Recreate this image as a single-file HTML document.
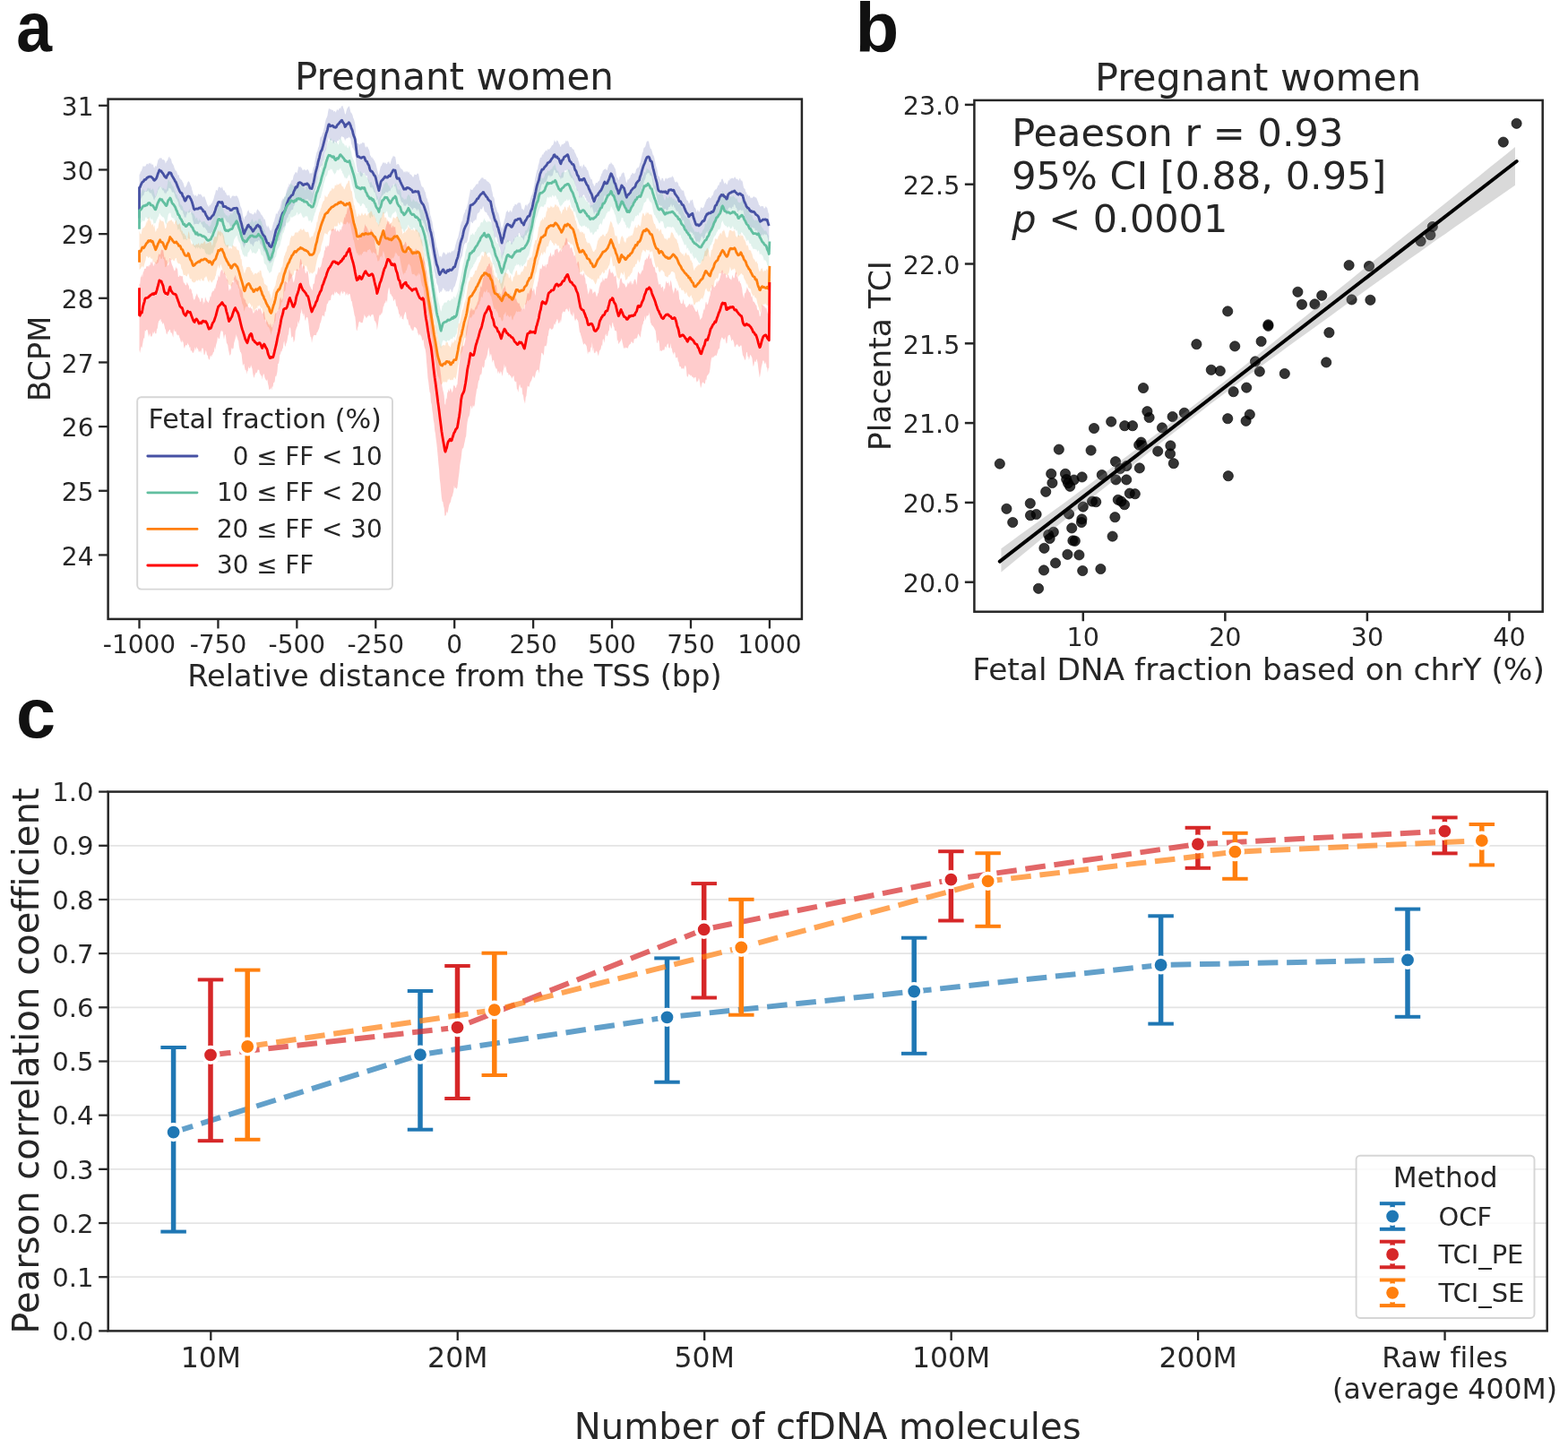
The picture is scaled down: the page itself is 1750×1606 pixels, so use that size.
<!DOCTYPE html>
<html lang="en">
<head>
<meta charset="utf-8">
<title>Figure: fetal fraction, placenta TCI and Pearson correlation</title>
<style>
html,body{margin:0;padding:0;background:#ffffff;}
body{width:1750px;height:1606px;overflow:hidden;}
svg{display:block;font-family:"DejaVu Sans","Liberation Sans",sans-serif;}
text{font-variant-ligatures:none;font-feature-settings:"liga" 0,"clig" 0,"dlig" 0,"calt" 0;white-space:pre;}
</style>
</head>
<body>
<svg width="1750" height="1606" viewBox="0 0 1750 1606" role="img" aria-label="Three-panel figure: BCPM profiles by fetal fraction, placenta TCI versus fetal DNA fraction, and Pearson correlation by number of cfDNA molecules">
<rect x="0" y="0" width="1750" height="1606" fill="#ffffff"/>
<text transform="translate(18.2 56.8) scale(0.93 1)" x="0" y="0" font-size="77" font-weight="bold" font-family="'Liberation Sans', Arial, Helvetica, sans-serif" fill="#111111">a</text>
<text transform="translate(954.6 57.6) scale(1.037 1)" x="0" y="0" font-size="77" font-weight="bold" font-family="'Liberation Sans', Arial, Helvetica, sans-serif" fill="#111111">b</text>
<text transform="translate(18.0 822.8) scale(1.03 1)" x="0" y="0" font-size="77" font-weight="bold" font-family="'Liberation Sans', Arial, Helvetica, sans-serif" fill="#111111">c</text>
<g>
<path d="M155.5,194.8 L156.2,194.3 L156.9,191.4 L157.6,191.2 L158.3,189.2 L159.0,187.5 L159.7,185.1 L160.4,185.9 L161.1,185.0 L161.8,185.9 L162.5,185.3 L163.2,183.8 L163.9,182.7 L164.6,182.7 L165.3,183.7 L166.0,182.5 L166.7,181.7 L167.4,183.1 L168.1,181.2 L168.8,183.2 L169.5,183.5 L170.2,184.1 L170.9,183.2 L171.6,186.4 L172.3,187.8 L173.0,185.7 L173.7,184.9 L174.4,186.2 L175.1,184.1 L175.8,181.3 L176.5,178.0 L177.2,178.2 L177.9,176.2 L178.6,176.6 L179.3,176.7 L180.0,175.8 L180.7,177.3 L181.4,178.5 L182.1,177.7 L182.8,178.5 L183.5,178.7 L184.2,180.2 L184.9,182.7 L185.6,180.5 L186.3,179.4 L187.0,179.0 L187.7,176.7 L188.4,175.4 L189.1,174.6 L189.8,177.3 L190.5,176.5 L191.2,178.4 L191.9,181.8 L192.6,182.8 L193.3,183.8 L194.0,185.2 L194.7,187.7 L195.4,189.3 L196.1,190.7 L196.8,190.5 L197.5,192.5 L198.2,194.6 L198.9,195.8 L199.6,195.1 L200.3,198.5 L201.0,198.9 L201.7,200.2 L202.4,200.5 L203.1,201.4 L203.8,203.2 L204.5,204.0 L205.2,206.8 L205.9,208.8 L206.6,209.5 L207.3,207.9 L208.0,207.6 L208.7,205.2 L209.4,203.6 L210.1,202.3 L210.8,202.5 L211.5,203.6 L212.2,205.2 L212.9,207.1 L213.6,208.5 L214.3,211.8 L215.0,213.7 L215.7,217.1 L216.4,217.1 L217.1,219.2 L217.8,217.8 L218.5,217.5 L219.2,218.8 L219.9,219.5 L220.6,218.3 L221.3,216.1 L222.0,217.1 L222.7,216.9 L223.4,216.7 L224.1,216.4 L224.8,218.0 L225.5,218.4 L226.2,220.5 L226.9,219.7 L227.6,219.1 L228.3,219.5 L229.0,221.2 L229.7,223.3 L230.4,225.3 L231.1,227.8 L231.8,228.9 L232.5,230.3 L233.2,231.0 L233.9,228.3 L234.6,229.4 L235.3,227.9 L236.0,227.0 L236.7,226.2 L237.4,224.4 L238.1,223.0 L238.8,220.5 L239.5,217.7 L240.2,216.1 L240.9,212.6 L241.6,211.7 L242.3,212.9 L243.0,212.0 L243.7,209.1 L244.4,208.4 L245.1,208.8 L245.8,209.1 L246.5,210.1 L247.2,209.7 L247.9,208.0 L248.6,210.4 L249.3,212.5 L250.0,212.5 L250.7,212.6 L251.4,215.0 L252.1,214.6 L252.8,217.5 L253.5,217.6 L254.2,218.8 L254.9,217.8 L255.6,217.5 L256.3,218.4 L257.0,220.9 L257.7,221.4 L258.4,219.6 L259.1,219.0 L259.8,218.3 L260.5,218.5 L261.2,219.0 L261.9,218.5 L262.6,219.3 L263.3,218.1 L264.0,218.9 L264.7,218.5 L265.4,220.2 L266.1,221.6 L266.8,223.7 L267.5,226.4 L268.2,229.8 L268.9,231.2 L269.6,232.7 L270.3,235.6 L271.0,239.9 L271.7,242.8 L272.4,245.5 L273.1,241.8 L273.8,241.8 L274.5,240.4 L275.2,240.0 L275.9,236.5 L276.6,235.5 L277.3,234.1 L278.0,236.5 L278.7,237.8 L279.4,238.2 L280.1,237.9 L280.8,238.6 L281.5,239.0 L282.2,239.4 L282.9,239.2 L283.6,238.2 L284.3,236.8 L285.0,237.2 L285.7,238.9 L286.4,235.3 L287.1,233.7 L287.8,233.6 L288.5,234.7 L289.2,235.4 L289.9,236.2 L290.6,237.4 L291.3,239.4 L292.0,239.4 L292.7,240.8 L293.4,242.0 L294.1,242.9 L294.8,245.1 L295.5,244.3 L296.2,246.7 L296.9,250.6 L297.6,252.2 L298.3,253.9 L299.0,251.3 L299.7,253.0 L300.4,254.2 L301.1,256.5 L301.8,257.3 L302.5,257.4 L303.2,256.0 L303.9,253.6 L304.6,250.6 L305.3,248.1 L306.0,247.0 L306.7,243.7 L307.4,241.7 L308.1,237.6 L308.8,238.9 L309.5,238.8 L310.2,235.9 L310.9,235.6 L311.6,233.7 L312.3,232.7 L313.0,229.9 L313.7,227.1 L314.4,224.0 L315.1,222.9 L315.8,221.2 L316.5,222.2 L317.2,220.5 L317.9,219.5 L318.6,219.6 L319.3,215.3 L320.0,212.3 L320.7,210.5 L321.4,208.6 L322.1,208.1 L322.8,204.5 L323.5,206.3 L324.2,205.2 L324.9,202.1 L325.6,201.2 L326.3,201.3 L327.0,199.2 L327.7,196.0 L328.4,194.8 L329.1,193.4 L329.8,191.9 L330.5,191.9 L331.2,193.5 L331.9,192.0 L332.6,188.9 L333.3,185.4 L334.0,186.6 L334.7,186.4 L335.4,185.4 L336.1,188.2 L336.8,186.4 L337.5,190.1 L338.2,189.3 L338.9,190.3 L339.6,188.7 L340.3,188.9 L341.0,190.4 L341.7,189.9 L342.4,189.4 L343.1,188.8 L343.8,189.5 L344.5,190.4 L345.2,192.5 L345.9,194.4 L346.6,192.9 L347.3,193.0 L348.0,194.1 L348.7,192.3 L349.4,188.3 L350.1,186.3 L350.8,185.7 L351.5,180.0 L352.2,175.8 L352.9,172.3 L353.6,169.7 L354.3,168.8 L355.0,165.1 L355.7,164.0 L356.4,161.0 L357.1,155.3 L357.8,152.4 L358.5,152.7 L359.2,151.6 L359.9,148.7 L360.6,147.6 L361.3,144.1 L362.0,141.9 L362.7,137.8 L363.4,134.5 L364.1,132.3 L364.8,131.0 L365.5,129.1 L366.2,124.3 L366.9,121.2 L367.6,121.3 L368.3,121.6 L369.0,122.3 L369.7,122.3 L370.4,122.7 L371.1,122.8 L371.8,122.9 L372.5,124.8 L373.2,124.1 L373.9,123.8 L374.6,125.7 L375.3,124.3 L376.0,122.3 L376.7,122.3 L377.4,123.5 L378.1,122.1 L378.8,121.1 L379.5,120.3 L380.2,121.7 L380.9,118.4 L381.6,118.5 L382.3,117.8 L383.0,120.0 L383.7,121.7 L384.4,124.2 L385.1,127.6 L385.8,127.2 L386.5,124.0 L387.2,121.7 L387.9,120.2 L388.6,119.8 L389.3,118.2 L390.0,119.3 L390.7,121.9 L391.4,125.5 L392.1,125.7 L392.8,127.1 L393.5,128.5 L394.2,131.4 L394.9,132.8 L395.6,135.3 L396.3,138.5 L397.0,146.3 L397.7,154.0 L398.4,159.7 L399.1,159.9 L399.8,159.9 L400.5,161.0 L401.2,161.6 L401.9,161.1 L402.6,160.1 L403.3,160.5 L404.0,159.8 L404.7,158.8 L405.4,159.5 L406.1,158.9 L406.8,160.1 L407.5,163.2 L408.2,165.0 L408.9,163.6 L409.6,163.6 L410.3,163.9 L411.0,165.7 L411.7,166.8 L412.4,168.7 L413.1,173.6 L413.8,173.8 L414.5,175.9 L415.2,175.0 L415.9,176.9 L416.6,176.9 L417.3,178.7 L418.0,179.3 L418.7,181.5 L419.4,182.4 L420.1,185.8 L420.8,188.6 L421.5,191.2 L422.2,194.3 L422.9,195.5 L423.6,191.1 L424.3,188.1 L425.0,185.2 L425.7,185.3 L426.4,183.3 L427.1,182.1 L427.8,180.9 L428.5,181.6 L429.2,182.5 L429.9,181.0 L430.6,182.2 L431.3,182.9 L432.0,183.3 L432.7,180.8 L433.4,180.9 L434.1,179.7 L434.8,182.7 L435.5,183.1 L436.2,180.3 L436.9,177.7 L437.6,176.4 L438.3,175.2 L439.0,173.5 L439.7,174.7 L440.4,174.7 L441.1,174.7 L441.8,178.8 L442.5,184.2 L443.2,183.4 L443.9,183.0 L444.6,183.1 L445.3,183.7 L446.0,185.4 L446.7,187.6 L447.4,187.7 L448.1,189.2 L448.8,188.5 L449.5,190.1 L450.2,191.0 L450.9,192.7 L451.6,191.6 L452.3,190.9 L453.0,193.1 L453.7,191.1 L454.4,191.4 L455.1,191.5 L455.8,193.1 L456.5,191.3 L457.2,194.0 L457.9,194.4 L458.6,194.7 L459.3,195.2 L460.0,196.6 L460.7,197.6 L461.4,197.7 L462.1,195.8 L462.8,194.3 L463.5,195.0 L464.2,195.1 L464.9,195.3 L465.6,193.4 L466.3,193.7 L467.0,193.7 L467.7,197.1 L468.4,201.0 L469.1,202.0 L469.8,205.5 L470.5,207.4 L471.2,208.8 L471.9,208.6 L472.6,209.4 L473.3,211.2 L474.0,213.2 L474.7,214.5 L475.4,217.7 L476.1,221.3 L476.8,221.6 L477.5,225.4 L478.2,225.8 L478.9,230.6 L479.6,234.9 L480.3,240.5 L481.0,241.8 L481.7,245.5 L482.4,247.2 L483.1,251.9 L483.8,256.9 L484.5,258.6 L485.2,264.6 L485.9,267.9 L486.6,271.6 L487.3,275.5 L488.0,277.0 L488.7,279.6 L489.4,282.5 L490.1,285.6 L490.8,286.8 L491.5,285.4 L492.2,286.0 L492.9,287.5 L493.6,284.1 L494.3,282.5 L495.0,280.9 L495.7,281.9 L496.4,282.4 L497.1,283.2 L497.8,284.8 L498.5,283.4 L499.2,283.0 L499.9,280.9 L500.6,282.9 L501.3,281.3 L502.0,281.4 L502.7,282.8 L503.4,281.5 L504.1,280.4 L504.8,280.0 L505.5,280.8 L506.2,279.3 L506.9,279.4 L507.6,276.9 L508.3,273.4 L509.0,271.5 L509.7,268.5 L510.4,266.4 L511.1,265.2 L511.8,262.2 L512.5,258.7 L513.2,256.4 L513.9,251.5 L514.6,249.5 L515.3,247.2 L516.0,246.2 L516.7,242.5 L517.4,239.7 L518.1,238.0 L518.8,237.0 L519.5,233.8 L520.2,233.9 L520.9,231.4 L521.6,229.3 L522.3,226.1 L523.0,221.7 L523.7,218.5 L524.4,215.1 L525.1,210.4 L525.8,212.0 L526.5,212.0 L527.2,211.9 L527.9,210.7 L528.6,209.8 L529.3,209.1 L530.0,208.3 L530.7,207.1 L531.4,205.8 L532.1,205.5 L532.8,205.2 L533.5,205.6 L534.2,202.2 L534.9,201.4 L535.6,201.3 L536.3,199.5 L537.0,199.4 L537.7,197.9 L538.4,198.6 L539.1,198.1 L539.8,199.7 L540.5,199.9 L541.2,200.2 L541.9,200.1 L542.6,200.8 L543.3,202.2 L544.0,202.3 L544.7,203.1 L545.4,203.1 L546.1,204.7 L546.8,204.4 L547.5,206.0 L548.2,208.4 L548.9,212.4 L549.6,214.8 L550.3,219.6 L551.0,219.8 L551.7,221.8 L552.4,226.6 L553.1,230.2 L553.8,231.4 L554.5,234.3 L555.2,236.7 L555.9,237.3 L556.6,239.1 L557.3,242.2 L558.0,245.9 L558.7,249.0 L559.4,252.8 L560.1,255.7 L560.8,253.7 L561.5,251.6 L562.2,248.5 L562.9,245.6 L563.6,243.6 L564.3,240.1 L565.0,236.2 L565.7,236.3 L566.4,234.3 L567.1,236.6 L567.8,236.9 L568.5,236.4 L569.2,234.8 L569.9,234.7 L570.6,236.8 L571.3,236.4 L572.0,233.1 L572.7,231.7 L573.4,229.8 L574.1,229.9 L574.8,227.6 L575.5,228.1 L576.2,228.8 L576.9,228.3 L577.6,227.0 L578.3,226.0 L579.0,226.8 L579.7,226.1 L580.4,226.2 L581.1,226.8 L581.8,230.3 L582.5,233.3 L583.2,233.1 L583.9,234.1 L584.6,234.7 L585.3,232.5 L586.0,229.6 L586.7,228.6 L587.4,228.3 L588.1,230.8 L588.8,228.3 L589.5,228.1 L590.2,226.0 L590.9,227.1 L591.6,223.8 L592.3,220.8 L593.0,218.6 L593.7,217.5 L594.4,215.4 L595.1,212.0 L595.8,208.6 L596.5,205.0 L597.2,199.5 L597.9,196.6 L598.6,192.9 L599.3,189.8 L600.0,189.0 L600.7,184.4 L601.4,182.6 L602.1,179.1 L602.8,176.4 L603.5,175.4 L604.2,175.9 L604.9,173.0 L605.6,172.2 L606.3,172.7 L607.0,170.6 L607.7,170.1 L608.4,169.1 L609.1,167.6 L609.8,168.3 L610.5,168.7 L611.2,165.7 L611.9,167.2 L612.6,166.6 L613.3,166.5 L614.0,165.5 L614.7,164.8 L615.4,163.5 L616.1,162.1 L616.8,162.3 L617.5,161.0 L618.2,158.7 L618.9,156.1 L619.6,158.0 L620.3,159.1 L621.0,157.5 L621.7,156.6 L622.4,157.3 L623.1,158.3 L623.8,160.5 L624.5,161.1 L625.2,163.0 L625.9,164.2 L626.6,161.5 L627.3,161.5 L628.0,160.2 L628.7,161.4 L629.4,160.0 L630.1,159.9 L630.8,159.0 L631.5,156.5 L632.2,158.5 L632.9,156.4 L633.6,157.4 L634.3,157.9 L635.0,160.5 L635.7,163.3 L636.4,164.3 L637.1,164.1 L637.8,164.3 L638.5,165.5 L639.2,166.4 L639.9,166.5 L640.6,167.2 L641.3,169.4 L642.0,170.9 L642.7,172.3 L643.4,174.3 L644.1,175.7 L644.8,176.2 L645.5,179.2 L646.2,181.3 L646.9,185.3 L647.6,185.6 L648.3,185.8 L649.0,184.2 L649.7,188.2 L650.4,185.5 L651.1,183.7 L651.8,183.4 L652.5,185.8 L653.2,186.3 L653.9,186.2 L654.6,187.8 L655.3,190.1 L656.0,189.5 L656.7,192.1 L657.4,194.5 L658.1,196.9 L658.8,198.2 L659.5,200.2 L660.2,199.6 L660.9,201.0 L661.6,204.8 L662.3,205.2 L663.0,207.8 L663.7,207.4 L664.4,205.7 L665.1,203.7 L665.8,204.1 L666.5,204.5 L667.2,202.9 L667.9,202.3 L668.6,201.9 L669.3,200.6 L670.0,197.4 L670.7,196.3 L671.4,193.8 L672.1,193.3 L672.8,190.4 L673.5,189.9 L674.2,189.1 L674.9,188.9 L675.6,188.6 L676.3,188.6 L677.0,190.0 L677.7,189.7 L678.4,187.1 L679.1,184.7 L679.8,183.6 L680.5,182.6 L681.2,183.2 L681.9,180.8 L682.6,182.2 L683.3,183.0 L684.0,183.9 L684.7,184.2 L685.4,186.1 L686.1,187.6 L686.8,188.5 L687.5,192.3 L688.2,196.8 L688.9,199.0 L689.6,198.1 L690.3,201.2 L691.0,200.0 L691.7,196.8 L692.4,197.6 L693.1,196.2 L693.8,193.7 L694.5,193.6 L695.2,192.8 L695.9,192.3 L696.6,193.3 L697.3,196.5 L698.0,198.4 L698.7,202.6 L699.4,204.4 L700.1,201.6 L700.8,200.0 L701.5,200.8 L702.2,198.4 L702.9,199.4 L703.6,196.8 L704.3,194.8 L705.0,195.0 L705.7,192.8 L706.4,193.1 L707.1,193.8 L707.8,194.2 L708.5,193.3 L709.2,192.8 L709.9,189.6 L710.6,188.2 L711.3,187.8 L712.0,186.2 L712.7,187.5 L713.4,185.6 L714.1,182.3 L714.8,180.9 L715.5,177.1 L716.2,174.3 L716.9,171.1 L717.6,169.5 L718.3,165.8 L719.0,164.5 L719.7,164.6 L720.4,163.0 L721.1,160.3 L721.8,157.9 L722.5,157.5 L723.2,157.4 L723.9,157.6 L724.6,160.4 L725.3,163.4 L726.0,166.3 L726.7,165.8 L727.4,167.8 L728.1,170.3 L728.8,172.9 L729.5,173.5 L730.2,175.7 L730.9,179.2 L731.6,182.2 L732.3,185.6 L733.0,187.5 L733.7,190.5 L734.4,195.8 L735.1,197.5 L735.8,196.6 L736.5,199.6 L737.2,200.8 L737.9,201.7 L738.6,198.8 L739.3,198.7 L740.0,198.9 L740.7,201.7 L741.4,202.6 L742.1,200.5 L742.8,198.7 L743.5,198.4 L744.2,199.9 L744.9,199.6 L745.6,198.6 L746.3,199.0 L747.0,198.0 L747.7,198.3 L748.4,198.6 L749.1,196.8 L749.8,198.4 L750.5,196.1 L751.2,197.6 L751.9,198.4 L752.6,201.1 L753.3,203.5 L754.0,202.6 L754.7,203.8 L755.4,202.2 L756.1,203.7 L756.8,204.2 L757.5,207.3 L758.2,208.2 L758.9,208.2 L759.6,210.6 L760.3,211.0 L761.0,212.6 L761.7,212.6 L762.4,212.6 L763.1,213.0 L763.8,216.3 L764.5,218.8 L765.2,219.8 L765.9,222.0 L766.6,223.4 L767.3,223.8 L768.0,224.6 L768.7,227.0 L769.4,226.9 L770.1,225.1 L770.8,222.5 L771.5,224.4 L772.2,222.8 L772.9,222.8 L773.6,226.0 L774.3,228.7 L775.0,231.4 L775.7,231.7 L776.4,233.1 L777.1,235.0 L777.8,237.2 L778.5,234.3 L779.2,234.4 L779.9,236.7 L780.6,236.2 L781.3,234.6 L782.0,232.0 L782.7,230.9 L783.4,231.9 L784.1,232.4 L784.8,231.6 L785.5,231.2 L786.2,229.1 L786.9,227.0 L787.6,224.9 L788.3,223.7 L789.0,222.1 L789.7,221.9 L790.4,220.9 L791.1,219.9 L791.8,220.1 L792.5,221.6 L793.2,221.0 L793.9,220.2 L794.6,218.2 L795.3,218.3 L796.0,216.7 L796.7,213.8 L797.4,213.1 L798.1,211.6 L798.8,211.4 L799.5,211.3 L800.2,210.0 L800.9,208.2 L801.6,206.5 L802.3,206.9 L803.0,204.3 L803.7,203.1 L804.4,203.4 L805.1,200.6 L805.8,199.6 L806.5,199.5 L807.2,201.7 L807.9,203.4 L808.6,205.4 L809.3,203.6 L810.0,204.5 L810.7,205.5 L811.4,206.0 L812.1,204.7 L812.8,201.6 L813.5,201.3 L814.2,201.4 L814.9,198.6 L815.6,200.1 L816.3,199.1 L817.0,198.5 L817.7,198.8 L818.4,199.6 L819.1,199.0 L819.8,197.5 L820.5,197.5 L821.2,199.3 L821.9,199.8 L822.6,200.1 L823.3,199.5 L824.0,201.7 L824.7,201.1 L825.4,199.3 L826.1,198.8 L826.8,201.4 L827.5,201.5 L828.2,201.4 L828.9,203.4 L829.6,207.5 L830.3,210.0 L831.0,210.6 L831.7,211.6 L832.4,214.4 L833.1,214.6 L833.8,218.0 L834.5,216.6 L835.2,218.9 L835.9,218.5 L836.6,218.3 L837.3,219.9 L838.0,221.4 L838.7,220.2 L839.4,221.3 L840.1,220.2 L840.8,219.7 L841.5,219.1 L842.2,220.0 L842.9,220.3 L843.6,220.5 L844.3,220.7 L845.0,222.7 L845.7,224.6 L846.4,226.0 L847.1,228.9 L847.8,228.7 L848.5,230.8 L849.2,230.6 L849.9,229.8 L850.6,230.3 L851.3,230.1 L852.0,230.4 L852.7,232.6 L853.4,232.4 L854.1,231.5 L854.8,229.9 L855.5,231.6 L856.2,231.9 L856.9,234.8 L857.6,237.7 L858.3,238.8 L858.3,270.4 L857.6,269.8 L856.9,266.0 L856.2,263.3 L855.5,261.6 L854.8,262.6 L854.1,261.4 L853.4,260.9 L852.7,262.0 L852.0,263.1 L851.3,261.1 L850.6,262.3 L849.9,263.1 L849.2,265.1 L848.5,265.5 L847.8,264.3 L847.1,263.4 L846.4,262.1 L845.7,261.5 L845.0,257.0 L844.3,257.4 L843.6,257.1 L842.9,257.8 L842.2,254.6 L841.5,254.7 L840.8,254.6 L840.1,254.1 L839.4,253.5 L838.7,254.4 L838.0,253.9 L837.3,254.2 L836.6,252.6 L835.9,250.3 L835.2,248.9 L834.5,248.9 L833.8,248.4 L833.1,246.0 L832.4,244.5 L831.7,243.3 L831.0,242.3 L830.3,239.0 L829.6,235.4 L828.9,233.7 L828.2,235.5 L827.5,235.0 L826.8,234.6 L826.1,233.7 L825.4,234.9 L824.7,234.5 L824.0,236.3 L823.3,236.5 L822.6,233.8 L821.9,232.1 L821.2,231.8 L820.5,229.1 L819.8,228.6 L819.1,228.0 L818.4,231.4 L817.7,230.6 L817.0,231.7 L816.3,233.2 L815.6,232.2 L814.9,231.5 L814.2,231.5 L813.5,232.0 L812.8,232.6 L812.1,236.5 L811.4,238.2 L810.7,240.1 L810.0,238.0 L809.3,237.2 L808.6,236.3 L807.9,234.8 L807.2,232.8 L806.5,234.2 L805.8,234.4 L805.1,235.0 L804.4,235.7 L803.7,236.3 L803.0,237.4 L802.3,241.2 L801.6,242.9 L800.9,243.1 L800.2,244.7 L799.5,248.0 L798.8,249.2 L798.1,249.2 L797.4,251.7 L796.7,252.9 L796.0,254.6 L795.3,257.1 L794.6,256.0 L793.9,255.5 L793.2,258.0 L792.5,257.6 L791.8,257.3 L791.1,257.2 L790.4,258.2 L789.7,260.3 L789.0,257.8 L788.3,260.6 L787.6,260.3 L786.9,263.1 L786.2,265.9 L785.5,266.4 L784.8,266.4 L784.1,264.9 L783.4,263.4 L782.7,264.5 L782.0,267.4 L781.3,269.1 L780.6,270.5 L779.9,270.9 L779.2,269.0 L778.5,269.5 L777.8,269.6 L777.1,270.9 L776.4,268.7 L775.7,266.2 L775.0,265.5 L774.3,261.4 L773.6,262.2 L772.9,259.7 L772.2,259.9 L771.5,259.4 L770.8,257.9 L770.1,259.5 L769.4,259.9 L768.7,262.6 L768.0,262.2 L767.3,261.3 L766.6,258.5 L765.9,256.2 L765.2,256.3 L764.5,252.7 L763.8,251.1 L763.1,246.2 L762.4,245.6 L761.7,247.3 L761.0,245.1 L760.3,243.8 L759.6,241.3 L758.9,239.0 L758.2,239.7 L757.5,238.4 L756.8,235.8 L756.1,235.8 L755.4,236.1 L754.7,234.6 L754.0,234.2 L753.3,231.4 L752.6,231.7 L751.9,229.1 L751.2,228.6 L750.5,231.0 L749.8,230.5 L749.1,227.2 L748.4,228.9 L747.7,230.7 L747.0,230.9 L746.3,230.9 L745.6,233.6 L744.9,234.6 L744.2,236.2 L743.5,233.6 L742.8,232.9 L742.1,233.0 L741.4,233.7 L740.7,234.7 L740.0,233.9 L739.3,232.8 L738.6,229.3 L737.9,229.9 L737.2,229.7 L736.5,228.4 L735.8,229.2 L735.1,229.1 L734.4,227.2 L733.7,224.2 L733.0,220.0 L732.3,217.8 L731.6,214.1 L730.9,211.8 L730.2,210.8 L729.5,209.7 L728.8,206.5 L728.1,201.7 L727.4,197.6 L726.7,195.7 L726.0,196.4 L725.3,195.0 L724.6,193.0 L723.9,192.7 L723.2,193.4 L722.5,192.9 L721.8,194.7 L721.1,195.1 L720.4,198.8 L719.7,200.5 L719.0,201.5 L718.3,204.4 L717.6,207.3 L716.9,207.8 L716.2,210.1 L715.5,212.4 L714.8,215.2 L714.1,216.6 L713.4,219.2 L712.7,218.1 L712.0,219.1 L711.3,217.2 L710.6,218.8 L709.9,220.1 L709.2,225.3 L708.5,225.9 L707.8,226.3 L707.1,226.4 L706.4,226.8 L705.7,229.6 L705.0,228.0 L704.3,228.8 L703.6,230.2 L702.9,232.9 L702.2,233.4 L701.5,235.1 L700.8,233.8 L700.1,233.9 L699.4,237.5 L698.7,236.7 L698.0,233.6 L697.3,230.1 L696.6,230.2 L695.9,229.8 L695.2,228.3 L694.5,227.3 L693.8,226.4 L693.1,230.7 L692.4,230.8 L691.7,232.6 L691.0,234.5 L690.3,235.7 L689.6,232.0 L688.9,229.2 L688.2,228.9 L687.5,228.2 L686.8,223.5 L686.1,220.4 L685.4,219.5 L684.7,214.8 L684.0,216.8 L683.3,215.4 L682.6,213.8 L681.9,212.5 L681.2,215.3 L680.5,216.2 L679.8,215.7 L679.1,216.2 L678.4,220.5 L677.7,222.3 L677.0,221.1 L676.3,222.1 L675.6,218.6 L674.9,217.8 L674.2,220.5 L673.5,224.3 L672.8,226.2 L672.1,227.0 L671.4,229.0 L670.7,229.8 L670.0,231.7 L669.3,231.7 L668.6,233.6 L667.9,232.3 L667.2,235.7 L666.5,237.4 L665.8,238.2 L665.1,237.0 L664.4,235.9 L663.7,237.8 L663.0,239.5 L662.3,236.2 L661.6,233.6 L660.9,231.5 L660.2,230.6 L659.5,233.1 L658.8,230.6 L658.1,228.1 L657.4,225.8 L656.7,225.9 L656.0,225.3 L655.3,224.1 L654.6,224.3 L653.9,220.3 L653.2,221.6 L652.5,219.1 L651.8,216.7 L651.1,217.9 L650.4,218.2 L649.7,220.1 L649.0,221.2 L648.3,219.0 L647.6,220.1 L646.9,221.2 L646.2,219.6 L645.5,215.5 L644.8,212.5 L644.1,213.4 L643.4,209.9 L642.7,208.5 L642.0,206.3 L641.3,203.9 L640.6,201.8 L639.9,200.8 L639.2,199.4 L638.5,198.4 L637.8,198.9 L637.1,197.4 L636.4,196.5 L635.7,195.6 L635.0,192.9 L634.3,191.6 L633.6,188.7 L632.9,188.9 L632.2,190.1 L631.5,190.4 L630.8,189.8 L630.1,190.7 L629.4,192.9 L628.7,197.8 L628.0,198.6 L627.3,198.6 L626.6,198.2 L625.9,200.6 L625.2,197.8 L624.5,197.4 L623.8,195.9 L623.1,194.4 L622.4,192.7 L621.7,192.5 L621.0,192.9 L620.3,192.9 L619.6,190.3 L618.9,189.2 L618.2,189.9 L617.5,192.8 L616.8,196.2 L616.1,195.6 L615.4,196.9 L614.7,195.7 L614.0,198.5 L613.3,195.5 L612.6,196.1 L611.9,195.5 L611.2,198.1 L610.5,200.2 L609.8,202.2 L609.1,203.4 L608.4,203.5 L607.7,203.3 L607.0,205.4 L606.3,206.0 L605.6,205.1 L604.9,205.6 L604.2,206.9 L603.5,210.7 L602.8,213.2 L602.1,214.0 L601.4,215.1 L600.7,219.1 L600.0,219.2 L599.3,223.3 L598.6,226.4 L597.9,231.4 L597.2,233.2 L596.5,238.3 L595.8,240.8 L595.1,243.4 L594.4,249.5 L593.7,251.8 L593.0,253.3 L592.3,254.5 L591.6,257.3 L590.9,259.1 L590.2,257.7 L589.5,258.6 L588.8,259.8 L588.1,260.6 L587.4,262.8 L586.7,263.2 L586.0,262.0 L585.3,265.5 L584.6,268.7 L583.9,267.0 L583.2,265.5 L582.5,265.0 L581.8,264.9 L581.1,263.4 L580.4,262.3 L579.7,260.1 L579.0,260.1 L578.3,263.0 L577.6,264.5 L576.9,263.6 L576.2,265.1 L575.5,265.0 L574.8,265.1 L574.1,267.4 L573.4,269.3 L572.7,270.0 L572.0,271.6 L571.3,272.7 L570.6,273.0 L569.9,270.1 L569.2,269.0 L568.5,269.0 L567.8,270.5 L567.1,269.6 L566.4,270.0 L565.7,271.1 L565.0,271.8 L564.3,274.4 L563.6,277.7 L562.9,279.8 L562.2,282.8 L561.5,284.5 L560.8,286.1 L560.1,290.2 L559.4,285.8 L558.7,281.0 L558.0,277.2 L557.3,275.6 L556.6,273.8 L555.9,270.3 L555.2,270.2 L554.5,266.1 L553.8,264.5 L553.1,264.2 L552.4,265.7 L551.7,263.4 L551.0,258.7 L550.3,257.5 L549.6,254.1 L548.9,249.4 L548.2,247.2 L547.5,244.6 L546.8,244.7 L546.1,242.8 L545.4,241.6 L544.7,240.3 L544.0,239.9 L543.3,237.6 L542.6,237.1 L541.9,236.8 L541.2,236.2 L540.5,235.3 L539.8,231.6 L539.1,229.8 L538.4,232.4 L537.7,233.8 L537.0,233.2 L536.3,232.9 L535.6,235.4 L534.9,237.2 L534.2,237.3 L533.5,237.9 L532.8,238.5 L532.1,241.9 L531.4,245.8 L530.7,245.2 L530.0,245.4 L529.3,246.7 L528.6,246.6 L527.9,248.7 L527.2,249.3 L526.5,248.2 L525.8,247.8 L525.1,247.0 L524.4,254.3 L523.7,257.8 L523.0,261.0 L522.3,265.2 L521.6,268.5 L520.9,270.6 L520.2,271.2 L519.5,270.7 L518.8,272.2 L518.1,273.1 L517.4,276.2 L516.7,279.9 L516.0,285.5 L515.3,286.8 L514.6,288.3 L513.9,290.6 L513.2,292.9 L512.5,297.9 L511.8,301.5 L511.1,306.8 L510.4,309.2 L509.7,312.6 L509.0,314.7 L508.3,317.3 L507.6,319.4 L506.9,320.2 L506.2,321.5 L505.5,323.6 L504.8,325.8 L504.1,326.2 L503.4,323.6 L502.7,322.3 L502.0,323.5 L501.3,324.9 L500.6,325.3 L499.9,325.6 L499.2,324.6 L498.5,325.3 L497.8,326.0 L497.1,323.2 L496.4,324.4 L495.7,322.5 L495.0,322.1 L494.3,321.3 L493.6,323.7 L492.9,324.7 L492.2,325.9 L491.5,324.9 L490.8,327.1 L490.1,326.7 L489.4,323.0 L488.7,319.0 L488.0,317.6 L487.3,315.9 L486.6,311.1 L485.9,310.1 L485.2,305.1 L484.5,302.7 L483.8,296.3 L483.1,291.9 L482.4,286.6 L481.7,283.0 L481.0,279.3 L480.3,275.8 L479.6,274.1 L478.9,270.1 L478.2,264.5 L477.5,261.4 L476.8,258.9 L476.1,258.6 L475.4,256.7 L474.7,254.0 L474.0,251.5 L473.3,249.5 L472.6,248.7 L471.9,246.0 L471.2,246.3 L470.5,246.3 L469.8,245.1 L469.1,242.1 L468.4,237.7 L467.7,235.8 L467.0,233.4 L466.3,233.3 L465.6,235.6 L464.9,234.4 L464.2,232.8 L463.5,232.5 L462.8,232.1 L462.1,232.0 L461.4,232.6 L460.7,233.8 L460.0,233.9 L459.3,232.4 L458.6,231.6 L457.9,231.4 L457.2,230.2 L456.5,229.8 L455.8,229.8 L455.1,228.7 L454.4,227.2 L453.7,227.9 L453.0,230.3 L452.3,229.4 L451.6,229.4 L450.9,229.9 L450.2,227.7 L449.5,226.1 L448.8,226.0 L448.1,225.6 L447.4,224.1 L446.7,221.3 L446.0,219.1 L445.3,217.6 L444.6,216.9 L443.9,216.7 L443.2,215.8 L442.5,213.7 L441.8,210.4 L441.1,207.2 L440.4,208.8 L439.7,206.0 L439.0,205.1 L438.3,208.2 L437.6,209.3 L436.9,209.9 L436.2,210.7 L435.5,213.2 L434.8,213.2 L434.1,212.8 L433.4,214.1 L432.7,215.2 L432.0,214.0 L431.3,215.0 L430.6,213.8 L429.9,215.8 L429.2,216.0 L428.5,215.9 L427.8,217.8 L427.1,217.4 L426.4,218.9 L425.7,219.7 L425.0,221.8 L424.3,226.5 L423.6,228.8 L422.9,230.4 L422.2,227.5 L421.5,222.0 L420.8,223.5 L420.1,221.3 L419.4,217.8 L418.7,215.2 L418.0,214.5 L417.3,214.0 L416.6,211.2 L415.9,210.5 L415.2,208.5 L414.5,209.7 L413.8,209.2 L413.1,209.0 L412.4,205.2 L411.7,204.2 L411.0,201.6 L410.3,199.4 L409.6,195.8 L408.9,196.3 L408.2,196.2 L407.5,195.1 L406.8,192.6 L406.1,192.9 L405.4,193.0 L404.7,195.3 L404.0,197.5 L403.3,196.9 L402.6,197.1 L401.9,195.4 L401.2,193.0 L400.5,192.5 L399.8,192.1 L399.1,191.9 L398.4,187.5 L397.7,183.5 L397.0,176.8 L396.3,171.6 L395.6,167.7 L394.9,167.7 L394.2,165.4 L393.5,165.0 L392.8,162.0 L392.1,160.2 L391.4,155.3 L390.7,153.7 L390.0,153.8 L389.3,152.5 L388.6,153.9 L387.9,154.1 L387.2,154.4 L386.5,154.5 L385.8,155.2 L385.1,157.3 L384.4,154.7 L383.7,153.3 L383.0,153.0 L382.3,152.7 L381.6,151.9 L380.9,152.9 L380.2,154.7 L379.5,155.7 L378.8,155.3 L378.1,156.5 L377.4,157.3 L376.7,156.8 L376.0,158.5 L375.3,159.6 L374.6,159.2 L373.9,158.1 L373.2,158.0 L372.5,160.0 L371.8,160.0 L371.1,157.5 L370.4,156.7 L369.7,156.4 L369.0,156.5 L368.3,156.4 L367.6,155.7 L366.9,153.0 L366.2,156.7 L365.5,159.6 L364.8,162.9 L364.1,166.4 L363.4,168.6 L362.7,170.8 L362.0,174.3 L361.3,178.3 L360.6,179.3 L359.9,180.7 L359.2,185.1 L358.5,185.0 L357.8,186.7 L357.1,187.4 L356.4,191.9 L355.7,192.4 L355.0,197.3 L354.3,199.7 L353.6,203.6 L352.9,205.6 L352.2,209.3 L351.5,212.3 L350.8,215.4 L350.1,219.6 L349.4,221.6 L348.7,226.1 L348.0,227.5 L347.3,227.8 L346.6,226.6 L345.9,224.2 L345.2,223.8 L344.5,223.7 L343.8,223.0 L343.1,221.5 L342.4,222.9 L341.7,222.1 L341.0,223.2 L340.3,223.2 L339.6,223.1 L338.9,225.2 L338.2,226.4 L337.5,225.7 L336.8,224.4 L336.1,222.8 L335.4,222.4 L334.7,221.4 L334.0,219.9 L333.3,220.3 L332.6,223.0 L331.9,225.4 L331.2,225.9 L330.5,225.6 L329.8,225.7 L329.1,227.9 L328.4,229.6 L327.7,230.3 L327.0,234.1 L326.3,233.8 L325.6,234.3 L324.9,234.9 L324.2,236.2 L323.5,238.2 L322.8,239.2 L322.1,239.0 L321.4,242.8 L320.7,242.4 L320.0,244.7 L319.3,245.9 L318.6,252.0 L317.9,251.4 L317.2,253.7 L316.5,253.3 L315.8,255.3 L315.1,256.7 L314.4,258.6 L313.7,259.8 L313.0,261.9 L312.3,263.9 L311.6,267.9 L310.9,268.1 L310.2,268.9 L309.5,268.8 L308.8,270.2 L308.1,274.1 L307.4,274.6 L306.7,278.2 L306.0,282.6 L305.3,287.1 L304.6,288.7 L303.9,290.7 L303.2,291.7 L302.5,293.1 L301.8,292.5 L301.1,294.3 L300.4,293.1 L299.7,291.5 L299.0,290.7 L298.3,289.9 L297.6,287.6 L296.9,285.3 L296.2,282.4 L295.5,280.7 L294.8,280.4 L294.1,280.2 L293.4,277.1 L292.7,275.2 L292.0,273.8 L291.3,272.6 L290.6,272.5 L289.9,269.0 L289.2,267.9 L288.5,268.1 L287.8,269.4 L287.1,269.8 L286.4,268.9 L285.7,269.5 L285.0,269.6 L284.3,270.1 L283.6,271.5 L282.9,274.6 L282.2,274.9 L281.5,273.1 L280.8,272.2 L280.1,272.6 L279.4,272.3 L278.7,270.2 L278.0,268.5 L277.3,267.8 L276.6,268.5 L275.9,269.9 L275.2,271.5 L274.5,270.9 L273.8,273.5 L273.1,273.9 L272.4,276.9 L271.7,275.0 L271.0,273.1 L270.3,271.1 L269.6,265.7 L268.9,264.6 L268.2,263.7 L267.5,259.4 L266.8,255.7 L266.1,256.3 L265.4,253.2 L264.7,250.4 L264.0,250.0 L263.3,248.9 L262.6,249.9 L261.9,249.8 L261.2,249.9 L260.5,250.1 L259.8,251.2 L259.1,252.6 L258.4,252.5 L257.7,253.8 L257.0,252.5 L256.3,250.4 L255.6,249.2 L254.9,248.0 L254.2,248.4 L253.5,248.2 L252.8,246.8 L252.1,246.2 L251.4,244.5 L250.7,242.3 L250.0,244.4 L249.3,244.4 L248.6,243.3 L247.9,242.8 L247.2,243.7 L246.5,243.8 L245.8,242.8 L245.1,241.8 L244.4,242.0 L243.7,241.9 L243.0,244.9 L242.3,247.5 L241.6,248.1 L240.9,249.9 L240.2,252.1 L239.5,251.9 L238.8,253.7 L238.1,256.2 L237.4,257.4 L236.7,259.5 L236.0,259.0 L235.3,261.1 L234.6,260.4 L233.9,259.9 L233.2,260.1 L232.5,260.1 L231.8,260.1 L231.1,257.4 L230.4,256.7 L229.7,255.5 L229.0,254.6 L228.3,253.2 L227.6,254.4 L226.9,253.3 L226.2,253.1 L225.5,250.5 L224.8,250.2 L224.1,248.6 L223.4,247.5 L222.7,248.4 L222.0,250.1 L221.3,250.3 L220.6,250.0 L219.9,249.7 L219.2,249.7 L218.5,250.1 L217.8,249.7 L217.1,250.6 L216.4,250.4 L215.7,247.2 L215.0,244.9 L214.3,240.4 L213.6,239.2 L212.9,236.8 L212.2,237.1 L211.5,237.1 L210.8,238.1 L210.1,237.2 L209.4,235.7 L208.7,238.4 L208.0,240.3 L207.3,243.2 L206.6,241.9 L205.9,243.5 L205.2,239.8 L204.5,238.3 L203.8,235.3 L203.1,234.8 L202.4,234.6 L201.7,233.9 L201.0,231.8 L200.3,231.1 L199.6,229.7 L198.9,225.8 L198.2,224.4 L197.5,222.8 L196.8,222.1 L196.1,220.7 L195.4,219.5 L194.7,216.2 L194.0,214.9 L193.3,214.3 L192.6,214.7 L191.9,214.3 L191.2,211.9 L190.5,210.6 L189.8,210.3 L189.1,209.9 L188.4,209.5 L187.7,213.0 L187.0,213.2 L186.3,213.9 L185.6,215.6 L184.9,216.8 L184.2,214.8 L183.5,215.7 L182.8,213.2 L182.1,212.2 L181.4,212.6 L180.7,211.1 L180.0,208.0 L179.3,209.4 L178.6,208.3 L177.9,209.7 L177.2,211.6 L176.5,211.7 L175.8,214.2 L175.1,216.7 L174.4,218.4 L173.7,220.0 L173.0,220.9 L172.3,223.5 L171.6,222.5 L170.9,219.9 L170.2,218.6 L169.5,217.2 L168.8,214.8 L168.1,216.2 L167.4,215.4 L166.7,214.5 L166.0,214.0 L165.3,212.3 L164.6,213.4 L163.9,213.5 L163.2,214.0 L162.5,213.8 L161.8,213.8 L161.1,214.9 L160.4,218.0 L159.7,218.3 L159.0,218.2 L158.3,220.2 L157.6,221.2 L156.9,223.8 L156.2,225.9 L155.5,226.9Z" fill="#4651a3" stroke="none" stroke-width="0" fill-opacity="0.2"/>
<path d="M155.5,217.2 L156.2,217.9 L156.9,217.0 L157.6,215.6 L158.3,213.4 L159.0,212.1 L159.7,211.2 L160.4,211.5 L161.1,213.7 L161.8,212.5 L162.5,213.9 L163.2,212.8 L163.9,212.5 L164.6,209.7 L165.3,209.4 L166.0,210.0 L166.7,211.0 L167.4,209.5 L168.1,211.8 L168.8,212.2 L169.5,212.0 L170.2,210.6 L170.9,210.8 L171.6,212.5 L172.3,216.3 L173.0,218.2 L173.7,219.8 L174.4,216.9 L175.1,214.3 L175.8,212.8 L176.5,210.3 L177.2,209.0 L177.9,208.1 L178.6,207.9 L179.3,208.8 L180.0,209.6 L180.7,208.5 L181.4,210.7 L182.1,209.6 L182.8,210.2 L183.5,210.9 L184.2,212.1 L184.9,210.8 L185.6,212.0 L186.3,210.3 L187.0,205.5 L187.7,200.9 L188.4,200.4 L189.1,202.5 L189.8,203.0 L190.5,202.1 L191.2,204.9 L191.9,206.2 L192.6,207.5 L193.3,208.3 L194.0,209.6 L194.7,212.6 L195.4,213.3 L196.1,215.9 L196.8,216.9 L197.5,217.3 L198.2,218.9 L198.9,221.9 L199.6,221.3 L200.3,224.1 L201.0,227.2 L201.7,228.5 L202.4,228.6 L203.1,229.7 L203.8,230.5 L204.5,233.4 L205.2,235.4 L205.9,234.6 L206.6,236.5 L207.3,236.7 L208.0,235.5 L208.7,236.7 L209.4,235.9 L210.1,235.9 L210.8,235.0 L211.5,232.9 L212.2,237.7 L212.9,237.6 L213.6,237.6 L214.3,236.1 L215.0,238.3 L215.7,237.9 L216.4,238.8 L217.1,240.5 L217.8,242.0 L218.5,244.4 L219.2,243.5 L219.9,242.6 L220.6,245.5 L221.3,246.6 L222.0,246.9 L222.7,243.8 L223.4,246.0 L224.1,246.9 L224.8,249.0 L225.5,247.3 L226.2,247.8 L226.9,247.1 L227.6,246.9 L228.3,246.8 L229.0,248.4 L229.7,249.2 L230.4,250.1 L231.1,250.8 L231.8,250.1 L232.5,252.0 L233.2,252.1 L233.9,253.4 L234.6,251.7 L235.3,250.7 L236.0,248.1 L236.7,246.1 L237.4,246.1 L238.1,242.7 L238.8,241.8 L239.5,239.1 L240.2,238.8 L240.9,236.6 L241.6,236.3 L242.3,235.7 L243.0,230.1 L243.7,227.1 L244.4,228.1 L245.1,229.5 L245.8,230.3 L246.5,230.1 L247.2,229.5 L247.9,228.1 L248.6,231.6 L249.3,234.0 L250.0,237.1 L250.7,238.0 L251.4,238.7 L252.1,240.2 L252.8,240.2 L253.5,240.8 L254.2,240.4 L254.9,242.9 L255.6,239.8 L256.3,240.7 L257.0,238.6 L257.7,238.5 L258.4,238.8 L259.1,239.8 L259.8,237.8 L260.5,236.0 L261.2,234.9 L261.9,233.3 L262.6,234.8 L263.3,231.7 L264.0,232.3 L264.7,235.5 L265.4,235.0 L266.1,239.0 L266.8,240.6 L267.5,241.9 L268.2,241.8 L268.9,246.5 L269.6,248.6 L270.3,249.7 L271.0,251.9 L271.7,251.1 L272.4,251.9 L273.1,253.1 L273.8,254.8 L274.5,252.7 L275.2,252.8 L275.9,249.9 L276.6,249.9 L277.3,249.6 L278.0,249.0 L278.7,248.3 L279.4,248.1 L280.1,247.4 L280.8,245.1 L281.5,244.1 L282.2,245.9 L282.9,247.9 L283.6,248.6 L284.3,246.9 L285.0,245.9 L285.7,246.5 L286.4,246.2 L287.1,248.6 L287.8,246.7 L288.5,244.4 L289.2,244.3 L289.9,244.4 L290.6,244.0 L291.3,247.1 L292.0,246.8 L292.7,250.1 L293.4,251.8 L294.1,255.9 L294.8,255.8 L295.5,257.2 L296.2,260.3 L296.9,262.9 L297.6,263.6 L298.3,265.6 L299.0,267.0 L299.7,269.6 L300.4,272.1 L301.1,271.5 L301.8,269.0 L302.5,268.9 L303.2,269.3 L303.9,267.2 L304.6,266.8 L305.3,265.5 L306.0,261.5 L306.7,258.4 L307.4,255.5 L308.1,251.5 L308.8,249.3 L309.5,247.3 L310.2,245.1 L310.9,243.0 L311.6,242.3 L312.3,239.2 L313.0,237.7 L313.7,233.7 L314.4,230.9 L315.1,226.9 L315.8,224.3 L316.5,222.7 L317.2,219.6 L317.9,219.6 L318.6,218.2 L319.3,216.1 L320.0,215.4 L320.7,213.6 L321.4,212.4 L322.1,211.2 L322.8,208.9 L323.5,208.7 L324.2,204.8 L324.9,204.2 L325.6,206.4 L326.3,206.3 L327.0,207.3 L327.7,207.2 L328.4,208.0 L329.1,207.4 L329.8,207.6 L330.5,206.5 L331.2,203.5 L331.9,203.9 L332.6,203.6 L333.3,205.5 L334.0,205.2 L334.7,206.9 L335.4,205.6 L336.1,206.6 L336.8,205.9 L337.5,207.7 L338.2,207.2 L338.9,208.4 L339.6,209.7 L340.3,212.5 L341.0,211.8 L341.7,207.8 L342.4,207.0 L343.1,207.6 L343.8,209.7 L344.5,211.9 L345.2,211.4 L345.9,211.4 L346.6,211.4 L347.3,213.5 L348.0,214.6 L348.7,215.7 L349.4,213.4 L350.1,211.8 L350.8,210.7 L351.5,209.6 L352.2,206.6 L352.9,204.0 L353.6,200.2 L354.3,198.4 L355.0,197.0 L355.7,194.6 L356.4,192.8 L357.1,190.7 L357.8,188.6 L358.5,186.2 L359.2,182.4 L359.9,181.7 L360.6,179.1 L361.3,177.6 L362.0,174.4 L362.7,172.5 L363.4,168.6 L364.1,165.8 L364.8,164.0 L365.5,160.8 L366.2,159.6 L366.9,156.9 L367.6,156.9 L368.3,154.9 L369.0,154.9 L369.7,154.3 L370.4,158.5 L371.1,158.8 L371.8,156.5 L372.5,156.4 L373.2,157.6 L373.9,159.4 L374.6,160.1 L375.3,157.7 L376.0,159.4 L376.7,159.4 L377.4,161.8 L378.1,160.8 L378.8,156.0 L379.5,155.1 L380.2,154.0 L380.9,155.6 L381.6,157.2 L382.3,159.5 L383.0,159.9 L383.7,160.5 L384.4,161.6 L385.1,164.1 L385.8,161.8 L386.5,162.3 L387.2,164.6 L387.9,164.4 L388.6,165.7 L389.3,163.7 L390.0,161.7 L390.7,164.0 L391.4,167.7 L392.1,169.4 L392.8,174.5 L393.5,176.1 L394.2,178.1 L394.9,178.9 L395.6,181.3 L396.3,183.7 L397.0,187.9 L397.7,191.3 L398.4,193.9 L399.1,191.3 L399.8,193.2 L400.5,192.4 L401.2,193.5 L401.9,191.4 L402.6,191.1 L403.3,193.0 L404.0,192.7 L404.7,193.9 L405.4,193.8 L406.1,193.3 L406.8,193.1 L407.5,195.5 L408.2,196.3 L408.9,197.4 L409.6,197.8 L410.3,198.9 L411.0,200.1 L411.7,201.2 L412.4,204.8 L413.1,204.1 L413.8,203.1 L414.5,203.1 L415.2,205.2 L415.9,207.2 L416.6,206.6 L417.3,208.3 L418.0,211.1 L418.7,212.9 L419.4,215.2 L420.1,217.2 L420.8,218.4 L421.5,219.3 L422.2,222.2 L422.9,222.9 L423.6,220.3 L424.3,218.9 L425.0,219.4 L425.7,215.5 L426.4,211.8 L427.1,209.9 L427.8,208.7 L428.5,205.8 L429.2,204.9 L429.9,204.0 L430.6,203.0 L431.3,203.3 L432.0,203.5 L432.7,204.8 L433.4,207.0 L434.1,206.7 L434.8,208.5 L435.5,210.5 L436.2,210.2 L436.9,209.6 L437.6,207.2 L438.3,206.8 L439.0,205.4 L439.7,206.8 L440.4,206.1 L441.1,204.9 L441.8,204.3 L442.5,206.4 L443.2,209.2 L443.9,211.4 L444.6,211.4 L445.3,212.8 L446.0,210.8 L446.7,212.2 L447.4,214.1 L448.1,219.2 L448.8,220.6 L449.5,220.5 L450.2,221.2 L450.9,223.1 L451.6,222.8 L452.3,221.6 L453.0,223.6 L453.7,221.9 L454.4,219.3 L455.1,218.0 L455.8,217.0 L456.5,217.4 L457.2,218.5 L457.9,219.8 L458.6,223.0 L459.3,225.0 L460.0,224.9 L460.7,222.7 L461.4,221.9 L462.1,222.9 L462.8,224.5 L463.5,225.1 L464.2,225.1 L464.9,223.9 L465.6,225.5 L466.3,226.1 L467.0,227.1 L467.7,227.4 L468.4,226.8 L469.1,228.8 L469.8,233.4 L470.5,234.2 L471.2,234.0 L471.9,234.3 L472.6,237.0 L473.3,236.9 L474.0,240.3 L474.7,243.8 L475.4,247.3 L476.1,250.0 L476.8,253.5 L477.5,259.0 L478.2,265.5 L478.9,270.5 L479.6,275.7 L480.3,280.7 L481.0,284.6 L481.7,289.2 L482.4,294.7 L483.1,300.2 L483.8,303.7 L484.5,309.8 L485.2,314.7 L485.9,318.4 L486.6,321.2 L487.3,326.6 L488.0,330.7 L488.7,332.4 L489.4,337.2 L490.1,339.3 L490.8,341.8 L491.5,345.5 L492.2,347.7 L492.9,345.8 L493.6,341.2 L494.3,341.0 L495.0,339.2 L495.7,338.0 L496.4,337.7 L497.1,337.0 L497.8,337.9 L498.5,337.5 L499.2,336.1 L499.9,334.9 L500.6,334.7 L501.3,335.4 L502.0,336.0 L502.7,335.6 L503.4,334.8 L504.1,333.2 L504.8,333.3 L505.5,334.4 L506.2,330.9 L506.9,330.6 L507.6,332.5 L508.3,332.4 L509.0,330.8 L509.7,328.8 L510.4,326.9 L511.1,325.0 L511.8,322.3 L512.5,317.7 L513.2,313.5 L513.9,310.3 L514.6,306.9 L515.3,303.7 L516.0,299.9 L516.7,295.1 L517.4,293.3 L518.1,288.9 L518.8,286.5 L519.5,281.1 L520.2,278.5 L520.9,276.4 L521.6,271.6 L522.3,269.9 L523.0,270.9 L523.7,268.2 L524.4,264.1 L525.1,262.5 L525.8,261.6 L526.5,262.2 L527.2,260.4 L527.9,260.3 L528.6,261.9 L529.3,262.4 L530.0,259.3 L530.7,258.8 L531.4,257.9 L532.1,256.1 L532.8,255.3 L533.5,253.0 L534.2,254.1 L534.9,252.6 L535.6,252.0 L536.3,249.2 L537.0,247.9 L537.7,248.1 L538.4,248.4 L539.1,247.0 L539.8,245.6 L540.5,243.2 L541.2,245.9 L541.9,246.0 L542.6,247.6 L543.3,247.7 L544.0,248.2 L544.7,245.8 L545.4,247.4 L546.1,247.3 L546.8,247.0 L547.5,248.0 L548.2,248.1 L548.9,250.3 L549.6,252.0 L550.3,255.9 L551.0,258.9 L551.7,261.3 L552.4,263.9 L553.1,267.7 L553.8,269.7 L554.5,271.2 L555.2,271.4 L555.9,271.9 L556.6,274.3 L557.3,278.0 L558.0,280.6 L558.7,281.4 L559.4,284.5 L560.1,286.4 L560.8,283.6 L561.5,280.8 L562.2,281.0 L562.9,277.2 L563.6,275.4 L564.3,274.6 L565.0,271.3 L565.7,268.7 L566.4,267.9 L567.1,267.6 L567.8,268.2 L568.5,270.2 L569.2,269.8 L569.9,271.7 L570.6,270.5 L571.3,270.4 L572.0,271.8 L572.7,269.0 L573.4,266.6 L574.1,266.5 L574.8,264.8 L575.5,264.2 L576.2,265.5 L576.9,263.6 L577.6,263.3 L578.3,261.3 L579.0,263.6 L579.7,263.9 L580.4,264.8 L581.1,262.2 L581.8,263.2 L582.5,263.7 L583.2,264.3 L583.9,261.2 L584.6,263.0 L585.3,261.4 L586.0,257.7 L586.7,257.3 L587.4,256.8 L588.1,257.1 L588.8,254.3 L589.5,253.3 L590.2,250.2 L590.9,247.4 L591.6,244.7 L592.3,243.1 L593.0,239.8 L593.7,235.2 L594.4,232.3 L595.1,226.8 L595.8,223.7 L596.5,220.4 L597.2,215.5 L597.9,215.1 L598.6,211.4 L599.3,210.0 L600.0,207.6 L600.7,204.7 L601.4,202.5 L602.1,200.2 L602.8,199.1 L603.5,198.6 L604.2,198.3 L604.9,199.7 L605.6,198.8 L606.3,199.6 L607.0,198.1 L607.7,196.9 L608.4,193.5 L609.1,193.2 L609.8,193.6 L610.5,192.3 L611.2,190.0 L611.9,190.8 L612.6,191.2 L613.3,191.1 L614.0,189.0 L614.7,189.7 L615.4,188.3 L616.1,189.0 L616.8,186.0 L617.5,185.5 L618.2,185.2 L618.9,183.5 L619.6,182.9 L620.3,186.7 L621.0,189.0 L621.7,190.5 L622.4,190.4 L623.1,191.3 L623.8,193.6 L624.5,195.4 L625.2,196.2 L625.9,196.9 L626.6,193.5 L627.3,192.6 L628.0,192.6 L628.7,192.3 L629.4,191.6 L630.1,192.6 L630.8,192.0 L631.5,191.9 L632.2,191.7 L632.9,189.1 L633.6,188.6 L634.3,189.2 L635.0,188.9 L635.7,189.5 L636.4,191.5 L637.1,193.4 L637.8,195.5 L638.5,195.4 L639.2,197.7 L639.9,199.0 L640.6,200.0 L641.3,202.7 L642.0,205.0 L642.7,209.8 L643.4,209.5 L644.1,211.1 L644.8,212.8 L645.5,217.3 L646.2,218.9 L646.9,219.0 L647.6,220.6 L648.3,219.5 L649.0,218.1 L649.7,220.9 L650.4,219.1 L651.1,218.7 L651.8,219.6 L652.5,221.5 L653.2,222.7 L653.9,224.0 L654.6,224.9 L655.3,225.2 L656.0,224.8 L656.7,226.5 L657.4,227.5 L658.1,229.3 L658.8,229.3 L659.5,229.3 L660.2,228.3 L660.9,229.8 L661.6,228.5 L662.3,228.0 L663.0,225.9 L663.7,226.0 L664.4,226.6 L665.1,225.0 L665.8,225.1 L666.5,223.2 L667.2,221.2 L667.9,218.5 L668.6,216.5 L669.3,216.4 L670.0,214.2 L670.7,213.9 L671.4,213.9 L672.1,212.2 L672.8,208.0 L673.5,207.3 L674.2,208.4 L674.9,206.5 L675.6,207.0 L676.3,203.6 L677.0,203.1 L677.7,201.8 L678.4,200.6 L679.1,200.5 L679.8,201.0 L680.5,199.6 L681.2,197.4 L681.9,195.4 L682.6,195.5 L683.3,197.7 L684.0,199.8 L684.7,200.0 L685.4,202.5 L686.1,205.3 L686.8,208.2 L687.5,211.1 L688.2,214.6 L688.9,215.0 L689.6,216.1 L690.3,218.1 L691.0,214.6 L691.7,212.1 L692.4,210.8 L693.1,209.0 L693.8,209.3 L694.5,209.1 L695.2,209.0 L695.9,211.5 L696.6,214.8 L697.3,215.8 L698.0,216.9 L698.7,217.6 L699.4,220.7 L700.1,221.2 L700.8,218.3 L701.5,219.6 L702.2,220.2 L702.9,219.0 L703.6,215.8 L704.3,214.1 L705.0,213.5 L705.7,213.5 L706.4,213.2 L707.1,213.0 L707.8,211.3 L708.5,210.6 L709.2,210.1 L709.9,206.6 L710.6,206.9 L711.3,203.3 L712.0,203.6 L712.7,202.9 L713.4,203.3 L714.1,203.6 L714.8,203.5 L715.5,201.0 L716.2,198.9 L716.9,197.9 L717.6,196.7 L718.3,194.7 L719.0,192.1 L719.7,192.2 L720.4,192.9 L721.1,191.0 L721.8,187.5 L722.5,188.8 L723.2,188.2 L723.9,189.5 L724.6,189.8 L725.3,190.8 L726.0,192.7 L726.7,192.6 L727.4,193.5 L728.1,198.2 L728.8,199.8 L729.5,204.1 L730.2,205.6 L730.9,207.7 L731.6,207.7 L732.3,210.9 L733.0,212.0 L733.7,215.0 L734.4,217.4 L735.1,216.8 L735.8,217.1 L736.5,216.2 L737.2,216.3 L737.9,215.4 L738.6,215.6 L739.3,216.0 L740.0,218.0 L740.7,220.8 L741.4,222.7 L742.1,223.7 L742.8,222.2 L743.5,218.8 L744.2,219.7 L744.9,220.4 L745.6,221.5 L746.3,219.7 L747.0,218.6 L747.7,219.4 L748.4,220.8 L749.1,220.0 L749.8,219.9 L750.5,221.8 L751.2,221.4 L751.9,222.3 L752.6,221.4 L753.3,225.1 L754.0,223.2 L754.7,223.5 L755.4,225.2 L756.1,225.5 L756.8,227.7 L757.5,228.5 L758.2,228.5 L758.9,227.5 L759.6,229.0 L760.3,230.2 L761.0,232.0 L761.7,233.1 L762.4,236.1 L763.1,238.0 L763.8,239.4 L764.5,240.9 L765.2,241.6 L765.9,242.3 L766.6,243.4 L767.3,243.5 L768.0,243.7 L768.7,245.2 L769.4,245.2 L770.1,247.1 L770.8,249.4 L771.5,250.6 L772.2,253.2 L772.9,254.0 L773.6,255.1 L774.3,256.2 L775.0,258.2 L775.7,259.1 L776.4,258.2 L777.1,258.8 L777.8,259.1 L778.5,259.3 L779.2,258.9 L779.9,258.2 L780.6,260.6 L781.3,260.5 L782.0,261.8 L782.7,259.9 L783.4,260.0 L784.1,257.6 L784.8,256.2 L785.5,255.6 L786.2,253.7 L786.9,250.1 L787.6,249.0 L788.3,250.7 L789.0,247.4 L789.7,246.0 L790.4,245.5 L791.1,244.0 L791.8,243.0 L792.5,241.6 L793.2,239.1 L793.9,237.7 L794.6,237.6 L795.3,236.8 L796.0,235.0 L796.7,233.4 L797.4,231.8 L798.1,229.4 L798.8,228.0 L799.5,224.8 L800.2,224.2 L800.9,223.3 L801.6,222.9 L802.3,222.1 L803.0,221.6 L803.7,221.0 L804.4,220.6 L805.1,217.8 L805.8,215.0 L806.5,213.1 L807.2,214.7 L807.9,215.6 L808.6,218.3 L809.3,220.3 L810.0,220.7 L810.7,220.6 L811.4,221.0 L812.1,218.7 L812.8,219.8 L813.5,219.7 L814.2,220.0 L814.9,219.6 L815.6,219.1 L816.3,219.7 L817.0,219.8 L817.7,218.7 L818.4,217.8 L819.1,220.1 L819.8,219.6 L820.5,221.3 L821.2,221.8 L821.9,221.8 L822.6,221.2 L823.3,224.5 L824.0,226.1 L824.7,225.8 L825.4,226.4 L826.1,225.8 L826.8,225.9 L827.5,224.5 L828.2,223.0 L828.9,222.8 L829.6,223.4 L830.3,229.5 L831.0,231.4 L831.7,231.5 L832.4,231.1 L833.1,233.2 L833.8,232.6 L834.5,233.0 L835.2,232.7 L835.9,235.5 L836.6,238.7 L837.3,238.9 L838.0,239.3 L838.7,240.5 L839.4,240.2 L840.1,242.7 L840.8,244.8 L841.5,245.0 L842.2,246.2 L842.9,246.3 L843.6,245.0 L844.3,246.4 L845.0,245.4 L845.7,246.4 L846.4,244.9 L847.1,245.0 L847.8,247.8 L848.5,249.5 L849.2,251.1 L849.9,253.0 L850.6,254.3 L851.3,254.8 L852.0,255.4 L852.7,257.5 L853.4,257.5 L854.1,258.0 L854.8,257.0 L855.5,258.4 L856.2,260.2 L856.9,261.6 L857.6,262.8 L858.3,262.8 L858.3,301.3 L857.6,298.7 L856.9,296.3 L856.2,295.9 L855.5,292.5 L854.8,291.3 L854.1,290.5 L853.4,290.3 L852.7,290.8 L852.0,287.6 L851.3,285.8 L850.6,284.8 L849.9,284.4 L849.2,282.9 L848.5,283.7 L847.8,284.0 L847.1,279.8 L846.4,279.2 L845.7,280.9 L845.0,280.1 L844.3,278.2 L843.6,278.4 L842.9,277.9 L842.2,277.7 L841.5,278.0 L840.8,277.5 L840.1,277.8 L839.4,275.0 L838.7,275.0 L838.0,271.8 L837.3,272.0 L836.6,271.9 L835.9,270.0 L835.2,267.8 L834.5,267.5 L833.8,269.0 L833.1,268.6 L832.4,265.8 L831.7,264.9 L831.0,262.6 L830.3,262.9 L829.6,262.0 L828.9,260.2 L828.2,259.5 L827.5,259.0 L826.8,260.7 L826.1,260.9 L825.4,261.5 L824.7,264.5 L824.0,263.4 L823.3,260.1 L822.6,256.6 L821.9,257.9 L821.2,257.0 L820.5,255.5 L819.8,256.0 L819.1,256.1 L818.4,253.2 L817.7,252.1 L817.0,254.2 L816.3,254.4 L815.6,255.4 L814.9,254.8 L814.2,253.2 L813.5,252.3 L812.8,253.2 L812.1,254.0 L811.4,253.7 L810.7,251.9 L810.0,252.6 L809.3,251.8 L808.6,251.0 L807.9,249.9 L807.2,248.4 L806.5,246.0 L805.8,247.6 L805.1,248.8 L804.4,253.4 L803.7,254.7 L803.0,256.3 L802.3,256.1 L801.6,255.7 L800.9,258.4 L800.2,258.6 L799.5,260.3 L798.8,262.6 L798.1,262.7 L797.4,264.1 L796.7,264.8 L796.0,267.0 L795.3,269.7 L794.6,270.5 L793.9,273.5 L793.2,273.1 L792.5,274.4 L791.8,276.9 L791.1,278.4 L790.4,281.4 L789.7,283.1 L789.0,285.8 L788.3,285.9 L787.6,285.6 L786.9,285.9 L786.2,286.3 L785.5,289.2 L784.8,291.9 L784.1,290.8 L783.4,290.6 L782.7,292.0 L782.0,293.5 L781.3,294.3 L780.6,293.6 L779.9,293.2 L779.2,291.9 L778.5,290.7 L777.8,289.9 L777.1,288.2 L776.4,287.3 L775.7,287.5 L775.0,289.5 L774.3,287.8 L773.6,286.1 L772.9,285.3 L772.2,281.2 L771.5,284.0 L770.8,283.0 L770.1,282.1 L769.4,279.2 L768.7,279.7 L768.0,277.1 L767.3,276.6 L766.6,278.4 L765.9,274.3 L765.2,272.6 L764.5,273.4 L763.8,273.5 L763.1,271.3 L762.4,269.4 L761.7,268.2 L761.0,266.0 L760.3,265.5 L759.6,262.1 L758.9,262.7 L758.2,261.9 L757.5,263.9 L756.8,261.9 L756.1,261.3 L755.4,259.3 L754.7,260.0 L754.0,258.0 L753.3,256.7 L752.6,255.4 L751.9,253.2 L751.2,253.9 L750.5,252.8 L749.8,253.7 L749.1,254.3 L748.4,253.3 L747.7,253.3 L747.0,253.6 L746.3,253.2 L745.6,253.1 L744.9,252.9 L744.2,253.3 L743.5,254.8 L742.8,255.3 L742.1,254.4 L741.4,254.0 L740.7,249.9 L740.0,247.7 L739.3,246.7 L738.6,247.5 L737.9,246.1 L737.2,247.4 L736.5,248.9 L735.8,249.6 L735.1,248.3 L734.4,246.6 L733.7,245.5 L733.0,243.4 L732.3,243.4 L731.6,241.8 L730.9,239.4 L730.2,240.3 L729.5,237.5 L728.8,234.8 L728.1,230.4 L727.4,226.9 L726.7,226.0 L726.0,225.5 L725.3,225.1 L724.6,223.4 L723.9,222.1 L723.2,220.6 L722.5,221.7 L721.8,221.1 L721.1,224.9 L720.4,225.1 L719.7,226.4 L719.0,225.8 L718.3,228.4 L717.6,230.5 L716.9,233.7 L716.2,235.0 L715.5,235.5 L714.8,238.0 L714.1,236.7 L713.4,237.8 L712.7,240.5 L712.0,240.7 L711.3,239.2 L710.6,241.4 L709.9,241.0 L709.2,241.3 L708.5,243.4 L707.8,245.3 L707.1,247.2 L706.4,247.2 L705.7,246.3 L705.0,247.1 L704.3,249.2 L703.6,252.7 L702.9,253.9 L702.2,255.5 L701.5,255.0 L700.8,253.0 L700.1,254.4 L699.4,254.5 L698.7,250.9 L698.0,250.7 L697.3,247.7 L696.6,247.6 L695.9,246.7 L695.2,243.0 L694.5,243.3 L693.8,242.4 L693.1,246.3 L692.4,247.5 L691.7,248.9 L691.0,248.9 L690.3,251.0 L689.6,250.4 L688.9,248.9 L688.2,247.0 L687.5,243.3 L686.8,240.0 L686.1,239.0 L685.4,236.9 L684.7,234.5 L684.0,234.1 L683.3,232.4 L682.6,230.7 L681.9,230.4 L681.2,233.2 L680.5,235.8 L679.8,236.1 L679.1,236.2 L678.4,236.0 L677.7,237.7 L677.0,237.9 L676.3,240.5 L675.6,242.0 L674.9,243.4 L674.2,244.8 L673.5,244.1 L672.8,246.0 L672.1,248.7 L671.4,251.5 L670.7,248.7 L670.0,249.9 L669.3,250.5 L668.6,251.5 L667.9,255.8 L667.2,256.0 L666.5,255.5 L665.8,257.9 L665.1,259.1 L664.4,258.2 L663.7,259.2 L663.0,260.8 L662.3,262.1 L661.6,262.1 L660.9,259.9 L660.2,258.4 L659.5,260.2 L658.8,259.5 L658.1,257.2 L657.4,255.5 L656.7,254.1 L656.0,255.6 L655.3,254.6 L654.6,252.8 L653.9,253.6 L653.2,252.9 L652.5,251.1 L651.8,252.8 L651.1,251.6 L650.4,252.0 L649.7,253.8 L649.0,252.3 L648.3,252.8 L647.6,251.6 L646.9,251.6 L646.2,249.7 L645.5,247.7 L644.8,245.6 L644.1,243.2 L643.4,242.4 L642.7,239.7 L642.0,235.5 L641.3,237.1 L640.6,235.9 L639.9,234.9 L639.2,231.4 L638.5,232.1 L637.8,230.9 L637.1,227.4 L636.4,225.6 L635.7,222.7 L635.0,222.2 L634.3,224.1 L633.6,224.3 L632.9,221.8 L632.2,223.5 L631.5,223.9 L630.8,224.9 L630.1,223.7 L629.4,226.2 L628.7,226.0 L628.0,228.0 L627.3,228.5 L626.6,229.0 L625.9,231.1 L625.2,229.2 L624.5,229.1 L623.8,226.1 L623.1,224.5 L622.4,221.7 L621.7,223.0 L621.0,220.3 L620.3,218.4 L619.6,217.8 L618.9,219.3 L618.2,219.8 L617.5,218.6 L616.8,217.4 L616.1,218.6 L615.4,221.1 L614.7,219.7 L614.0,219.5 L613.3,219.8 L612.6,221.4 L611.9,219.7 L611.2,220.0 L610.5,221.0 L609.8,224.5 L609.1,227.4 L608.4,228.4 L607.7,228.3 L607.0,230.3 L606.3,231.2 L605.6,230.8 L604.9,230.2 L604.2,230.5 L603.5,230.4 L602.8,231.8 L602.1,233.3 L601.4,235.4 L600.7,237.2 L600.0,240.1 L599.3,241.9 L598.6,243.5 L597.9,247.2 L597.2,249.5 L596.5,254.6 L595.8,258.0 L595.1,261.3 L594.4,267.3 L593.7,269.8 L593.0,274.3 L592.3,276.1 L591.6,279.3 L590.9,282.4 L590.2,285.1 L589.5,285.8 L588.8,287.6 L588.1,287.7 L587.4,292.1 L586.7,293.0 L586.0,294.3 L585.3,294.9 L584.6,295.2 L583.9,297.2 L583.2,296.5 L582.5,297.7 L581.8,296.1 L581.1,295.1 L580.4,298.9 L579.7,296.1 L579.0,295.2 L578.3,295.0 L577.6,296.2 L576.9,293.9 L576.2,296.2 L575.5,296.6 L574.8,297.1 L574.1,300.1 L573.4,300.7 L572.7,302.5 L572.0,305.1 L571.3,307.2 L570.6,305.3 L569.9,305.3 L569.2,304.6 L568.5,303.1 L567.8,300.6 L567.1,301.2 L566.4,300.6 L565.7,302.6 L565.0,304.8 L564.3,308.5 L563.6,309.1 L562.9,312.6 L562.2,315.6 L561.5,319.8 L560.8,321.8 L560.1,325.1 L559.4,322.1 L558.7,318.7 L558.0,316.3 L557.3,315.6 L556.6,311.4 L555.9,310.5 L555.2,310.0 L554.5,305.8 L553.8,304.0 L553.1,305.0 L552.4,299.2 L551.7,297.9 L551.0,295.0 L550.3,295.3 L549.6,292.5 L548.9,288.3 L548.2,285.2 L547.5,283.9 L546.8,281.8 L546.1,282.0 L545.4,281.5 L544.7,282.4 L544.0,282.4 L543.3,284.0 L542.6,284.9 L541.9,283.3 L541.2,282.1 L540.5,281.4 L539.8,281.5 L539.1,281.3 L538.4,280.4 L537.7,281.5 L537.0,281.8 L536.3,283.7 L535.6,285.0 L534.9,286.2 L534.2,285.9 L533.5,286.8 L532.8,287.1 L532.1,289.3 L531.4,290.4 L530.7,292.2 L530.0,292.8 L529.3,294.7 L528.6,295.1 L527.9,298.1 L527.2,298.2 L526.5,299.6 L525.8,300.3 L525.1,301.6 L524.4,303.4 L523.7,306.2 L523.0,309.5 L522.3,309.9 L521.6,311.8 L520.9,315.4 L520.2,317.7 L519.5,320.7 L518.8,326.3 L518.1,328.8 L517.4,331.7 L516.7,333.8 L516.0,336.6 L515.3,340.6 L514.6,343.6 L513.9,347.2 L513.2,352.4 L512.5,357.6 L511.8,360.8 L511.1,365.0 L510.4,366.4 L509.7,372.2 L509.0,373.3 L508.3,374.5 L507.6,376.9 L506.9,375.9 L506.2,375.7 L505.5,377.1 L504.8,378.7 L504.1,378.1 L503.4,377.7 L502.7,378.7 L502.0,379.4 L501.3,380.2 L500.6,380.4 L499.9,379.5 L499.2,379.9 L498.5,381.9 L497.8,381.3 L497.1,380.7 L496.4,380.5 L495.7,379.8 L495.0,379.7 L494.3,380.3 L493.6,382.0 L492.9,385.9 L492.2,389.0 L491.5,387.3 L490.8,383.1 L490.1,380.8 L489.4,377.9 L488.7,373.7 L488.0,371.9 L487.3,368.9 L486.6,365.1 L485.9,359.7 L485.2,354.8 L484.5,350.9 L483.8,347.0 L483.1,340.9 L482.4,334.6 L481.7,328.4 L481.0,323.5 L480.3,317.7 L479.6,313.8 L478.9,308.3 L478.2,304.5 L477.5,297.9 L476.8,296.0 L476.1,292.3 L475.4,291.1 L474.7,286.6 L474.0,285.3 L473.3,280.9 L472.6,279.2 L471.9,275.0 L471.2,274.4 L470.5,271.9 L469.8,269.9 L469.1,266.0 L468.4,263.5 L467.7,264.8 L467.0,260.3 L466.3,258.5 L465.6,258.6 L464.9,258.5 L464.2,256.9 L463.5,256.2 L462.8,254.3 L462.1,254.6 L461.4,253.7 L460.7,256.2 L460.0,256.8 L459.3,255.6 L458.6,256.5 L457.9,255.2 L457.2,253.8 L456.5,252.7 L455.8,250.6 L455.1,252.3 L454.4,254.3 L453.7,255.4 L453.0,255.4 L452.3,256.9 L451.6,258.8 L450.9,259.1 L450.2,258.0 L449.5,255.3 L448.8,255.6 L448.1,255.4 L447.4,252.5 L446.7,250.2 L446.0,248.1 L445.3,248.0 L444.6,247.4 L443.9,244.3 L443.2,242.6 L442.5,237.7 L441.8,236.4 L441.1,235.3 L440.4,236.9 L439.7,237.7 L439.0,237.5 L438.3,238.7 L437.6,239.5 L436.9,241.5 L436.2,244.2 L435.5,243.0 L434.8,242.5 L434.1,242.6 L433.4,242.1 L432.7,238.7 L432.0,235.3 L431.3,236.2 L430.6,237.1 L429.9,238.8 L429.2,237.9 L428.5,238.6 L427.8,238.0 L427.1,239.8 L426.4,241.9 L425.7,244.0 L425.0,247.0 L424.3,248.7 L423.6,249.1 L422.9,253.6 L422.2,250.6 L421.5,249.9 L420.8,247.8 L420.1,247.8 L419.4,246.1 L418.7,241.5 L418.0,242.5 L417.3,239.6 L416.6,240.0 L415.9,242.0 L415.2,242.3 L414.5,240.2 L413.8,243.5 L413.1,243.2 L412.4,242.3 L411.7,237.3 L411.0,237.6 L410.3,235.8 L409.6,232.2 L408.9,231.9 L408.2,232.2 L407.5,230.1 L406.8,228.0 L406.1,228.4 L405.4,226.8 L404.7,227.0 L404.0,228.1 L403.3,229.8 L402.6,230.3 L401.9,229.7 L401.2,227.3 L400.5,227.3 L399.8,226.3 L399.1,226.2 L398.4,225.1 L397.7,223.8 L397.0,221.8 L396.3,221.2 L395.6,215.8 L394.9,213.4 L394.2,210.2 L393.5,208.1 L392.8,206.2 L392.1,202.0 L391.4,200.0 L390.7,196.9 L390.0,194.6 L389.3,195.5 L388.6,196.4 L387.9,197.9 L387.2,199.3 L386.5,199.4 L385.8,197.5 L385.1,199.5 L384.4,197.4 L383.7,195.9 L383.0,193.8 L382.3,193.6 L381.6,190.4 L380.9,190.5 L380.2,187.7 L379.5,188.0 L378.8,190.3 L378.1,188.6 L377.4,190.5 L376.7,190.0 L376.0,189.3 L375.3,191.8 L374.6,193.4 L373.9,193.4 L373.2,195.0 L372.5,193.0 L371.8,192.1 L371.1,190.2 L370.4,188.6 L369.7,189.5 L369.0,188.0 L368.3,189.4 L367.6,190.3 L366.9,189.9 L366.2,190.4 L365.5,194.2 L364.8,195.9 L364.1,196.7 L363.4,197.6 L362.7,200.6 L362.0,203.0 L361.3,205.2 L360.6,209.0 L359.9,212.2 L359.2,214.5 L358.5,217.5 L357.8,220.7 L357.1,221.2 L356.4,222.8 L355.7,224.9 L355.0,227.5 L354.3,230.4 L353.6,230.8 L352.9,233.3 L352.2,236.4 L351.5,237.5 L350.8,240.2 L350.1,242.1 L349.4,245.3 L348.7,246.6 L348.0,248.7 L347.3,248.2 L346.6,245.5 L345.9,246.6 L345.2,246.6 L344.5,246.8 L343.8,243.9 L343.1,241.5 L342.4,241.2 L341.7,241.7 L341.0,240.8 L340.3,241.9 L339.6,243.2 L338.9,241.9 L338.2,243.4 L337.5,241.6 L336.8,240.0 L336.1,238.1 L335.4,237.2 L334.7,238.5 L334.0,238.7 L333.3,239.1 L332.6,240.7 L331.9,237.6 L331.2,236.7 L330.5,240.2 L329.8,240.5 L329.1,240.5 L328.4,241.5 L327.7,241.3 L327.0,242.5 L326.3,242.3 L325.6,243.3 L324.9,241.3 L324.2,242.9 L323.5,246.2 L322.8,247.2 L322.1,247.5 L321.4,248.8 L320.7,249.5 L320.0,247.7 L319.3,250.1 L318.6,253.1 L317.9,255.4 L317.2,257.7 L316.5,259.8 L315.8,260.3 L315.1,262.8 L314.4,266.5 L313.7,268.3 L313.0,271.5 L312.3,274.4 L311.6,275.5 L310.9,276.7 L310.2,277.8 L309.5,279.0 L308.8,282.8 L308.1,286.2 L307.4,286.9 L306.7,288.2 L306.0,291.0 L305.3,293.5 L304.6,296.5 L303.9,298.3 L303.2,302.6 L302.5,303.6 L301.8,303.8 L301.1,304.8 L300.4,304.7 L299.7,302.5 L299.0,301.7 L298.3,300.4 L297.6,297.4 L296.9,295.3 L296.2,295.5 L295.5,294.2 L294.8,293.4 L294.1,288.1 L293.4,285.9 L292.7,285.0 L292.0,284.7 L291.3,283.9 L290.6,280.5 L289.9,277.5 L289.2,277.9 L288.5,277.1 L287.8,280.4 L287.1,280.6 L286.4,282.4 L285.7,282.8 L285.0,283.6 L284.3,282.2 L283.6,282.5 L282.9,281.6 L282.2,282.1 L281.5,282.9 L280.8,280.8 L280.1,278.9 L279.4,277.5 L278.7,279.6 L278.0,281.0 L277.3,281.4 L276.6,282.2 L275.9,286.9 L275.2,286.6 L274.5,285.5 L273.8,286.2 L273.1,287.0 L272.4,285.2 L271.7,284.2 L271.0,284.5 L270.3,281.6 L269.6,279.1 L268.9,277.7 L268.2,272.6 L267.5,271.0 L266.8,270.0 L266.1,268.4 L265.4,267.1 L264.7,263.3 L264.0,262.9 L263.3,264.2 L262.6,265.1 L261.9,266.5 L261.2,267.6 L260.5,271.0 L259.8,274.6 L259.1,276.1 L258.4,275.7 L257.7,274.1 L257.0,276.1 L256.3,274.7 L255.6,274.0 L254.9,275.7 L254.2,275.2 L253.5,276.7 L252.8,274.6 L252.1,274.5 L251.4,274.1 L250.7,271.9 L250.0,271.3 L249.3,267.2 L248.6,264.6 L247.9,259.6 L247.2,262.0 L246.5,263.6 L245.8,264.1 L245.1,262.3 L244.4,261.9 L243.7,263.1 L243.0,267.2 L242.3,269.3 L241.6,271.0 L240.9,272.0 L240.2,275.8 L239.5,276.0 L238.8,278.0 L238.1,280.8 L237.4,283.1 L236.7,282.4 L236.0,282.4 L235.3,283.7 L234.6,284.7 L233.9,284.6 L233.2,283.8 L232.5,284.7 L231.8,283.2 L231.1,284.0 L230.4,283.7 L229.7,282.4 L229.0,281.9 L228.3,278.8 L227.6,278.0 L226.9,278.1 L226.2,277.7 L225.5,277.2 L224.8,275.7 L224.1,277.2 L223.4,278.2 L222.7,276.9 L222.0,275.9 L221.3,275.8 L220.6,277.7 L219.9,275.8 L219.2,275.9 L218.5,278.1 L217.8,276.3 L217.1,276.0 L216.4,274.9 L215.7,274.1 L215.0,273.3 L214.3,269.5 L213.6,268.8 L212.9,266.4 L212.2,267.5 L211.5,266.6 L210.8,266.0 L210.1,266.7 L209.4,264.8 L208.7,268.3 L208.0,267.8 L207.3,267.3 L206.6,266.8 L205.9,267.0 L205.2,267.5 L204.5,267.3 L203.8,264.0 L203.1,262.3 L202.4,261.2 L201.7,258.5 L201.0,258.7 L200.3,255.4 L199.6,255.3 L198.9,256.8 L198.2,255.4 L197.5,251.5 L196.8,249.8 L196.1,247.6 L195.4,245.9 L194.7,245.9 L194.0,242.4 L193.3,244.7 L192.6,243.0 L191.9,243.1 L191.2,242.0 L190.5,238.0 L189.8,237.3 L189.1,238.3 L188.4,238.3 L187.7,240.1 L187.0,244.3 L186.3,247.1 L185.6,250.7 L184.9,249.5 L184.2,247.6 L183.5,244.0 L182.8,243.1 L182.1,242.1 L181.4,242.4 L180.7,241.4 L180.0,240.7 L179.3,240.1 L178.6,238.4 L177.9,237.8 L177.2,241.2 L176.5,241.9 L175.8,243.7 L175.1,245.1 L174.4,247.1 L173.7,248.8 L173.0,249.5 L172.3,248.9 L171.6,250.1 L170.9,246.8 L170.2,244.6 L169.5,244.8 L168.8,243.9 L168.1,246.5 L167.4,242.2 L166.7,243.1 L166.0,244.5 L165.3,244.0 L164.6,244.3 L163.9,243.7 L163.2,242.3 L162.5,242.4 L161.8,245.3 L161.1,247.1 L160.4,246.9 L159.7,246.2 L159.0,246.1 L158.3,248.0 L157.6,248.4 L156.9,249.5 L156.2,250.4 L155.5,251.4Z" fill="#62bfa0" stroke="none" stroke-width="0" fill-opacity="0.2"/>
<path d="M155.5,257.8 L156.2,260.0 L156.9,261.2 L157.6,261.3 L158.3,257.8 L159.0,254.3 L159.7,255.1 L160.4,253.8 L161.1,253.7 L161.8,252.3 L162.5,251.4 L163.2,246.7 L163.9,250.0 L164.6,245.7 L165.3,246.2 L166.0,241.8 L166.7,243.9 L167.4,247.0 L168.1,245.8 L168.8,249.4 L169.5,251.7 L170.2,249.4 L170.9,250.9 L171.6,254.0 L172.3,250.7 L173.0,256.2 L173.7,258.9 L174.4,257.6 L175.1,254.8 L175.8,255.5 L176.5,254.1 L177.2,249.3 L177.9,246.8 L178.6,243.7 L179.3,245.9 L180.0,246.8 L180.7,246.5 L181.4,246.7 L182.1,247.0 L182.8,247.9 L183.5,251.5 L184.2,255.0 L184.9,254.9 L185.6,253.8 L186.3,248.0 L187.0,249.5 L187.7,247.0 L188.4,247.3 L189.1,246.2 L189.8,246.2 L190.5,246.0 L191.2,245.1 L191.9,246.0 L192.6,247.8 L193.3,246.8 L194.0,249.6 L194.7,250.5 L195.4,247.3 L196.1,247.0 L196.8,245.1 L197.5,249.5 L198.2,250.8 L198.9,251.0 L199.6,250.1 L200.3,248.9 L201.0,251.1 L201.7,253.4 L202.4,257.5 L203.1,257.3 L203.8,258.2 L204.5,260.7 L205.2,260.6 L205.9,260.9 L206.6,263.1 L207.3,262.6 L208.0,265.7 L208.7,267.5 L209.4,265.3 L210.1,260.1 L210.8,258.1 L211.5,261.9 L212.2,266.8 L212.9,269.8 L213.6,271.7 L214.3,272.8 L215.0,272.7 L215.7,271.6 L216.4,273.6 L217.1,274.3 L217.8,273.4 L218.5,273.5 L219.2,272.1 L219.9,273.1 L220.6,272.9 L221.3,271.4 L222.0,271.0 L222.7,274.6 L223.4,272.9 L224.1,272.2 L224.8,270.9 L225.5,272.0 L226.2,271.6 L226.9,271.8 L227.6,269.7 L228.3,269.2 L229.0,269.7 L229.7,272.7 L230.4,271.5 L231.1,272.0 L231.8,271.0 L232.5,271.0 L233.2,271.2 L233.9,268.3 L234.6,270.0 L235.3,270.2 L236.0,271.1 L236.7,274.4 L237.4,272.4 L238.1,267.8 L238.8,265.3 L239.5,264.0 L240.2,264.1 L240.9,264.4 L241.6,264.6 L242.3,261.3 L243.0,258.0 L243.7,257.1 L244.4,258.4 L245.1,258.9 L245.8,256.6 L246.5,258.4 L247.2,259.6 L247.9,259.4 L248.6,260.2 L249.3,262.3 L250.0,263.7 L250.7,268.8 L251.4,271.3 L252.1,274.0 L252.8,273.2 L253.5,273.6 L254.2,273.4 L254.9,273.2 L255.6,278.4 L256.3,275.9 L257.0,278.0 L257.7,276.0 L258.4,278.3 L259.1,275.6 L259.8,273.2 L260.5,274.3 L261.2,275.1 L261.9,275.1 L262.6,275.7 L263.3,274.6 L264.0,277.5 L264.7,278.4 L265.4,279.2 L266.1,279.0 L266.8,280.0 L267.5,284.0 L268.2,284.7 L268.9,289.5 L269.6,288.9 L270.3,296.3 L271.0,297.6 L271.7,301.0 L272.4,304.2 L273.1,305.1 L273.8,301.9 L274.5,300.7 L275.2,298.3 L275.9,297.9 L276.6,298.2 L277.3,297.7 L278.0,298.1 L278.7,298.3 L279.4,299.1 L280.1,302.2 L280.8,301.7 L281.5,304.5 L282.2,303.6 L282.9,307.3 L283.6,305.9 L284.3,305.3 L285.0,304.6 L285.7,305.3 L286.4,305.7 L287.1,304.5 L287.8,304.5 L288.5,303.0 L289.2,305.0 L289.9,301.6 L290.6,302.1 L291.3,301.9 L292.0,306.0 L292.7,308.9 L293.4,310.0 L294.1,311.6 L294.8,315.9 L295.5,317.2 L296.2,317.3 L296.9,318.3 L297.6,318.7 L298.3,318.8 L299.0,324.3 L299.7,325.0 L300.4,324.0 L301.1,328.0 L301.8,328.4 L302.5,333.5 L303.2,332.0 L303.9,327.7 L304.6,325.6 L305.3,322.7 L306.0,321.9 L306.7,319.8 L307.4,318.5 L308.1,313.9 L308.8,311.4 L309.5,307.9 L310.2,307.0 L310.9,304.4 L311.6,304.1 L312.3,304.2 L313.0,302.9 L313.7,299.4 L314.4,298.3 L315.1,297.5 L315.8,293.9 L316.5,289.0 L317.2,285.7 L317.9,284.8 L318.6,281.9 L319.3,281.1 L320.0,279.1 L320.7,275.2 L321.4,274.2 L322.1,274.2 L322.8,273.2 L323.5,268.7 L324.2,265.6 L324.9,264.5 L325.6,262.6 L326.3,263.5 L327.0,263.8 L327.7,263.0 L328.4,262.4 L329.1,259.6 L329.8,259.5 L330.5,259.8 L331.2,258.6 L331.9,260.0 L332.6,259.5 L333.3,257.3 L334.0,258.4 L334.7,255.9 L335.4,255.7 L336.1,254.9 L336.8,256.9 L337.5,257.0 L338.2,255.9 L338.9,255.0 L339.6,256.2 L340.3,258.1 L341.0,258.9 L341.7,258.8 L342.4,259.3 L343.1,259.0 L343.8,258.5 L344.5,260.2 L345.2,263.4 L345.9,265.8 L346.6,265.5 L347.3,263.7 L348.0,264.4 L348.7,263.6 L349.4,263.4 L350.1,260.5 L350.8,259.2 L351.5,257.7 L352.2,255.0 L352.9,252.0 L353.6,247.5 L354.3,247.8 L355.0,242.3 L355.7,239.7 L356.4,236.7 L357.1,236.1 L357.8,232.8 L358.5,231.7 L359.2,228.6 L359.9,226.7 L360.6,224.9 L361.3,224.1 L362.0,223.7 L362.7,217.4 L363.4,219.1 L364.1,220.2 L364.8,219.5 L365.5,219.8 L366.2,216.4 L366.9,216.7 L367.6,214.5 L368.3,213.8 L369.0,212.3 L369.7,213.1 L370.4,209.9 L371.1,209.4 L371.8,211.5 L372.5,210.4 L373.2,210.1 L373.9,206.3 L374.6,207.0 L375.3,207.3 L376.0,204.4 L376.7,206.8 L377.4,206.0 L378.1,205.9 L378.8,204.6 L379.5,205.5 L380.2,203.6 L380.9,205.9 L381.6,207.4 L382.3,208.8 L383.0,207.8 L383.7,210.7 L384.4,211.5 L385.1,209.7 L385.8,207.9 L386.5,206.3 L387.2,204.0 L387.9,205.7 L388.6,202.1 L389.3,201.3 L390.0,202.3 L390.7,207.3 L391.4,211.0 L392.1,213.4 L392.8,213.1 L393.5,219.2 L394.2,222.2 L394.9,228.8 L395.6,229.2 L396.3,233.3 L397.0,235.0 L397.7,238.7 L398.4,242.3 L399.1,241.2 L399.8,241.5 L400.5,237.7 L401.2,239.9 L401.9,241.1 L402.6,240.5 L403.3,238.8 L404.0,237.0 L404.7,239.3 L405.4,240.3 L406.1,240.2 L406.8,238.7 L407.5,237.8 L408.2,238.7 L408.9,240.5 L409.6,240.8 L410.3,239.5 L411.0,238.0 L411.7,238.3 L412.4,237.2 L413.1,237.6 L413.8,235.3 L414.5,235.8 L415.2,236.7 L415.9,239.7 L416.6,240.6 L417.3,238.7 L418.0,241.7 L418.7,242.2 L419.4,244.2 L420.1,247.9 L420.8,247.9 L421.5,249.6 L422.2,250.2 L422.9,251.0 L423.6,246.2 L424.3,244.2 L425.0,242.6 L425.7,243.4 L426.4,240.4 L427.1,237.7 L427.8,236.4 L428.5,236.8 L429.2,242.0 L429.9,243.6 L430.6,242.2 L431.3,243.4 L432.0,247.8 L432.7,246.5 L433.4,246.9 L434.1,247.2 L434.8,247.4 L435.5,249.8 L436.2,248.8 L436.9,248.8 L437.6,247.2 L438.3,244.6 L439.0,241.8 L439.7,243.1 L440.4,243.2 L441.1,244.2 L441.8,243.1 L442.5,241.7 L443.2,241.8 L443.9,242.0 L444.6,244.1 L445.3,245.2 L446.0,246.6 L446.7,249.7 L447.4,252.3 L448.1,254.0 L448.8,258.1 L449.5,261.8 L450.2,259.5 L450.9,260.3 L451.6,258.2 L452.3,259.7 L453.0,257.4 L453.7,257.6 L454.4,256.2 L455.1,255.4 L455.8,252.0 L456.5,254.1 L457.2,254.9 L457.9,255.1 L458.6,256.5 L459.3,256.9 L460.0,256.3 L460.7,257.1 L461.4,255.4 L462.1,257.5 L462.8,257.7 L463.5,255.6 L464.2,257.0 L464.9,255.8 L465.6,257.0 L466.3,258.2 L467.0,260.0 L467.7,259.0 L468.4,261.0 L469.1,264.3 L469.8,267.0 L470.5,267.2 L471.2,270.1 L471.9,275.3 L472.6,280.5 L473.3,282.8 L474.0,287.0 L474.7,292.1 L475.4,296.3 L476.1,299.5 L476.8,302.9 L477.5,307.4 L478.2,310.7 L478.9,318.8 L479.6,321.8 L480.3,324.2 L481.0,330.1 L481.7,332.3 L482.4,339.5 L483.1,343.1 L483.8,348.4 L484.5,353.3 L485.2,358.1 L485.9,362.7 L486.6,363.9 L487.3,367.9 L488.0,371.2 L488.7,375.2 L489.4,378.8 L490.1,380.6 L490.8,382.8 L491.5,385.2 L492.2,387.8 L492.9,385.8 L493.6,386.1 L494.3,384.8 L495.0,385.7 L495.7,384.7 L496.4,385.4 L497.1,385.6 L497.8,381.2 L498.5,382.4 L499.2,381.6 L499.9,383.0 L500.6,385.8 L501.3,385.7 L502.0,386.6 L502.7,388.1 L503.4,384.7 L504.1,383.1 L504.8,380.8 L505.5,383.8 L506.2,381.7 L506.9,381.3 L507.6,378.4 L508.3,380.4 L509.0,379.2 L509.7,376.0 L510.4,373.3 L511.1,366.1 L511.8,360.5 L512.5,361.6 L513.2,359.4 L513.9,357.0 L514.6,352.9 L515.3,350.0 L516.0,345.9 L516.7,345.5 L517.4,342.9 L518.1,338.9 L518.8,337.0 L519.5,334.9 L520.2,332.5 L520.9,327.1 L521.6,323.1 L522.3,318.3 L523.0,315.0 L523.7,313.5 L524.4,313.0 L525.1,309.3 L525.8,309.0 L526.5,309.5 L527.2,309.6 L527.9,307.7 L528.6,306.3 L529.3,306.0 L530.0,302.5 L530.7,301.7 L531.4,301.9 L532.1,300.9 L532.8,298.2 L533.5,296.7 L534.2,295.0 L534.9,292.8 L535.6,292.5 L536.3,290.3 L537.0,289.1 L537.7,285.0 L538.4,284.6 L539.1,286.6 L539.8,286.1 L540.5,281.4 L541.2,281.4 L541.9,280.6 L542.6,282.8 L543.3,284.8 L544.0,285.0 L544.7,287.2 L545.4,286.7 L546.1,286.0 L546.8,288.0 L547.5,290.6 L548.2,291.8 L548.9,293.2 L549.6,293.8 L550.3,301.0 L551.0,302.1 L551.7,307.1 L552.4,307.8 L553.1,309.6 L553.8,309.8 L554.5,309.3 L555.2,310.1 L555.9,312.5 L556.6,313.2 L557.3,311.7 L558.0,311.0 L558.7,316.9 L559.4,316.3 L560.1,315.3 L560.8,312.9 L561.5,308.5 L562.2,308.0 L562.9,305.6 L563.6,304.5 L564.3,303.6 L565.0,304.9 L565.7,305.0 L566.4,306.1 L567.1,305.3 L567.8,309.7 L568.5,310.6 L569.2,308.5 L569.9,306.5 L570.6,312.1 L571.3,313.4 L572.0,314.7 L572.7,309.7 L573.4,308.5 L574.1,308.4 L574.8,305.5 L575.5,303.2 L576.2,301.8 L576.9,302.2 L577.6,307.5 L578.3,306.6 L579.0,306.6 L579.7,306.7 L580.4,306.7 L581.1,304.9 L581.8,303.6 L582.5,302.7 L583.2,303.5 L583.9,300.9 L584.6,300.1 L585.3,296.4 L586.0,296.9 L586.7,297.5 L587.4,297.7 L588.1,295.0 L588.8,289.7 L589.5,290.2 L590.2,290.5 L590.9,287.7 L591.6,287.4 L592.3,287.7 L593.0,287.3 L593.7,285.7 L594.4,281.4 L595.1,278.5 L595.8,273.3 L596.5,272.2 L597.2,268.2 L597.9,268.0 L598.6,268.0 L599.3,266.6 L600.0,262.0 L600.7,257.3 L601.4,252.9 L602.1,252.6 L602.8,248.3 L603.5,247.0 L604.2,245.2 L604.9,245.9 L605.6,242.4 L606.3,245.8 L607.0,244.0 L607.7,241.7 L608.4,242.9 L609.1,240.8 L609.8,236.2 L610.5,235.5 L611.2,230.8 L611.9,231.6 L612.6,233.0 L613.3,231.3 L614.0,232.3 L614.7,229.3 L615.4,231.1 L616.1,230.0 L616.8,232.2 L617.5,231.2 L618.2,231.4 L618.9,230.0 L619.6,227.7 L620.3,229.0 L621.0,228.0 L621.7,231.2 L622.4,228.9 L623.1,231.4 L623.8,231.0 L624.5,234.2 L625.2,235.3 L625.9,236.2 L626.6,239.2 L627.3,236.8 L628.0,234.3 L628.7,233.9 L629.4,233.5 L630.1,230.4 L630.8,230.7 L631.5,232.3 L632.2,234.9 L632.9,234.4 L633.6,230.6 L634.3,232.1 L635.0,229.6 L635.7,228.6 L636.4,231.6 L637.1,234.0 L637.8,232.6 L638.5,236.3 L639.2,234.3 L639.9,237.4 L640.6,240.0 L641.3,241.4 L642.0,245.7 L642.7,246.3 L643.4,249.3 L644.1,251.9 L644.8,256.3 L645.5,254.9 L646.2,255.8 L646.9,258.4 L647.6,259.3 L648.3,257.9 L649.0,260.0 L649.7,258.4 L650.4,259.0 L651.1,259.9 L651.8,261.2 L652.5,260.3 L653.2,265.7 L653.9,266.2 L654.6,269.8 L655.3,269.9 L656.0,272.0 L656.7,270.7 L657.4,271.1 L658.1,271.4 L658.8,273.0 L659.5,274.5 L660.2,276.3 L660.9,278.3 L661.6,280.0 L662.3,281.1 L663.0,281.1 L663.7,279.8 L664.4,278.5 L665.1,278.7 L665.8,274.7 L666.5,271.9 L667.2,267.1 L667.9,269.1 L668.6,264.9 L669.3,266.2 L670.0,263.6 L670.7,263.9 L671.4,263.4 L672.1,262.5 L672.8,261.6 L673.5,261.8 L674.2,263.1 L674.9,264.0 L675.6,263.3 L676.3,261.0 L677.0,261.0 L677.7,259.7 L678.4,258.5 L679.1,256.2 L679.8,253.1 L680.5,250.4 L681.2,247.8 L681.9,246.7 L682.6,248.5 L683.3,249.4 L684.0,253.7 L684.7,253.3 L685.4,257.3 L686.1,261.4 L686.8,263.5 L687.5,263.4 L688.2,262.7 L688.9,265.1 L689.6,269.2 L690.3,272.3 L691.0,272.2 L691.7,272.0 L692.4,268.0 L693.1,265.0 L693.8,263.8 L694.5,263.1 L695.2,265.1 L695.9,265.4 L696.6,269.6 L697.3,269.6 L698.0,271.6 L698.7,268.9 L699.4,265.5 L700.1,265.7 L700.8,265.0 L701.5,264.3 L702.2,262.8 L702.9,264.9 L703.6,263.1 L704.3,262.5 L705.0,263.0 L705.7,262.5 L706.4,260.7 L707.1,258.4 L707.8,254.8 L708.5,253.8 L709.2,250.8 L709.9,254.8 L710.6,254.1 L711.3,254.0 L712.0,250.4 L712.7,250.7 L713.4,252.0 L714.1,251.4 L714.8,253.2 L715.5,248.2 L716.2,243.5 L716.9,239.6 L717.6,237.8 L718.3,237.9 L719.0,240.5 L719.7,240.9 L720.4,239.2 L721.1,236.1 L721.8,239.2 L722.5,237.3 L723.2,236.9 L723.9,237.9 L724.6,239.2 L725.3,239.4 L726.0,239.1 L726.7,239.6 L727.4,239.4 L728.1,241.7 L728.8,245.6 L729.5,248.1 L730.2,250.1 L730.9,249.7 L731.6,252.2 L732.3,254.6 L733.0,256.3 L733.7,254.4 L734.4,255.3 L735.1,256.6 L735.8,258.4 L736.5,256.9 L737.2,255.7 L737.9,256.4 L738.6,260.2 L739.3,261.6 L740.0,260.9 L740.7,263.6 L741.4,265.6 L742.1,266.8 L742.8,266.2 L743.5,266.3 L744.2,267.3 L744.9,268.3 L745.6,265.6 L746.3,266.0 L747.0,264.8 L747.7,266.0 L748.4,262.6 L749.1,258.6 L749.8,260.0 L750.5,259.5 L751.2,261.3 L751.9,262.5 L752.6,264.8 L753.3,265.2 L754.0,266.8 L754.7,266.6 L755.4,267.8 L756.1,270.9 L756.8,271.4 L757.5,275.2 L758.2,277.5 L758.9,280.7 L759.6,281.4 L760.3,282.2 L761.0,282.9 L761.7,283.9 L762.4,282.7 L763.1,285.4 L763.8,285.4 L764.5,283.0 L765.2,282.5 L765.9,281.6 L766.6,283.9 L767.3,284.7 L768.0,284.5 L768.7,284.5 L769.4,286.0 L770.1,287.8 L770.8,291.1 L771.5,290.2 L772.2,292.7 L772.9,293.3 L773.6,297.6 L774.3,300.8 L775.0,302.3 L775.7,299.0 L776.4,299.1 L777.1,297.2 L777.8,297.6 L778.5,296.5 L779.2,294.5 L779.9,296.4 L780.6,295.3 L781.3,294.9 L782.0,294.4 L782.7,292.1 L783.4,290.4 L784.1,289.2 L784.8,289.5 L785.5,286.3 L786.2,282.4 L786.9,279.2 L787.6,280.2 L788.3,278.7 L789.0,277.0 L789.7,276.8 L790.4,278.5 L791.1,280.2 L791.8,285.4 L792.5,287.8 L793.2,283.6 L793.9,278.8 L794.6,278.9 L795.3,277.6 L796.0,273.0 L796.7,272.0 L797.4,270.5 L798.1,265.6 L798.8,267.1 L799.5,266.7 L800.2,266.0 L800.9,267.7 L801.6,263.6 L802.3,263.5 L803.0,261.6 L803.7,260.6 L804.4,259.6 L805.1,262.2 L805.8,259.5 L806.5,257.8 L807.2,258.1 L807.9,255.9 L808.6,258.1 L809.3,260.3 L810.0,263.7 L810.7,264.4 L811.4,265.2 L812.1,264.9 L812.8,263.2 L813.5,259.0 L814.2,257.1 L814.9,257.0 L815.6,256.8 L816.3,257.5 L817.0,257.8 L817.7,258.2 L818.4,258.4 L819.1,256.3 L819.8,257.7 L820.5,259.2 L821.2,264.0 L821.9,263.3 L822.6,265.5 L823.3,262.4 L824.0,262.7 L824.7,262.6 L825.4,263.0 L826.1,263.9 L826.8,259.4 L827.5,263.5 L828.2,262.5 L828.9,263.2 L829.6,264.1 L830.3,268.4 L831.0,265.5 L831.7,269.3 L832.4,270.8 L833.1,274.8 L833.8,272.9 L834.5,273.8 L835.2,275.6 L835.9,279.5 L836.6,278.7 L837.3,279.7 L838.0,279.3 L838.7,282.4 L839.4,283.2 L840.1,286.6 L840.8,288.5 L841.5,289.4 L842.2,289.6 L842.9,291.8 L843.6,292.7 L844.3,291.1 L845.0,293.7 L845.7,293.9 L846.4,299.0 L847.1,301.5 L847.8,303.3 L848.5,302.6 L849.2,300.1 L849.9,300.3 L850.6,298.7 L851.3,301.2 L852.0,304.0 L852.7,302.2 L853.4,301.5 L854.1,302.5 L854.8,302.1 L855.5,300.0 L856.2,300.3 L856.9,301.9 L857.6,298.8 L858.3,301.6 L858.3,341.6 L857.6,339.9 L856.9,341.5 L856.2,340.5 L855.5,340.6 L854.8,340.2 L854.1,337.9 L853.4,339.8 L852.7,339.5 L852.0,340.9 L851.3,339.2 L850.6,341.9 L849.9,343.0 L849.2,346.4 L848.5,349.0 L847.8,346.9 L847.1,343.8 L846.4,342.3 L845.7,339.7 L845.0,337.3 L844.3,333.4 L843.6,332.6 L842.9,332.2 L842.2,331.6 L841.5,328.9 L840.8,330.7 L840.1,329.7 L839.4,328.1 L838.7,327.1 L838.0,323.3 L837.3,322.1 L836.6,322.0 L835.9,321.6 L835.2,320.9 L834.5,318.0 L833.8,315.7 L833.1,318.3 L832.4,314.6 L831.7,313.0 L831.0,311.7 L830.3,310.5 L829.6,307.3 L828.9,306.7 L828.2,306.3 L827.5,305.1 L826.8,305.5 L826.1,306.6 L825.4,307.2 L824.7,307.5 L824.0,309.6 L823.3,308.6 L822.6,305.6 L821.9,307.1 L821.2,304.9 L820.5,301.3 L819.8,299.2 L819.1,300.4 L818.4,300.8 L817.7,300.3 L817.0,301.7 L816.3,302.1 L815.6,300.0 L814.9,297.4 L814.2,300.9 L813.5,304.4 L812.8,305.0 L812.1,307.8 L811.4,307.2 L810.7,306.9 L810.0,306.2 L809.3,306.0 L808.6,305.0 L807.9,305.3 L807.2,305.0 L806.5,304.1 L805.8,302.0 L805.1,304.8 L804.4,305.2 L803.7,304.7 L803.0,305.3 L802.3,305.4 L801.6,309.8 L800.9,310.6 L800.2,311.3 L799.5,310.1 L798.8,312.5 L798.1,312.0 L797.4,314.6 L796.7,319.8 L796.0,321.6 L795.3,319.5 L794.6,318.8 L793.9,320.7 L793.2,322.1 L792.5,325.9 L791.8,325.6 L791.1,325.0 L790.4,325.7 L789.7,324.9 L789.0,324.0 L788.3,321.5 L787.6,322.6 L786.9,323.9 L786.2,328.2 L785.5,330.3 L784.8,331.9 L784.1,334.5 L783.4,332.3 L782.7,332.9 L782.0,334.1 L781.3,334.7 L780.6,336.6 L779.9,337.1 L779.2,335.8 L778.5,337.4 L777.8,337.4 L777.1,336.9 L776.4,337.9 L775.7,339.8 L775.0,340.5 L774.3,339.9 L773.6,336.3 L772.9,332.8 L772.2,332.4 L771.5,329.0 L770.8,330.5 L770.1,330.6 L769.4,332.2 L768.7,331.2 L768.0,330.7 L767.3,329.6 L766.6,327.3 L765.9,325.4 L765.2,327.8 L764.5,328.2 L763.8,325.8 L763.1,325.1 L762.4,323.2 L761.7,324.5 L761.0,323.6 L760.3,323.8 L759.6,320.6 L758.9,322.0 L758.2,321.1 L757.5,318.8 L756.8,317.3 L756.1,314.5 L755.4,313.8 L754.7,311.2 L754.0,311.0 L753.3,305.7 L752.6,304.1 L751.9,304.3 L751.2,303.0 L750.5,302.9 L749.8,302.9 L749.1,303.4 L748.4,305.5 L747.7,306.4 L747.0,306.8 L746.3,307.1 L745.6,308.9 L744.9,309.8 L744.2,308.8 L743.5,308.9 L742.8,307.7 L742.1,308.5 L741.4,304.3 L740.7,303.3 L740.0,303.0 L739.3,301.6 L738.6,301.6 L737.9,301.4 L737.2,302.7 L736.5,304.0 L735.8,303.6 L735.1,302.2 L734.4,298.3 L733.7,297.3 L733.0,298.6 L732.3,299.3 L731.6,297.0 L730.9,294.2 L730.2,291.3 L729.5,287.6 L728.8,284.8 L728.1,279.7 L727.4,280.9 L726.7,280.6 L726.0,281.1 L725.3,282.1 L724.6,278.4 L723.9,280.0 L723.2,279.1 L722.5,279.5 L721.8,278.5 L721.1,278.7 L720.4,282.0 L719.7,280.2 L719.0,280.3 L718.3,278.9 L717.6,278.7 L716.9,281.0 L716.2,282.3 L715.5,285.5 L714.8,289.6 L714.1,291.5 L713.4,293.2 L712.7,291.0 L712.0,289.2 L711.3,291.3 L710.6,294.6 L709.9,295.1 L709.2,294.6 L708.5,298.1 L707.8,297.4 L707.1,298.5 L706.4,299.5 L705.7,303.0 L705.0,304.7 L704.3,305.0 L703.6,306.4 L702.9,307.3 L702.2,308.9 L701.5,308.2 L700.8,309.0 L700.1,311.7 L699.4,311.2 L698.7,313.1 L698.0,311.9 L697.3,307.4 L696.6,302.6 L695.9,306.2 L695.2,307.3 L694.5,305.1 L693.8,304.9 L693.1,303.5 L692.4,307.1 L691.7,310.4 L691.0,313.0 L690.3,310.6 L689.6,310.0 L688.9,309.8 L688.2,307.1 L687.5,304.1 L686.8,299.5 L686.1,296.4 L685.4,296.6 L684.7,297.4 L684.0,296.4 L683.3,292.3 L682.6,287.6 L681.9,285.5 L681.2,288.8 L680.5,294.5 L679.8,296.2 L679.1,297.0 L678.4,299.6 L677.7,299.4 L677.0,301.6 L676.3,301.8 L675.6,300.5 L674.9,303.9 L674.2,305.1 L673.5,305.6 L672.8,303.2 L672.1,303.8 L671.4,305.3 L670.7,306.7 L670.0,307.4 L669.3,307.6 L668.6,311.6 L667.9,311.5 L667.2,309.9 L666.5,312.4 L665.8,314.8 L665.1,316.7 L664.4,317.5 L663.7,315.4 L663.0,314.2 L662.3,313.1 L661.6,311.5 L660.9,312.0 L660.2,312.1 L659.5,310.7 L658.8,310.4 L658.1,310.8 L657.4,309.7 L656.7,309.1 L656.0,309.1 L655.3,308.3 L654.6,307.5 L653.9,306.6 L653.2,306.7 L652.5,305.2 L651.8,302.3 L651.1,304.0 L650.4,300.6 L649.7,303.4 L649.0,303.2 L648.3,303.7 L647.6,303.8 L646.9,304.4 L646.2,301.2 L645.5,299.1 L644.8,296.6 L644.1,293.7 L643.4,291.5 L642.7,287.4 L642.0,285.8 L641.3,280.9 L640.6,279.5 L639.9,274.6 L639.2,273.7 L638.5,272.6 L637.8,271.7 L637.1,273.6 L636.4,271.5 L635.7,270.9 L635.0,269.9 L634.3,270.1 L633.6,269.1 L632.9,271.0 L632.2,273.6 L631.5,273.6 L630.8,273.2 L630.1,274.6 L629.4,275.0 L628.7,275.6 L628.0,277.5 L627.3,278.0 L626.6,280.4 L625.9,278.3 L625.2,276.7 L624.5,278.1 L623.8,274.5 L623.1,273.5 L622.4,274.4 L621.7,274.3 L621.0,271.7 L620.3,272.3 L619.6,271.1 L618.9,273.4 L618.2,274.3 L617.5,272.1 L616.8,270.9 L616.1,270.7 L615.4,269.0 L614.7,267.9 L614.0,267.7 L613.3,269.8 L612.6,272.1 L611.9,275.4 L611.2,274.5 L610.5,275.3 L609.8,276.5 L609.1,279.9 L608.4,283.3 L607.7,281.5 L607.0,280.4 L606.3,283.6 L605.6,284.9 L604.9,282.0 L604.2,282.6 L603.5,284.9 L602.8,285.8 L602.1,289.7 L601.4,290.6 L600.7,295.8 L600.0,295.6 L599.3,300.1 L598.6,303.7 L597.9,304.8 L597.2,307.1 L596.5,311.6 L595.8,315.2 L595.1,318.2 L594.4,322.5 L593.7,326.0 L593.0,330.7 L592.3,333.5 L591.6,334.7 L590.9,334.5 L590.2,335.2 L589.5,336.4 L588.8,334.5 L588.1,336.3 L587.4,339.6 L586.7,339.2 L586.0,339.7 L585.3,340.8 L584.6,346.0 L583.9,344.7 L583.2,343.2 L582.5,343.9 L581.8,345.4 L581.1,348.4 L580.4,347.3 L579.7,348.3 L579.0,347.3 L578.3,348.1 L577.6,348.2 L576.9,347.9 L576.2,346.8 L575.5,349.3 L574.8,351.1 L574.1,352.3 L573.4,352.9 L572.7,355.9 L572.0,357.5 L571.3,356.1 L570.6,352.6 L569.9,351.5 L569.2,353.8 L568.5,354.1 L567.8,353.0 L567.1,352.2 L566.4,351.0 L565.7,352.7 L565.0,353.1 L564.3,347.8 L563.6,349.6 L562.9,350.8 L562.2,351.3 L561.5,357.0 L560.8,358.2 L560.1,358.5 L559.4,356.5 L558.7,354.2 L558.0,354.3 L557.3,353.9 L556.6,354.2 L555.9,350.5 L555.2,348.8 L554.5,346.4 L553.8,348.7 L553.1,344.5 L552.4,345.0 L551.7,345.0 L551.0,343.2 L550.3,340.6 L549.6,337.1 L548.9,334.0 L548.2,331.2 L547.5,330.3 L546.8,328.2 L546.1,326.4 L545.4,326.3 L544.7,326.4 L544.0,326.3 L543.3,322.5 L542.6,324.9 L541.9,325.9 L541.2,326.4 L540.5,324.5 L539.8,326.6 L539.1,328.7 L538.4,332.8 L537.7,331.3 L537.0,331.3 L536.3,335.3 L535.6,336.7 L534.9,340.3 L534.2,339.7 L533.5,341.0 L532.8,344.0 L532.1,345.1 L531.4,345.5 L530.7,345.2 L530.0,348.3 L529.3,350.7 L528.6,351.6 L527.9,350.0 L527.2,352.4 L526.5,353.6 L525.8,355.5 L525.1,353.9 L524.4,353.9 L523.7,355.8 L523.0,359.2 L522.3,364.5 L521.6,368.7 L520.9,373.2 L520.2,375.0 L519.5,377.3 L518.8,376.9 L518.1,377.8 L517.4,382.1 L516.7,387.0 L516.0,391.4 L515.3,393.5 L514.6,394.6 L513.9,396.5 L513.2,400.1 L512.5,401.4 L511.8,405.5 L511.1,407.9 L510.4,413.6 L509.7,417.7 L509.0,421.9 L508.3,423.3 L507.6,421.3 L506.9,420.9 L506.2,422.3 L505.5,424.5 L504.8,424.1 L504.1,423.4 L503.4,424.4 L502.7,424.0 L502.0,424.2 L501.3,422.2 L500.6,423.9 L499.9,422.9 L499.2,426.0 L498.5,426.9 L497.8,426.0 L497.1,426.2 L496.4,427.1 L495.7,425.4 L495.0,426.5 L494.3,426.7 L493.6,429.1 L492.9,428.3 L492.2,429.6 L491.5,427.6 L490.8,423.5 L490.1,422.4 L489.4,420.7 L488.7,419.7 L488.0,416.2 L487.3,413.4 L486.6,405.4 L485.9,402.2 L485.2,398.3 L484.5,393.0 L483.8,391.4 L483.1,386.2 L482.4,379.9 L481.7,374.8 L481.0,372.2 L480.3,369.2 L479.6,362.8 L478.9,354.5 L478.2,351.8 L477.5,347.6 L476.8,343.6 L476.1,340.4 L475.4,337.2 L474.7,334.7 L474.0,332.4 L473.3,326.9 L472.6,321.8 L471.9,319.6 L471.2,319.4 L470.5,316.3 L469.8,313.3 L469.1,306.9 L468.4,305.9 L467.7,304.2 L467.0,308.0 L466.3,304.9 L465.6,308.1 L464.9,307.2 L464.2,309.0 L463.5,307.3 L462.8,307.0 L462.1,305.3 L461.4,306.2 L460.7,305.8 L460.0,306.6 L459.3,303.2 L458.6,298.8 L457.9,296.2 L457.2,295.7 L456.5,294.3 L455.8,295.1 L455.1,296.4 L454.4,299.0 L453.7,302.1 L453.0,301.5 L452.3,304.9 L451.6,304.4 L450.9,304.7 L450.2,306.9 L449.5,304.1 L448.8,301.8 L448.1,298.0 L447.4,294.5 L446.7,290.7 L446.0,286.3 L445.3,285.6 L444.6,285.9 L443.9,285.0 L443.2,284.1 L442.5,282.3 L441.8,283.6 L441.1,281.1 L440.4,285.8 L439.7,286.8 L439.0,289.0 L438.3,287.8 L437.6,287.5 L436.9,291.1 L436.2,289.7 L435.5,290.9 L434.8,290.7 L434.1,290.7 L433.4,291.5 L432.7,292.8 L432.0,291.2 L431.3,290.6 L430.6,290.3 L429.9,287.2 L429.2,283.9 L428.5,281.7 L427.8,279.7 L427.1,282.4 L426.4,288.2 L425.7,285.3 L425.0,286.5 L424.3,286.8 L423.6,289.8 L422.9,291.8 L422.2,290.6 L421.5,291.9 L420.8,287.8 L420.1,286.3 L419.4,283.3 L418.7,282.7 L418.0,282.4 L417.3,281.8 L416.6,281.0 L415.9,282.7 L415.2,282.6 L414.5,281.8 L413.8,279.8 L413.1,278.6 L412.4,278.0 L411.7,278.7 L411.0,279.1 L410.3,279.1 L409.6,281.2 L408.9,281.7 L408.2,281.0 L407.5,280.7 L406.8,280.4 L406.1,281.0 L405.4,281.1 L404.7,283.0 L404.0,283.1 L403.3,285.2 L402.6,284.6 L401.9,283.1 L401.2,286.0 L400.5,284.1 L399.8,285.4 L399.1,281.5 L398.4,283.6 L397.7,281.0 L397.0,278.4 L396.3,275.5 L395.6,271.6 L394.9,268.5 L394.2,267.1 L393.5,262.8 L392.8,260.0 L392.1,255.9 L391.4,252.2 L390.7,248.4 L390.0,248.5 L389.3,250.5 L388.6,248.6 L387.9,247.7 L387.2,247.6 L386.5,249.4 L385.8,250.8 L385.1,250.1 L384.4,250.0 L383.7,250.5 L383.0,248.6 L382.3,250.7 L381.6,248.5 L380.9,248.1 L380.2,247.2 L379.5,251.0 L378.8,251.1 L378.1,249.0 L377.4,248.2 L376.7,252.4 L376.0,252.5 L375.3,252.6 L374.6,252.9 L373.9,252.1 L373.2,253.1 L372.5,256.9 L371.8,257.5 L371.1,256.4 L370.4,257.8 L369.7,258.6 L369.0,256.7 L368.3,257.4 L367.6,257.3 L366.9,258.5 L366.2,259.0 L365.5,262.3 L364.8,261.1 L364.1,261.2 L363.4,260.5 L362.7,260.0 L362.0,261.6 L361.3,263.9 L360.6,267.9 L359.9,269.8 L359.2,272.4 L358.5,274.3 L357.8,280.1 L357.1,281.4 L356.4,283.1 L355.7,283.7 L355.0,285.9 L354.3,288.2 L353.6,291.1 L352.9,294.7 L352.2,297.9 L351.5,302.7 L350.8,302.8 L350.1,304.6 L349.4,304.2 L348.7,305.4 L348.0,305.2 L347.3,304.2 L346.6,303.8 L345.9,306.5 L345.2,304.9 L344.5,303.2 L343.8,302.1 L343.1,300.5 L342.4,297.5 L341.7,297.0 L341.0,296.1 L340.3,297.6 L339.6,299.8 L338.9,300.2 L338.2,296.4 L337.5,294.4 L336.8,295.0 L336.1,295.1 L335.4,296.0 L334.7,298.7 L334.0,299.8 L333.3,301.4 L332.6,300.6 L331.9,302.0 L331.2,302.8 L330.5,302.0 L329.8,302.6 L329.1,301.4 L328.4,302.5 L327.7,306.4 L327.0,307.3 L326.3,307.9 L325.6,308.3 L324.9,310.5 L324.2,311.3 L323.5,311.4 L322.8,314.8 L322.1,314.1 L321.4,311.6 L320.7,313.7 L320.0,316.2 L319.3,317.3 L318.6,323.6 L317.9,325.3 L317.2,325.1 L316.5,329.4 L315.8,333.4 L315.1,337.5 L314.4,336.8 L313.7,340.2 L313.0,342.6 L312.3,344.2 L311.6,345.3 L310.9,346.0 L310.2,345.3 L309.5,346.4 L308.8,347.3 L308.1,351.7 L307.4,358.2 L306.7,358.6 L306.0,361.8 L305.3,361.0 L304.6,363.0 L303.9,369.1 L303.2,370.0 L302.5,374.2 L301.8,370.5 L301.1,368.1 L300.4,366.1 L299.7,364.8 L299.0,365.0 L298.3,362.7 L297.6,362.0 L296.9,357.2 L296.2,356.6 L295.5,356.6 L294.8,356.6 L294.1,352.3 L293.4,350.3 L292.7,345.3 L292.0,342.9 L291.3,344.3 L290.6,342.8 L289.9,340.3 L289.2,341.5 L288.5,341.7 L287.8,340.8 L287.1,345.0 L286.4,343.3 L285.7,344.6 L285.0,345.0 L284.3,345.4 L283.6,348.4 L282.9,347.3 L282.2,343.9 L281.5,340.4 L280.8,343.8 L280.1,340.2 L279.4,339.4 L278.7,338.1 L278.0,338.7 L277.3,338.7 L276.6,341.4 L275.9,342.2 L275.2,342.2 L274.5,342.3 L273.8,342.9 L273.1,345.6 L272.4,347.7 L271.7,342.3 L271.0,339.9 L270.3,338.9 L269.6,335.5 L268.9,331.9 L268.2,331.3 L267.5,328.1 L266.8,321.4 L266.1,322.3 L265.4,318.8 L264.7,317.6 L264.0,317.5 L263.3,314.2 L262.6,315.3 L261.9,311.4 L261.2,313.0 L260.5,313.3 L259.8,313.0 L259.1,318.3 L258.4,319.0 L257.7,320.7 L257.0,318.1 L256.3,318.3 L255.6,317.7 L254.9,317.4 L254.2,315.1 L253.5,312.8 L252.8,309.6 L252.1,307.8 L251.4,307.1 L250.7,305.9 L250.0,304.3 L249.3,302.7 L248.6,302.6 L247.9,299.6 L247.2,297.3 L246.5,294.7 L245.8,296.2 L245.1,299.7 L244.4,299.3 L243.7,295.8 L243.0,297.9 L242.3,300.3 L241.6,302.8 L240.9,307.6 L240.2,308.4 L239.5,311.8 L238.8,312.0 L238.1,312.8 L237.4,313.8 L236.7,315.7 L236.0,314.4 L235.3,314.6 L234.6,312.5 L233.9,312.4 L233.2,315.8 L232.5,314.1 L231.8,312.9 L231.1,310.5 L230.4,308.6 L229.7,308.5 L229.0,310.3 L228.3,309.4 L227.6,313.5 L226.9,313.4 L226.2,313.3 L225.5,313.1 L224.8,310.7 L224.1,311.4 L223.4,314.0 L222.7,313.3 L222.0,311.4 L221.3,312.7 L220.6,313.4 L219.9,313.6 L219.2,312.2 L218.5,314.3 L217.8,314.4 L217.1,315.5 L216.4,315.1 L215.7,315.6 L215.0,314.0 L214.3,314.4 L213.6,311.6 L212.9,310.7 L212.2,311.4 L211.5,310.1 L210.8,307.0 L210.1,304.8 L209.4,306.4 L208.7,308.5 L208.0,308.3 L207.3,307.9 L206.6,306.6 L205.9,307.3 L205.2,307.1 L204.5,306.3 L203.8,302.6 L203.1,300.4 L202.4,300.0 L201.7,295.4 L201.0,294.7 L200.3,294.0 L199.6,294.4 L198.9,293.6 L198.2,293.6 L197.5,291.4 L196.8,287.9 L196.1,288.0 L195.4,288.9 L194.7,291.0 L194.0,291.4 L193.3,290.4 L192.6,288.9 L191.9,290.6 L191.2,290.3 L190.5,289.8 L189.8,286.2 L189.1,291.4 L188.4,292.3 L187.7,294.8 L187.0,293.4 L186.3,295.2 L185.6,297.6 L184.9,298.0 L184.2,298.3 L183.5,291.5 L182.8,289.1 L182.1,288.9 L181.4,285.6 L180.7,288.7 L180.0,289.1 L179.3,288.8 L178.6,285.9 L177.9,287.0 L177.2,291.6 L176.5,293.3 L175.8,293.8 L175.1,294.2 L174.4,294.7 L173.7,294.6 L173.0,293.2 L172.3,292.7 L171.6,292.7 L170.9,290.9 L170.2,288.6 L169.5,289.2 L168.8,287.7 L168.1,289.0 L167.4,286.3 L166.7,286.9 L166.0,287.6 L165.3,288.1 L164.6,286.3 L163.9,286.3 L163.2,285.7 L162.5,290.5 L161.8,292.5 L161.1,295.1 L160.4,297.9 L159.7,298.8 L159.0,296.6 L158.3,297.7 L157.6,298.5 L156.9,300.1 L156.2,300.4 L155.5,300.7Z" fill="#ff7f0e" stroke="none" stroke-width="0" fill-opacity="0.2"/>
<path d="M155.5,316.4 L156.2,317.2 L156.9,309.8 L157.6,308.7 L158.3,305.8 L159.0,309.7 L159.7,303.8 L160.4,303.1 L161.1,300.2 L161.8,299.8 L162.5,299.9 L163.2,297.9 L163.9,296.4 L164.6,297.5 L165.3,296.2 L166.0,298.2 L166.7,295.4 L167.4,295.9 L168.1,293.5 L168.8,291.7 L169.5,294.8 L170.2,288.8 L170.9,296.4 L171.6,296.7 L172.3,292.6 L173.0,295.9 L173.7,291.4 L174.4,293.6 L175.1,289.4 L175.8,290.6 L176.5,286.1 L177.2,283.5 L177.9,283.6 L178.6,284.6 L179.3,282.7 L180.0,278.7 L180.7,278.4 L181.4,279.5 L182.1,278.8 L182.8,283.7 L183.5,287.7 L184.2,286.4 L184.9,290.2 L185.6,290.8 L186.3,290.0 L187.0,295.1 L187.7,296.8 L188.4,295.1 L189.1,287.9 L189.8,287.9 L190.5,289.0 L191.2,292.7 L191.9,295.2 L192.6,296.8 L193.3,298.4 L194.0,300.8 L194.7,302.6 L195.4,301.7 L196.1,297.2 L196.8,300.1 L197.5,298.9 L198.2,301.3 L198.9,309.0 L199.6,308.9 L200.3,307.6 L201.0,307.2 L201.7,308.2 L202.4,308.3 L203.1,308.3 L203.8,308.2 L204.5,313.4 L205.2,316.6 L205.9,314.9 L206.6,317.5 L207.3,318.4 L208.0,317.9 L208.7,314.8 L209.4,316.2 L210.1,318.2 L210.8,318.8 L211.5,323.7 L212.2,321.8 L212.9,322.6 L213.6,323.2 L214.3,326.8 L215.0,328.2 L215.7,332.7 L216.4,334.4 L217.1,334.4 L217.8,332.8 L218.5,330.3 L219.2,329.0 L219.9,327.3 L220.6,330.1 L221.3,331.8 L222.0,332.4 L222.7,333.9 L223.4,336.7 L224.1,337.1 L224.8,332.0 L225.5,332.9 L226.2,332.5 L226.9,340.1 L227.6,336.5 L228.3,338.0 L229.0,331.0 L229.7,333.1 L230.4,335.0 L231.1,336.2 L231.8,336.8 L232.5,338.2 L233.2,336.0 L233.9,334.5 L234.6,330.4 L235.3,331.4 L236.0,327.6 L236.7,326.0 L237.4,324.9 L238.1,324.0 L238.8,325.1 L239.5,321.3 L240.2,322.5 L240.9,318.4 L241.6,316.4 L242.3,312.9 L243.0,312.6 L243.7,306.8 L244.4,308.4 L245.1,309.7 L245.8,304.2 L246.5,302.5 L247.2,300.8 L247.9,301.5 L248.6,302.0 L249.3,305.6 L250.0,302.4 L250.7,304.4 L251.4,306.4 L252.1,308.9 L252.8,310.4 L253.5,311.7 L254.2,312.5 L254.9,318.6 L255.6,324.9 L256.3,321.8 L257.0,324.3 L257.7,321.4 L258.4,317.2 L259.1,315.1 L259.8,315.0 L260.5,315.4 L261.2,309.5 L261.9,309.4 L262.6,306.7 L263.3,308.7 L264.0,312.4 L264.7,311.5 L265.4,313.9 L266.1,313.0 L266.8,317.9 L267.5,320.3 L268.2,323.7 L268.9,319.8 L269.6,323.4 L270.3,324.7 L271.0,327.3 L271.7,333.0 L272.4,332.2 L273.1,335.2 L273.8,333.6 L274.5,337.9 L275.2,338.4 L275.9,340.0 L276.6,340.7 L277.3,342.7 L278.0,343.1 L278.7,343.9 L279.4,342.2 L280.1,344.5 L280.8,344.1 L281.5,345.0 L282.2,347.9 L282.9,349.9 L283.6,348.6 L284.3,347.8 L285.0,345.4 L285.7,345.7 L286.4,344.7 L287.1,347.5 L287.8,345.9 L288.5,343.7 L289.2,345.7 L289.9,343.8 L290.6,344.2 L291.3,346.0 L292.0,347.8 L292.7,350.1 L293.4,350.8 L294.1,348.3 L294.8,347.4 L295.5,352.7 L296.2,356.1 L296.9,359.9 L297.6,356.6 L298.3,359.0 L299.0,360.1 L299.7,362.3 L300.4,362.1 L301.1,364.4 L301.8,360.5 L302.5,362.6 L303.2,365.7 L303.9,365.0 L304.6,361.6 L305.3,362.1 L306.0,358.3 L306.7,351.6 L307.4,349.2 L308.1,349.7 L308.8,348.5 L309.5,346.6 L310.2,346.7 L310.9,343.9 L311.6,341.5 L312.3,331.7 L313.0,334.4 L313.7,331.2 L314.4,335.7 L315.1,333.7 L315.8,332.6 L316.5,324.2 L317.2,316.4 L317.9,314.2 L318.6,313.8 L319.3,314.8 L320.0,315.0 L320.7,315.9 L321.4,312.1 L322.1,307.6 L322.8,300.4 L323.5,302.3 L324.2,306.3 L324.9,304.2 L325.6,306.5 L326.3,308.5 L327.0,313.0 L327.7,315.4 L328.4,313.3 L329.1,310.3 L329.8,305.1 L330.5,302.7 L331.2,300.1 L331.9,300.4 L332.6,300.8 L333.3,301.6 L334.0,299.9 L334.7,292.6 L335.4,288.7 L336.1,289.6 L336.8,293.3 L337.5,299.9 L338.2,295.7 L338.9,297.5 L339.6,296.9 L340.3,302.0 L341.0,305.4 L341.7,304.4 L342.4,302.8 L343.1,301.9 L343.8,304.4 L344.5,310.1 L345.2,316.6 L345.9,319.1 L346.6,320.2 L347.3,321.9 L348.0,322.8 L348.7,324.6 L349.4,317.4 L350.1,316.6 L350.8,316.4 L351.5,310.3 L352.2,307.5 L352.9,304.8 L353.6,307.0 L354.3,303.6 L355.0,299.2 L355.7,297.7 L356.4,301.1 L357.1,297.4 L357.8,298.8 L358.5,295.7 L359.2,292.9 L359.9,288.5 L360.6,287.5 L361.3,284.9 L362.0,279.5 L362.7,279.5 L363.4,275.1 L364.1,274.3 L364.8,276.7 L365.5,274.1 L366.2,274.3 L366.9,274.7 L367.6,270.0 L368.3,262.8 L369.0,261.6 L369.7,257.9 L370.4,255.6 L371.1,256.5 L371.8,255.0 L372.5,255.5 L373.2,257.0 L373.9,255.1 L374.6,254.8 L375.3,258.6 L376.0,258.1 L376.7,255.9 L377.4,257.8 L378.1,257.5 L378.8,259.2 L379.5,255.8 L380.2,255.6 L380.9,257.5 L381.6,252.7 L382.3,252.5 L383.0,248.9 L383.7,245.5 L384.4,241.8 L385.1,243.7 L385.8,239.3 L386.5,238.9 L387.2,236.1 L387.9,232.1 L388.6,232.6 L389.3,230.3 L390.0,229.0 L390.7,227.5 L391.4,229.8 L392.1,232.0 L392.8,239.9 L393.5,239.4 L394.2,242.3 L394.9,247.7 L395.6,249.1 L396.3,254.7 L397.0,257.8 L397.7,264.2 L398.4,264.9 L399.1,267.4 L399.8,268.0 L400.5,263.8 L401.2,258.4 L401.9,260.8 L402.6,264.9 L403.3,264.4 L404.0,263.8 L404.7,262.5 L405.4,259.8 L406.1,256.8 L406.8,253.7 L407.5,249.7 L408.2,252.9 L408.9,251.9 L409.6,254.4 L410.3,255.3 L411.0,259.6 L411.7,257.0 L412.4,261.3 L413.1,261.0 L413.8,255.1 L414.5,256.2 L415.2,257.1 L415.9,259.7 L416.6,262.1 L417.3,264.2 L418.0,264.6 L418.7,273.8 L419.4,277.2 L420.1,278.4 L420.8,286.1 L421.5,283.9 L422.2,285.5 L422.9,279.4 L423.6,272.6 L424.3,270.4 L425.0,266.9 L425.7,266.9 L426.4,263.4 L427.1,264.4 L427.8,259.3 L428.5,257.7 L429.2,257.0 L429.9,256.6 L430.6,253.3 L431.3,250.6 L432.0,249.6 L432.7,244.5 L433.4,247.7 L434.1,249.6 L434.8,250.7 L435.5,250.5 L436.2,248.6 L436.9,254.5 L437.6,253.8 L438.3,251.6 L439.0,252.4 L439.7,253.7 L440.4,253.4 L441.1,252.7 L441.8,259.4 L442.5,265.1 L443.2,265.9 L443.9,269.1 L444.6,268.6 L445.3,265.9 L446.0,268.1 L446.7,269.0 L447.4,275.1 L448.1,275.3 L448.8,277.6 L449.5,273.8 L450.2,273.9 L450.9,273.1 L451.6,272.2 L452.3,269.7 L453.0,270.2 L453.7,272.8 L454.4,279.1 L455.1,280.1 L455.8,281.3 L456.5,278.5 L457.2,279.6 L457.9,281.8 L458.6,279.9 L459.3,280.1 L460.0,282.4 L460.7,277.0 L461.4,281.5 L462.1,280.7 L462.8,280.8 L463.5,278.6 L464.2,277.3 L464.9,278.9 L465.6,280.9 L466.3,285.1 L467.0,284.4 L467.7,286.6 L468.4,285.1 L469.1,288.3 L469.8,286.5 L470.5,289.2 L471.2,290.5 L471.9,290.3 L472.6,285.9 L473.3,290.9 L474.0,292.0 L474.7,301.6 L475.4,301.4 L476.1,308.2 L476.8,315.7 L477.5,320.2 L478.2,322.6 L478.9,329.6 L479.6,336.0 L480.3,336.3 L481.0,339.5 L481.7,341.7 L482.4,346.4 L483.1,355.1 L483.8,360.0 L484.5,365.1 L485.2,372.2 L485.9,373.9 L486.6,382.8 L487.3,388.2 L488.0,392.1 L488.7,397.3 L489.4,401.1 L490.1,402.2 L490.8,408.5 L491.5,413.5 L492.2,418.8 L492.9,427.5 L493.6,431.8 L494.3,435.6 L495.0,438.0 L495.7,441.8 L496.4,450.7 L497.1,452.1 L497.8,444.1 L498.5,445.8 L499.2,438.5 L499.9,437.4 L500.6,433.9 L501.3,437.2 L502.0,435.2 L502.7,433.1 L503.4,434.4 L504.1,436.4 L504.8,438.5 L505.5,435.1 L506.2,429.3 L506.9,431.0 L507.6,430.2 L508.3,432.8 L509.0,433.0 L509.7,429.4 L510.4,429.2 L511.1,421.2 L511.8,413.8 L512.5,406.4 L513.2,401.8 L513.9,396.3 L514.6,391.2 L515.3,387.2 L516.0,387.0 L516.7,385.5 L517.4,386.4 L518.1,384.7 L518.8,381.8 L519.5,378.5 L520.2,369.6 L520.9,364.4 L521.6,362.1 L522.3,358.3 L523.0,355.0 L523.7,352.2 L524.4,348.0 L525.1,343.5 L525.8,347.2 L526.5,343.5 L527.2,345.1 L527.9,347.1 L528.6,345.3 L529.3,346.7 L530.0,343.8 L530.7,342.6 L531.4,341.3 L532.1,339.8 L532.8,337.3 L533.5,336.0 L534.2,331.9 L534.9,326.1 L535.6,325.3 L536.3,319.1 L537.0,321.1 L537.7,319.5 L538.4,315.2 L539.1,310.0 L539.8,310.2 L540.5,305.8 L541.2,306.1 L541.9,301.6 L542.6,300.7 L543.3,298.7 L544.0,296.7 L544.7,297.3 L545.4,294.3 L546.1,295.1 L546.8,293.2 L547.5,299.3 L548.2,295.7 L548.9,300.5 L549.6,306.9 L550.3,307.5 L551.0,312.6 L551.7,315.5 L552.4,319.3 L553.1,317.2 L553.8,318.5 L554.5,322.1 L555.2,328.5 L555.9,328.1 L556.6,326.8 L557.3,326.2 L558.0,327.9 L558.7,328.1 L559.4,331.0 L560.1,327.4 L560.8,324.8 L561.5,322.6 L562.2,320.8 L562.9,321.7 L563.6,318.3 L564.3,322.0 L565.0,326.3 L565.7,327.0 L566.4,327.2 L567.1,327.6 L567.8,328.0 L568.5,329.0 L569.2,326.2 L569.9,330.5 L570.6,333.1 L571.3,332.5 L572.0,335.0 L572.7,331.3 L573.4,331.8 L574.1,328.4 L574.8,328.1 L575.5,333.8 L576.2,333.2 L576.9,336.3 L577.6,337.6 L578.3,338.6 L579.0,338.6 L579.7,338.5 L580.4,341.6 L581.1,342.6 L581.8,344.9 L582.5,343.6 L583.2,345.7 L583.9,343.6 L584.6,345.1 L585.3,345.6 L586.0,339.3 L586.7,337.9 L587.4,334.3 L588.1,329.7 L588.8,326.7 L589.5,326.9 L590.2,328.4 L590.9,325.1 L591.6,323.4 L592.3,322.0 L593.0,320.8 L593.7,323.5 L594.4,325.1 L595.1,323.9 L595.8,321.6 L596.5,323.9 L597.2,330.1 L597.9,326.8 L598.6,319.4 L599.3,320.2 L600.0,315.8 L600.7,313.5 L601.4,308.9 L602.1,303.6 L602.8,299.2 L603.5,299.8 L604.2,300.8 L604.9,298.1 L605.6,294.5 L606.3,296.8 L607.0,297.5 L607.7,297.1 L608.4,294.4 L609.1,299.2 L609.8,295.4 L610.5,294.7 L611.2,295.0 L611.9,290.8 L612.6,286.6 L613.3,285.9 L614.0,284.0 L614.7,281.3 L615.4,286.0 L616.1,286.7 L616.8,283.9 L617.5,284.0 L618.2,286.1 L618.9,280.3 L619.6,278.3 L620.3,278.9 L621.0,277.2 L621.7,277.9 L622.4,277.5 L623.1,282.5 L623.8,281.0 L624.5,280.4 L625.2,278.1 L625.9,279.6 L626.6,280.9 L627.3,278.2 L628.0,275.5 L628.7,273.8 L629.4,275.0 L630.1,271.4 L630.8,269.5 L631.5,265.1 L632.2,266.8 L632.9,265.3 L633.6,270.5 L634.3,272.2 L635.0,273.6 L635.7,272.7 L636.4,277.7 L637.1,276.2 L637.8,276.3 L638.5,277.4 L639.2,281.1 L639.9,281.7 L640.6,286.0 L641.3,284.5 L642.0,286.1 L642.7,287.4 L643.4,291.9 L644.1,294.4 L644.8,291.9 L645.5,291.7 L646.2,294.3 L646.9,302.2 L647.6,305.9 L648.3,305.5 L649.0,308.0 L649.7,304.7 L650.4,308.1 L651.1,306.1 L651.8,304.1 L652.5,309.3 L653.2,310.6 L653.9,317.4 L654.6,316.0 L655.3,321.8 L656.0,325.4 L656.7,328.8 L657.4,325.8 L658.1,323.2 L658.8,321.1 L659.5,323.4 L660.2,322.0 L660.9,323.4 L661.6,328.0 L662.3,326.5 L663.0,326.2 L663.7,325.2 L664.4,325.6 L665.1,328.5 L665.8,331.3 L666.5,330.3 L667.2,327.3 L667.9,327.3 L668.6,321.7 L669.3,319.5 L670.0,316.6 L670.7,315.3 L671.4,314.1 L672.1,315.1 L672.8,309.3 L673.5,312.7 L674.2,313.6 L674.9,311.0 L675.6,310.5 L676.3,311.0 L677.0,310.4 L677.7,310.4 L678.4,307.2 L679.1,304.6 L679.8,300.4 L680.5,299.6 L681.2,302.8 L681.9,304.8 L682.6,304.7 L683.3,302.9 L684.0,305.1 L684.7,305.4 L685.4,308.8 L686.1,308.7 L686.8,307.5 L687.5,307.4 L688.2,314.5 L688.9,318.1 L689.6,322.7 L690.3,321.2 L691.0,320.5 L691.7,313.7 L692.4,311.3 L693.1,310.1 L693.8,311.3 L694.5,315.6 L695.2,315.4 L695.9,317.1 L696.6,316.2 L697.3,317.7 L698.0,319.6 L698.7,320.9 L699.4,319.7 L700.1,317.9 L700.8,314.9 L701.5,317.4 L702.2,314.0 L702.9,316.7 L703.6,313.4 L704.3,313.6 L705.0,318.4 L705.7,315.3 L706.4,317.8 L707.1,314.4 L707.8,312.5 L708.5,311.4 L709.2,311.7 L709.9,314.7 L710.6,318.2 L711.3,309.4 L712.0,304.3 L712.7,302.9 L713.4,305.5 L714.1,304.7 L714.8,306.8 L715.5,304.2 L716.2,302.9 L716.9,300.9 L717.6,302.0 L718.3,296.6 L719.0,294.8 L719.7,290.3 L720.4,289.7 L721.1,289.5 L721.8,286.9 L722.5,289.4 L723.2,286.7 L723.9,285.5 L724.6,282.2 L725.3,288.4 L726.0,288.9 L726.7,287.0 L727.4,290.5 L728.1,294.3 L728.8,295.9 L729.5,298.3 L730.2,297.4 L730.9,299.3 L731.6,303.5 L732.3,304.7 L733.0,304.3 L733.7,309.9 L734.4,313.4 L735.1,317.0 L735.8,317.8 L736.5,317.0 L737.2,316.9 L737.9,321.2 L738.6,321.0 L739.3,319.7 L740.0,319.7 L740.7,325.8 L741.4,322.0 L742.1,322.2 L742.8,316.9 L743.5,313.3 L744.2,315.4 L744.9,316.3 L745.6,315.7 L746.3,314.4 L747.0,320.2 L747.7,317.7 L748.4,312.6 L749.1,314.4 L749.8,318.2 L750.5,322.9 L751.2,325.1 L751.9,327.9 L752.6,323.8 L753.3,320.6 L754.0,321.9 L754.7,322.1 L755.4,325.7 L756.1,323.3 L756.8,324.0 L757.5,326.6 L758.2,334.3 L758.9,334.7 L759.6,338.1 L760.3,338.7 L761.0,339.3 L761.7,338.2 L762.4,333.2 L763.1,337.1 L763.8,340.1 L764.5,339.0 L765.2,342.6 L765.9,342.8 L766.6,343.2 L767.3,341.6 L768.0,341.6 L768.7,339.8 L769.4,339.3 L770.1,338.8 L770.8,341.2 L771.5,339.3 L772.2,341.3 L772.9,338.5 L773.6,341.4 L774.3,343.0 L775.0,344.3 L775.7,346.0 L776.4,347.6 L777.1,348.1 L777.8,347.8 L778.5,344.8 L779.2,348.3 L779.9,350.9 L780.6,352.4 L781.3,356.7 L782.0,356.6 L782.7,354.9 L783.4,354.8 L784.1,351.0 L784.8,348.4 L785.5,344.9 L786.2,345.9 L786.9,342.8 L787.6,337.6 L788.3,336.8 L789.0,340.2 L789.7,339.5 L790.4,338.0 L791.1,334.5 L791.8,331.7 L792.5,329.7 L793.2,325.0 L793.9,323.6 L794.6,318.3 L795.3,318.3 L796.0,320.4 L796.7,320.6 L797.4,320.8 L798.1,318.7 L798.8,319.6 L799.5,315.6 L800.2,313.3 L800.9,316.9 L801.6,313.6 L802.3,313.5 L803.0,311.9 L803.7,309.6 L804.4,307.1 L805.1,302.7 L805.8,301.7 L806.5,301.6 L807.2,305.7 L807.9,305.2 L808.6,304.9 L809.3,305.6 L810.0,306.2 L810.7,310.5 L811.4,309.7 L812.1,306.7 L812.8,306.7 L813.5,308.8 L814.2,311.0 L814.9,310.8 L815.6,311.9 L816.3,312.4 L817.0,309.0 L817.7,306.8 L818.4,309.8 L819.1,310.8 L819.8,309.6 L820.5,305.0 L821.2,303.6 L821.9,304.4 L822.6,308.4 L823.3,309.6 L824.0,312.5 L824.7,314.8 L825.4,312.7 L826.1,316.6 L826.8,315.7 L827.5,319.3 L828.2,321.8 L828.9,327.7 L829.6,330.4 L830.3,333.2 L831.0,326.9 L831.7,327.6 L832.4,325.8 L833.1,323.2 L833.8,320.2 L834.5,322.2 L835.2,323.8 L835.9,325.2 L836.6,326.2 L837.3,326.6 L838.0,329.0 L838.7,331.8 L839.4,330.5 L840.1,334.5 L840.8,336.9 L841.5,336.5 L842.2,337.7 L842.9,339.0 L843.6,340.5 L844.3,340.7 L845.0,344.8 L845.7,346.3 L846.4,346.0 L847.1,347.8 L847.8,352.9 L848.5,353.0 L849.2,349.0 L849.9,343.8 L850.6,339.5 L851.3,341.0 L852.0,340.9 L852.7,341.7 L853.4,342.0 L854.1,344.5 L854.8,342.8 L855.5,343.8 L856.2,347.6 L856.9,350.0 L857.6,350.4 L858.3,347.4 L858.3,410.6 L857.6,411.0 L856.9,415.7 L856.2,410.4 L855.5,409.7 L854.8,403.6 L854.1,406.7 L853.4,405.4 L852.7,403.6 L852.0,402.1 L851.3,403.0 L850.6,406.5 L849.9,408.9 L849.2,413.6 L848.5,418.2 L847.8,421.4 L847.1,416.6 L846.4,411.4 L845.7,405.4 L845.0,402.6 L844.3,400.5 L843.6,404.0 L842.9,404.3 L842.2,402.2 L841.5,407.2 L840.8,409.2 L840.1,405.7 L839.4,399.7 L838.7,398.0 L838.0,396.5 L837.3,395.9 L836.6,399.0 L835.9,401.8 L835.2,397.9 L834.5,398.0 L833.8,393.3 L833.1,392.9 L832.4,399.8 L831.7,402.0 L831.0,401.2 L830.3,399.0 L829.6,397.5 L828.9,396.3 L828.2,391.5 L827.5,385.6 L826.8,385.7 L826.1,385.5 L825.4,387.4 L824.7,386.7 L824.0,386.6 L823.3,384.6 L822.6,384.3 L821.9,384.8 L821.2,385.7 L820.5,387.4 L819.8,387.1 L819.1,382.6 L818.4,380.3 L817.7,378.6 L817.0,379.8 L816.3,380.8 L815.6,377.0 L814.9,374.5 L814.2,373.4 L813.5,374.0 L812.8,374.6 L812.1,376.2 L811.4,382.9 L810.7,383.6 L810.0,380.9 L809.3,375.9 L808.6,378.6 L807.9,379.0 L807.2,378.2 L806.5,377.2 L805.8,376.2 L805.1,377.4 L804.4,379.7 L803.7,382.4 L803.0,390.1 L802.3,388.7 L801.6,390.5 L800.9,393.3 L800.2,395.2 L799.5,397.6 L798.8,396.0 L798.1,397.4 L797.4,396.9 L796.7,399.0 L796.0,397.4 L795.3,399.7 L794.6,398.6 L793.9,400.8 L793.2,405.1 L792.5,411.4 L791.8,415.6 L791.1,417.3 L790.4,417.8 L789.7,418.9 L789.0,419.4 L788.3,424.4 L787.6,423.2 L786.9,427.9 L786.2,428.6 L785.5,427.6 L784.8,426.6 L784.1,426.7 L783.4,428.1 L782.7,431.2 L782.0,433.2 L781.3,428.2 L780.6,424.1 L779.9,421.7 L779.2,425.0 L778.5,425.6 L777.8,426.8 L777.1,424.8 L776.4,420.6 L775.7,421.4 L775.0,420.9 L774.3,422.7 L773.6,420.9 L772.9,420.5 L772.2,420.4 L771.5,418.4 L770.8,419.8 L770.1,418.3 L769.4,418.2 L768.7,416.7 L768.0,419.4 L767.3,421.1 L766.6,419.6 L765.9,411.6 L765.2,408.2 L764.5,408.0 L763.8,410.2 L763.1,412.5 L762.4,411.1 L761.7,410.7 L761.0,412.2 L760.3,410.8 L759.6,408.8 L758.9,409.5 L758.2,408.3 L757.5,403.7 L756.8,403.4 L756.1,398.3 L755.4,399.3 L754.7,399.6 L754.0,398.9 L753.3,393.6 L752.6,392.7 L751.9,396.2 L751.2,393.9 L750.5,393.0 L749.8,388.7 L749.1,388.4 L748.4,382.9 L747.7,388.7 L747.0,388.2 L746.3,388.2 L745.6,383.2 L744.9,383.9 L744.2,385.4 L743.5,388.7 L742.8,386.2 L742.1,387.5 L741.4,390.7 L740.7,390.6 L740.0,390.7 L739.3,390.5 L738.6,391.9 L737.9,391.7 L737.2,391.1 L736.5,392.0 L735.8,383.5 L735.1,379.7 L734.4,379.4 L733.7,383.3 L733.0,381.9 L732.3,374.4 L731.6,369.0 L730.9,367.9 L730.2,366.3 L729.5,365.0 L728.8,364.3 L728.1,363.3 L727.4,363.0 L726.7,361.1 L726.0,360.1 L725.3,354.1 L724.6,348.4 L723.9,352.6 L723.2,351.4 L722.5,352.9 L721.8,352.1 L721.1,354.8 L720.4,357.8 L719.7,352.3 L719.0,357.7 L718.3,358.4 L717.6,362.1 L716.9,362.6 L716.2,367.5 L715.5,370.6 L714.8,376.9 L714.1,375.2 L713.4,374.5 L712.7,372.3 L712.0,373.4 L711.3,376.3 L710.6,377.7 L709.9,377.6 L709.2,377.7 L708.5,378.5 L707.8,377.9 L707.1,382.5 L706.4,383.2 L705.7,382.2 L705.0,381.1 L704.3,381.9 L703.6,383.9 L702.9,384.3 L702.2,385.1 L701.5,386.3 L700.8,388.8 L700.1,388.6 L699.4,388.1 L698.7,387.7 L698.0,389.2 L697.3,387.2 L696.6,389.2 L695.9,387.8 L695.2,384.6 L694.5,381.8 L693.8,377.2 L693.1,380.0 L692.4,381.1 L691.7,381.8 L691.0,383.0 L690.3,384.2 L689.6,379.1 L688.9,381.1 L688.2,370.6 L687.5,368.9 L686.8,369.2 L686.1,368.7 L685.4,364.9 L684.7,363.9 L684.0,360.0 L683.3,360.4 L682.6,366.7 L681.9,365.9 L681.2,363.2 L680.5,361.8 L679.8,369.7 L679.1,369.0 L678.4,373.8 L677.7,375.2 L677.0,374.9 L676.3,372.2 L675.6,374.2 L674.9,379.3 L674.2,382.7 L673.5,378.0 L672.8,379.0 L672.1,386.7 L671.4,384.6 L670.7,388.7 L670.0,390.7 L669.3,390.8 L668.6,393.4 L667.9,397.5 L667.2,395.4 L666.5,392.4 L665.8,392.5 L665.1,391.3 L664.4,394.0 L663.7,393.6 L663.0,394.6 L662.3,387.8 L661.6,392.3 L660.9,381.8 L660.2,388.4 L659.5,387.2 L658.8,391.7 L658.1,393.7 L657.4,392.5 L656.7,392.8 L656.0,395.8 L655.3,390.6 L654.6,386.3 L653.9,385.0 L653.2,384.2 L652.5,383.1 L651.8,384.2 L651.1,384.4 L650.4,381.7 L649.7,379.0 L649.0,376.4 L648.3,374.2 L647.6,371.4 L646.9,370.4 L646.2,365.5 L645.5,359.9 L644.8,357.6 L644.1,357.0 L643.4,355.3 L642.7,356.5 L642.0,358.6 L641.3,356.0 L640.6,351.2 L639.9,347.8 L639.2,353.3 L638.5,352.6 L637.8,350.3 L637.1,351.5 L636.4,348.2 L635.7,342.8 L635.0,348.0 L634.3,347.4 L633.6,346.1 L632.9,344.0 L632.2,345.2 L631.5,345.0 L630.8,347.6 L630.1,348.6 L629.4,347.7 L628.7,347.5 L628.0,348.6 L627.3,350.3 L626.6,355.9 L625.9,360.5 L625.2,356.6 L624.5,359.9 L623.8,361.0 L623.1,360.2 L622.4,356.6 L621.7,356.0 L621.0,358.6 L620.3,359.4 L619.6,362.8 L618.9,360.8 L618.2,363.1 L617.5,366.2 L616.8,367.0 L616.1,367.8 L615.4,367.7 L614.7,367.0 L614.0,366.1 L613.3,367.1 L612.6,369.0 L611.9,374.6 L611.2,375.5 L610.5,382.8 L609.8,385.6 L609.1,386.7 L608.4,386.1 L607.7,386.5 L607.0,395.0 L606.3,396.8 L605.6,394.7 L604.9,393.6 L604.2,394.2 L603.5,402.0 L602.8,405.8 L602.1,411.5 L601.4,417.1 L600.7,412.6 L600.0,412.8 L599.3,413.3 L598.6,414.2 L597.9,416.3 L597.2,420.1 L596.5,421.8 L595.8,421.5 L595.1,419.0 L594.4,420.2 L593.7,423.0 L593.0,424.8 L592.3,426.1 L591.6,427.2 L590.9,430.6 L590.2,432.0 L589.5,431.3 L588.8,430.4 L588.1,435.6 L587.4,441.9 L586.7,443.6 L586.0,450.7 L585.3,448.1 L584.6,445.9 L583.9,440.6 L583.2,440.5 L582.5,433.1 L581.8,432.0 L581.1,433.5 L580.4,429.3 L579.7,429.6 L579.0,433.3 L578.3,438.1 L577.6,434.4 L576.9,434.3 L576.2,425.6 L575.5,426.7 L574.8,424.4 L574.1,426.3 L573.4,418.9 L572.7,420.3 L572.0,420.7 L571.3,422.7 L570.6,420.8 L569.9,419.2 L569.2,419.3 L568.5,417.5 L567.8,419.3 L567.1,416.2 L566.4,416.1 L565.7,415.6 L565.0,411.7 L564.3,408.3 L563.6,411.2 L562.9,406.3 L562.2,411.4 L561.5,413.9 L560.8,419.9 L560.1,417.4 L559.4,415.0 L558.7,414.3 L558.0,417.5 L557.3,416.2 L556.6,413.8 L555.9,417.3 L555.2,414.6 L554.5,411.2 L553.8,411.7 L553.1,410.2 L552.4,408.8 L551.7,405.9 L551.0,401.7 L550.3,402.0 L549.6,405.1 L548.9,399.9 L548.2,395.5 L547.5,395.2 L546.8,398.5 L546.1,392.8 L545.4,387.4 L544.7,390.6 L544.0,395.2 L543.3,398.0 L542.6,400.0 L541.9,401.4 L541.2,402.2 L540.5,409.0 L539.8,410.5 L539.1,410.3 L538.4,408.4 L537.7,415.6 L537.0,418.9 L536.3,417.3 L535.6,419.4 L534.9,424.4 L534.2,424.4 L533.5,428.2 L532.8,433.5 L532.1,433.9 L531.4,439.6 L530.7,443.3 L530.0,450.5 L529.3,453.6 L528.6,453.8 L527.9,452.0 L527.2,454.9 L526.5,456.7 L525.8,452.6 L525.1,454.1 L524.4,460.9 L523.7,464.5 L523.0,465.0 L522.3,467.8 L521.6,471.3 L520.9,477.3 L520.2,486.8 L519.5,488.5 L518.8,492.5 L518.1,495.5 L517.4,499.0 L516.7,501.0 L516.0,499.7 L515.3,505.4 L514.6,512.1 L513.9,515.3 L513.2,520.0 L512.5,527.6 L511.8,532.5 L511.1,538.5 L510.4,544.1 L509.7,545.7 L509.0,544.9 L508.3,544.1 L507.6,545.3 L506.9,541.8 L506.2,548.4 L505.5,550.9 L504.8,554.2 L504.1,554.6 L503.4,557.9 L502.7,560.7 L502.0,561.7 L501.3,563.6 L500.6,566.8 L499.9,570.7 L499.2,573.0 L498.5,570.4 L497.8,574.9 L497.1,575.5 L496.4,575.7 L495.7,567.0 L495.0,564.4 L494.3,560.1 L493.6,559.7 L492.9,555.4 L492.2,548.2 L491.5,540.0 L490.8,534.9 L490.1,524.6 L489.4,517.7 L488.7,509.4 L488.0,502.1 L487.3,495.0 L486.6,489.9 L485.9,483.7 L485.2,480.3 L484.5,472.6 L483.8,469.0 L483.1,462.1 L482.4,457.7 L481.7,451.0 L481.0,448.9 L480.3,438.9 L479.6,437.8 L478.9,432.5 L478.2,426.3 L477.5,422.0 L476.8,412.5 L476.1,404.4 L475.4,394.9 L474.7,389.9 L474.0,388.3 L473.3,385.5 L472.6,379.3 L471.9,379.2 L471.2,380.6 L470.5,376.4 L469.8,374.3 L469.1,374.4 L468.4,372.3 L467.7,374.8 L467.0,372.9 L466.3,371.7 L465.6,368.2 L464.9,366.7 L464.2,366.0 L463.5,365.3 L462.8,364.7 L462.1,365.4 L461.4,369.0 L460.7,368.4 L460.0,369.6 L459.3,367.2 L458.6,366.7 L457.9,364.4 L457.2,362.5 L456.5,363.3 L455.8,360.0 L455.1,356.0 L454.4,357.0 L453.7,354.5 L453.0,348.8 L452.3,348.0 L451.6,350.6 L450.9,351.9 L450.2,357.0 L449.5,356.0 L448.8,356.0 L448.1,352.0 L447.4,353.0 L446.7,355.2 L446.0,350.0 L445.3,351.2 L444.6,346.5 L443.9,344.3 L443.2,341.5 L442.5,342.3 L441.8,339.1 L441.1,334.3 L440.4,333.7 L439.7,336.2 L439.0,335.1 L438.3,331.5 L437.6,330.7 L436.9,329.7 L436.2,327.9 L435.5,328.4 L434.8,323.2 L434.1,320.4 L433.4,323.8 L432.7,328.1 L432.0,338.3 L431.3,335.6 L430.6,335.4 L429.9,339.2 L429.2,337.3 L428.5,341.6 L427.8,341.9 L427.1,346.7 L426.4,349.7 L425.7,349.5 L425.0,351.8 L424.3,351.4 L423.6,351.6 L422.9,354.6 L422.2,360.0 L421.5,364.6 L420.8,368.4 L420.1,361.7 L419.4,359.9 L418.7,358.1 L418.0,358.8 L417.3,354.2 L416.6,351.4 L415.9,350.4 L415.2,351.5 L414.5,351.3 L413.8,353.2 L413.1,353.4 L412.4,351.7 L411.7,351.3 L411.0,353.4 L410.3,352.6 L409.6,354.2 L408.9,355.4 L408.2,353.6 L407.5,353.2 L406.8,350.7 L406.1,354.3 L405.4,356.9 L404.7,359.9 L404.0,360.6 L403.3,359.9 L402.6,360.6 L401.9,358.6 L401.2,359.2 L400.5,359.4 L399.8,363.9 L399.1,365.7 L398.4,369.4 L397.7,367.9 L397.0,359.7 L396.3,353.2 L395.6,351.8 L394.9,347.8 L394.2,343.8 L393.5,341.2 L392.8,336.6 L392.1,335.9 L391.4,332.8 L390.7,328.7 L390.0,327.9 L389.3,327.8 L388.6,329.8 L387.9,329.0 L387.2,326.5 L386.5,328.4 L385.8,330.2 L385.1,326.0 L384.4,325.7 L383.7,324.8 L383.0,328.0 L382.3,327.6 L381.6,324.1 L380.9,327.9 L380.2,324.7 L379.5,330.1 L378.8,329.4 L378.1,327.6 L377.4,328.0 L376.7,327.3 L376.0,326.2 L375.3,325.5 L374.6,328.0 L373.9,325.1 L373.2,327.3 L372.5,330.3 L371.8,327.5 L371.1,330.1 L370.4,328.5 L369.7,330.2 L369.0,335.0 L368.3,335.1 L367.6,335.4 L366.9,335.3 L366.2,337.5 L365.5,339.0 L364.8,339.6 L364.1,344.5 L363.4,348.3 L362.7,347.5 L362.0,353.8 L361.3,352.7 L360.6,352.0 L359.9,351.9 L359.2,354.4 L358.5,357.8 L357.8,360.0 L357.1,361.6 L356.4,365.4 L355.7,367.6 L355.0,369.0 L354.3,370.8 L353.6,371.1 L352.9,374.5 L352.2,373.8 L351.5,374.0 L350.8,374.0 L350.1,374.3 L349.4,376.0 L348.7,378.8 L348.0,382.9 L347.3,376.3 L346.6,376.3 L345.9,372.4 L345.2,368.3 L344.5,361.8 L343.8,356.4 L343.1,354.1 L342.4,354.1 L341.7,354.8 L341.0,358.2 L340.3,356.3 L339.6,349.6 L338.9,353.8 L338.2,349.8 L337.5,350.4 L336.8,344.4 L336.1,348.6 L335.4,350.1 L334.7,356.4 L334.0,358.5 L333.3,362.0 L332.6,358.1 L331.9,364.0 L331.2,365.0 L330.5,367.3 L329.8,369.2 L329.1,378.2 L328.4,380.7 L327.7,382.3 L327.0,375.4 L326.3,375.7 L325.6,377.6 L324.9,373.9 L324.2,366.6 L323.5,364.9 L322.8,367.1 L322.1,373.0 L321.4,374.4 L320.7,378.9 L320.0,381.9 L319.3,383.5 L318.6,387.0 L317.9,385.8 L317.2,380.3 L316.5,382.9 L315.8,388.6 L315.1,389.5 L314.4,392.4 L313.7,392.1 L313.0,395.4 L312.3,395.8 L311.6,402.8 L310.9,406.1 L310.2,405.7 L309.5,414.7 L308.8,418.0 L308.1,420.4 L307.4,419.5 L306.7,425.2 L306.0,427.3 L305.3,426.8 L304.6,432.1 L303.9,431.1 L303.2,435.4 L302.5,432.2 L301.8,435.1 L301.1,433.7 L300.4,435.4 L299.7,430.8 L299.0,428.0 L298.3,423.2 L297.6,425.1 L296.9,424.3 L296.2,423.0 L295.5,421.5 L294.8,417.9 L294.1,417.1 L293.4,419.7 L292.7,423.5 L292.0,418.4 L291.3,420.1 L290.6,417.6 L289.9,417.1 L289.2,412.7 L288.5,412.7 L287.8,412.4 L287.1,414.9 L286.4,416.4 L285.7,415.5 L285.0,417.4 L284.3,418.8 L283.6,421.9 L282.9,420.1 L282.2,416.9 L281.5,411.4 L280.8,409.7 L280.1,407.2 L279.4,410.4 L278.7,410.8 L278.0,411.4 L277.3,408.7 L276.6,414.6 L275.9,414.0 L275.2,417.8 L274.5,412.7 L273.8,413.2 L273.1,410.3 L272.4,406.1 L271.7,406.5 L271.0,408.4 L270.3,402.1 L269.6,395.4 L268.9,393.2 L268.2,392.7 L267.5,390.0 L266.8,386.5 L266.1,380.3 L265.4,379.3 L264.7,374.6 L264.0,378.5 L263.3,372.8 L262.6,378.1 L261.9,380.6 L261.2,382.8 L260.5,389.2 L259.8,388.4 L259.1,390.3 L258.4,387.7 L257.7,394.8 L257.0,396.3 L256.3,396.8 L255.6,393.2 L254.9,389.9 L254.2,385.2 L253.5,383.7 L252.8,382.5 L252.1,376.2 L251.4,372.8 L250.7,374.2 L250.0,378.9 L249.3,374.2 L248.6,369.4 L247.9,370.2 L247.2,368.6 L246.5,370.0 L245.8,372.8 L245.1,377.6 L244.4,378.3 L243.7,377.7 L243.0,375.5 L242.3,380.9 L241.6,383.3 L240.9,385.9 L240.2,390.5 L239.5,386.7 L238.8,393.4 L238.1,392.4 L237.4,395.6 L236.7,396.0 L236.0,398.8 L235.3,396.4 L234.6,397.5 L233.9,401.7 L233.2,401.0 L232.5,399.9 L231.8,396.1 L231.1,397.1 L230.4,392.7 L229.7,390.7 L229.0,393.9 L228.3,396.3 L227.6,395.7 L226.9,389.5 L226.2,388.5 L225.5,388.6 L224.8,391.1 L224.1,394.1 L223.4,391.4 L222.7,391.7 L222.0,393.5 L221.3,390.5 L220.6,389.1 L219.9,388.7 L219.2,386.7 L218.5,391.4 L217.8,387.3 L217.1,390.3 L216.4,392.4 L215.7,393.7 L215.0,393.9 L214.3,392.3 L213.6,390.9 L212.9,391.9 L212.2,386.8 L211.5,388.4 L210.8,384.4 L210.1,384.9 L209.4,382.4 L208.7,385.8 L208.0,385.2 L207.3,385.0 L206.6,386.6 L205.9,389.0 L205.2,386.9 L204.5,381.6 L203.8,381.7 L203.1,379.4 L202.4,382.6 L201.7,380.9 L201.0,378.0 L200.3,376.7 L199.6,373.5 L198.9,374.8 L198.2,373.6 L197.5,373.7 L196.8,371.8 L196.1,369.3 L195.4,370.0 L194.7,369.8 L194.0,366.8 L193.3,376.8 L192.6,374.6 L191.9,371.6 L191.2,371.7 L190.5,371.1 L189.8,367.9 L189.1,367.8 L188.4,369.8 L187.7,369.7 L187.0,371.4 L186.3,373.5 L185.6,372.0 L184.9,368.1 L184.2,366.9 L183.5,363.8 L182.8,361.3 L182.1,359.9 L181.4,362.3 L180.7,358.6 L180.0,359.9 L179.3,355.8 L178.6,356.7 L177.9,358.0 L177.2,358.3 L176.5,361.2 L175.8,366.4 L175.1,367.1 L174.4,372.2 L173.7,372.5 L173.0,371.7 L172.3,369.2 L171.6,372.9 L170.9,370.3 L170.2,373.1 L169.5,375.6 L168.8,375.4 L168.1,375.4 L167.4,371.9 L166.7,373.5 L166.0,376.3 L165.3,371.9 L164.6,368.3 L163.9,368.1 L163.2,368.2 L162.5,369.7 L161.8,368.8 L161.1,378.6 L160.4,376.7 L159.7,380.7 L159.0,385.0 L158.3,388.4 L157.6,386.6 L156.9,390.0 L156.2,394.0 L155.5,390.6Z" fill="#ff0000" stroke="none" stroke-width="0" fill-opacity="0.2"/>
<path d="M155.5,243.4 L155.5,209.3 L156.2,209.1 L156.9,207.2 L157.6,205.7 L158.3,204.2 L159.0,203.1 L159.7,202.8 L160.4,202.0 L161.1,200.6 L161.8,200.5 L162.5,200.4 L163.2,199.7 L163.9,198.6 L164.6,198.0 L165.3,198.1 L166.0,197.3 L166.7,197.1 L167.4,197.1 L168.1,197.1 L168.8,197.4 L169.5,198.2 L170.2,198.7 L170.9,199.4 L171.6,200.8 L172.3,201.3 L173.0,200.8 L173.7,199.9 L174.4,199.2 L175.1,197.7 L175.8,195.3 L176.5,193.2 L177.2,191.6 L177.9,189.7 L178.6,190.4 L179.3,190.9 L180.0,191.0 L180.7,192.3 L181.4,193.0 L182.1,193.8 L182.8,195.2 L183.5,196.5 L184.2,197.1 L184.9,198.2 L185.6,198.4 L186.3,196.6 L187.0,195.2 L187.7,194.7 L188.4,192.9 L189.1,192.6 L189.8,193.1 L190.5,192.9 L191.2,193.9 L191.9,196.0 L192.6,197.1 L193.3,198.3 L194.0,199.5 L194.7,200.6 L195.4,202.3 L196.1,203.0 L196.8,204.4 L197.5,206.3 L198.2,208.2 L198.9,209.7 L199.6,211.3 L200.3,213.1 L201.0,214.2 L201.7,215.3 L202.4,215.2 L203.1,216.0 L203.8,218.5 L204.5,219.6 L205.2,220.7 L205.9,223.2 L206.6,224.2 L207.3,223.5 L208.0,221.7 L208.7,220.2 L209.4,219.2 L210.1,219.0 L210.8,219.2 L211.5,219.5 L212.2,220.9 L212.9,222.0 L213.6,223.7 L214.3,225.5 L215.0,227.8 L215.7,230.3 L216.4,233.1 L217.1,233.9 L217.8,233.3 L218.5,233.2 L219.2,233.0 L219.9,233.1 L220.6,233.2 L221.3,232.9 L222.0,232.2 L222.7,232.0 L223.4,232.3 L224.1,231.6 L224.8,232.6 L225.5,233.5 L226.2,234.1 L226.9,235.9 L227.6,236.0 L228.3,236.1 L229.0,237.8 L229.7,239.6 L230.4,240.8 L231.1,241.7 L231.8,243.4 L232.5,244.7 L233.2,243.9 L233.9,243.6 L234.6,244.1 L235.3,243.3 L236.0,242.3 L236.7,241.3 L237.4,240.6 L238.1,240.0 L238.8,238.6 L239.5,236.8 L240.2,234.9 L240.9,232.5 L241.6,230.2 L242.3,229.5 L243.0,227.2 L243.7,225.7 L244.4,225.3 L245.1,225.4 L245.8,225.9 L246.5,226.0 L247.2,226.5 L247.9,225.6 L248.6,227.5 L249.3,230.6 L250.0,230.7 L250.7,230.3 L251.4,230.6 L252.1,230.7 L252.8,231.7 L253.5,232.3 L254.2,232.2 L254.9,232.6 L255.6,232.9 L256.3,233.2 L257.0,234.5 L257.7,234.7 L258.4,234.3 L259.1,234.1 L259.8,233.2 L260.5,232.7 L261.2,232.5 L261.9,232.4 L262.6,232.3 L263.3,232.4 L264.0,232.2 L264.7,232.7 L265.4,236.2 L266.1,238.3 L266.8,239.2 L267.5,241.8 L268.2,245.3 L268.9,247.6 L269.6,249.9 L270.3,253.3 L271.0,255.6 L271.7,259.3 L272.4,260.9 L273.1,259.2 L273.8,257.5 L274.5,256.2 L275.2,254.9 L275.9,253.3 L276.6,251.6 L277.3,251.0 L278.0,252.6 L278.7,253.4 L279.4,253.5 L280.1,254.7 L280.8,255.6 L281.5,256.6 L282.2,258.3 L282.9,257.7 L283.6,256.2 L284.3,255.2 L285.0,254.6 L285.7,253.7 L286.4,252.2 L287.1,251.7 L287.8,251.1 L288.5,251.9 L289.2,253.1 L289.9,252.7 L290.6,254.4 L291.3,256.6 L292.0,258.6 L292.7,260.4 L293.4,261.6 L294.1,262.8 L294.8,263.4 L295.5,264.1 L296.2,266.3 L296.9,267.7 L297.6,269.7 L298.3,271.3 L299.0,271.4 L299.7,271.4 L300.4,273.7 L301.1,274.9 L301.8,274.8 L302.5,275.7 L303.2,275.2 L303.9,272.7 L304.6,270.7 L305.3,268.7 L306.0,265.6 L306.7,262.6 L307.4,259.5 L308.1,256.7 L308.8,255.6 L309.5,254.4 L310.2,252.4 L310.9,251.6 L311.6,250.5 L312.3,248.3 L313.0,245.8 L313.7,243.3 L314.4,241.2 L315.1,239.0 L315.8,237.4 L316.5,236.7 L317.2,236.4 L317.9,235.0 L318.6,233.5 L319.3,230.5 L320.0,227.8 L320.7,226.1 L321.4,224.4 L322.1,222.5 L322.8,221.1 L323.5,220.8 L324.2,219.7 L324.9,218.7 L325.6,217.9 L326.3,217.7 L327.0,217.0 L327.7,214.3 L328.4,212.7 L329.1,211.5 L329.8,209.1 L330.5,208.4 L331.2,209.2 L331.9,208.2 L332.6,205.8 L333.3,204.1 L334.0,203.9 L334.7,203.7 L335.4,203.8 L336.1,204.3 L336.8,204.9 L337.5,205.9 L338.2,206.7 L338.9,206.6 L339.6,205.7 L340.3,205.6 L341.0,205.5 L341.7,205.5 L342.4,205.0 L343.1,204.9 L343.8,206.2 L344.5,206.5 L345.2,208.1 L345.9,210.1 L346.6,209.9 L347.3,210.4 L348.0,210.5 L348.7,208.3 L349.4,205.5 L350.1,203.3 L350.8,199.8 L351.5,196.0 L352.2,192.5 L352.9,189.8 L353.6,187.4 L354.3,184.5 L355.0,180.9 L355.7,178.3 L356.4,175.8 L357.1,172.7 L357.8,169.8 L358.5,168.4 L359.2,167.4 L359.9,164.8 L360.6,162.4 L361.3,159.7 L362.0,156.9 L362.7,154.1 L363.4,151.3 L364.1,148.8 L364.8,147.0 L365.5,144.6 L366.2,141.2 L366.9,139.0 L367.6,139.0 L368.3,140.2 L369.0,140.9 L369.7,140.5 L370.4,140.3 L371.1,140.1 L371.8,140.6 L372.5,141.8 L373.2,142.0 L373.9,141.8 L374.6,142.3 L375.3,142.0 L376.0,140.4 L376.7,139.2 L377.4,138.6 L378.1,138.0 L378.8,137.1 L379.5,135.9 L380.2,135.9 L380.9,134.5 L381.6,134.2 L382.3,135.6 L383.0,137.0 L383.7,137.6 L384.4,139.0 L385.1,141.5 L385.8,140.9 L386.5,139.4 L387.2,138.6 L387.9,138.3 L388.6,137.7 L389.3,136.6 L390.0,137.2 L390.7,138.9 L391.4,140.4 L392.1,143.0 L392.8,144.3 L393.5,146.4 L394.2,149.7 L394.9,151.9 L395.6,153.3 L396.3,155.7 L397.0,160.9 L397.7,167.0 L398.4,172.3 L399.1,174.9 L399.8,174.4 L400.5,174.8 L401.2,175.5 L401.9,175.9 L402.6,176.1 L403.3,176.3 L404.0,175.8 L404.7,175.4 L405.4,175.4 L406.1,175.1 L406.8,175.7 L407.5,178.0 L408.2,179.4 L408.9,180.0 L409.6,180.4 L410.3,182.1 L411.0,183.6 L411.7,184.5 L412.4,187.3 L413.1,189.9 L413.8,191.1 L414.5,190.9 L415.2,191.4 L415.9,192.4 L416.6,193.5 L417.3,195.3 L418.0,195.7 L418.7,196.8 L419.4,198.8 L420.1,201.9 L420.8,205.0 L421.5,207.2 L422.2,210.0 L422.9,212.7 L423.6,209.6 L424.3,206.8 L425.0,203.2 L425.7,201.9 L426.4,201.1 L427.1,200.6 L427.8,199.6 L428.5,198.9 L429.2,197.9 L429.9,196.9 L430.6,197.7 L431.3,198.1 L432.0,197.6 L432.7,198.0 L433.4,196.9 L434.1,196.0 L434.8,196.6 L435.5,196.5 L436.2,194.6 L436.9,193.3 L437.6,192.3 L438.3,190.8 L439.0,189.7 L439.7,190.0 L440.4,190.1 L441.1,190.2 L441.8,193.6 L442.5,197.7 L443.2,199.3 L443.9,199.3 L444.6,199.0 L445.3,199.0 L446.0,200.7 L446.7,202.5 L447.4,204.0 L448.1,205.6 L448.8,206.9 L449.5,208.3 L450.2,209.9 L450.9,211.3 L451.6,210.8 L452.3,210.6 L453.0,211.2 L453.7,210.0 L454.4,209.5 L455.1,209.6 L455.8,209.6 L456.5,210.2 L457.2,210.4 L457.9,211.1 L458.6,211.7 L459.3,211.8 L460.0,212.9 L460.7,214.5 L461.4,214.3 L462.1,213.8 L462.8,214.0 L463.5,213.4 L464.2,213.9 L464.9,213.9 L465.6,214.0 L466.3,213.7 L467.0,213.9 L467.7,216.9 L468.4,219.2 L469.1,222.4 L469.8,224.8 L470.5,226.0 L471.2,227.2 L471.9,227.7 L472.6,228.8 L473.3,230.5 L474.0,232.7 L474.7,234.8 L475.4,236.8 L476.1,238.9 L476.8,241.6 L477.5,244.3 L478.2,246.2 L478.9,250.0 L479.6,254.6 L480.3,257.3 L481.0,259.6 L481.7,263.2 L482.4,266.5 L483.1,271.3 L483.8,276.1 L484.5,280.3 L485.2,284.6 L485.9,288.1 L486.6,291.5 L487.3,294.9 L488.0,296.6 L488.7,298.4 L489.4,302.0 L490.1,305.0 L490.8,306.5 L491.5,305.3 L492.2,304.1 L492.9,302.8 L493.6,302.3 L494.3,300.9 L495.0,301.0 L495.7,302.6 L496.4,304.0 L497.1,304.2 L497.8,304.6 L498.5,303.3 L499.2,301.8 L499.9,301.6 L500.6,302.6 L501.3,301.4 L502.0,300.8 L502.7,301.4 L503.4,301.5 L504.1,301.3 L504.8,300.5 L505.5,299.7 L506.2,298.2 L506.9,298.2 L507.6,297.8 L508.3,295.4 L509.0,292.8 L509.7,290.2 L510.4,288.5 L511.1,286.3 L511.8,282.8 L512.5,279.2 L513.2,275.1 L513.9,271.4 L514.6,269.0 L515.3,267.1 L516.0,265.3 L516.7,262.1 L517.4,258.4 L518.1,255.9 L518.8,254.3 L519.5,252.6 L520.2,251.5 L520.9,249.9 L521.6,248.8 L522.3,245.5 L523.0,241.5 L523.7,237.5 L524.4,233.2 L525.1,229.0 L525.8,228.8 L526.5,228.6 L527.2,228.4 L527.9,228.2 L528.6,227.1 L529.3,226.7 L530.0,226.2 L530.7,224.9 L531.4,224.3 L532.1,222.6 L532.8,221.7 L533.5,221.7 L534.2,220.5 L534.9,219.2 L535.6,218.2 L536.3,217.2 L537.0,216.6 L537.7,216.1 L538.4,215.5 L539.1,214.5 L539.8,214.7 L540.5,216.3 L541.2,217.2 L541.9,218.0 L542.6,219.4 L543.3,219.9 L544.0,220.7 L544.7,222.4 L545.4,223.1 L546.1,224.0 L546.8,224.4 L547.5,224.9 L548.2,228.2 L548.9,232.0 L549.6,235.3 L550.3,237.9 L551.0,240.3 L551.7,243.4 L552.4,245.5 L553.1,246.9 L553.8,247.6 L554.5,249.8 L555.2,252.9 L555.9,253.9 L556.6,256.6 L557.3,259.6 L558.0,261.4 L558.7,264.6 L559.4,268.5 L560.1,271.1 L560.8,267.8 L561.5,266.0 L562.2,263.8 L562.9,260.2 L563.6,257.3 L564.3,254.7 L565.0,252.4 L565.7,251.1 L566.4,250.1 L567.1,250.4 L567.8,251.2 L568.5,251.3 L569.2,251.4 L569.9,252.5 L570.6,253.3 L571.3,253.3 L572.0,252.2 L572.7,250.4 L573.4,249.3 L574.1,247.9 L574.8,245.9 L575.5,245.5 L576.2,245.7 L576.9,245.4 L577.6,244.6 L578.3,244.2 L579.0,244.5 L579.7,244.2 L580.4,244.0 L581.1,245.1 L581.8,247.4 L582.5,248.7 L583.2,248.9 L583.9,249.6 L584.6,251.1 L585.3,248.7 L586.0,246.6 L586.7,246.3 L587.4,244.9 L588.1,243.6 L588.8,242.1 L589.5,241.3 L590.2,241.0 L590.9,241.2 L591.6,238.6 L592.3,236.0 L593.0,234.4 L593.7,233.0 L594.4,230.2 L595.1,226.1 L595.8,223.0 L596.5,220.3 L597.2,217.0 L597.9,213.8 L598.6,210.2 L599.3,207.1 L600.0,204.9 L600.7,202.9 L601.4,201.0 L602.1,197.6 L602.8,194.2 L603.5,192.6 L604.2,190.9 L604.9,189.2 L605.6,189.0 L606.3,189.0 L607.0,187.9 L607.7,186.6 L608.4,186.0 L609.1,185.2 L609.8,184.5 L610.5,183.5 L611.2,181.9 L611.9,181.7 L612.6,181.1 L613.3,180.6 L614.0,180.3 L614.7,178.9 L615.4,177.8 L616.1,176.9 L616.8,176.1 L617.5,174.8 L618.2,173.0 L618.9,172.7 L619.6,174.2 L620.3,175.3 L621.0,175.0 L621.7,174.9 L622.4,176.3 L623.1,176.8 L623.8,177.4 L624.5,179.2 L625.2,181.6 L625.9,182.9 L626.6,180.6 L627.3,178.9 L628.0,178.5 L628.7,177.4 L629.4,175.7 L630.1,174.8 L630.8,174.7 L631.5,174.1 L632.2,173.6 L632.9,172.9 L633.6,172.7 L634.3,174.6 L635.0,177.2 L635.7,179.5 L636.4,180.3 L637.1,180.9 L637.8,181.9 L638.5,183.2 L639.2,183.4 L639.9,183.4 L640.6,184.8 L641.3,187.6 L642.0,189.9 L642.7,190.4 L643.4,192.0 L644.1,194.7 L644.8,196.0 L645.5,196.6 L646.2,199.0 L646.9,201.1 L647.6,201.2 L648.3,200.4 L649.0,200.6 L649.7,201.2 L650.4,200.3 L651.1,199.5 L651.8,199.2 L652.5,200.5 L653.2,202.6 L653.9,203.7 L654.6,205.4 L655.3,206.6 L656.0,207.1 L656.7,209.0 L657.4,211.0 L658.1,212.2 L658.8,213.9 L659.5,215.4 L660.2,216.3 L660.9,218.5 L661.6,221.2 L662.3,222.8 L663.0,224.8 L663.7,223.4 L664.4,220.8 L665.1,219.4 L665.8,218.8 L666.5,218.0 L667.2,217.6 L667.9,215.9 L668.6,215.0 L669.3,214.1 L670.0,213.1 L670.7,212.6 L671.4,211.1 L672.1,209.6 L672.8,208.0 L673.5,206.3 L674.2,204.2 L674.9,203.0 L675.6,203.9 L676.3,204.9 L677.0,204.9 L677.7,204.5 L678.4,202.7 L679.1,201.2 L679.8,199.8 L680.5,197.4 L681.2,195.5 L681.9,193.8 L682.6,194.4 L683.3,196.1 L684.0,197.6 L684.7,199.2 L685.4,202.4 L686.1,204.3 L686.8,205.2 L687.5,207.6 L688.2,210.1 L688.9,211.5 L689.6,213.2 L690.3,216.2 L691.0,214.8 L691.7,212.6 L692.4,211.4 L693.1,209.2 L693.8,206.9 L694.5,207.6 L695.2,208.9 L695.9,209.2 L696.6,210.3 L697.3,213.0 L698.0,215.7 L698.7,218.3 L699.4,220.2 L700.1,218.5 L700.8,217.5 L701.5,217.4 L702.2,216.1 L702.9,215.7 L703.6,214.9 L704.3,212.9 L705.0,212.1 L705.7,211.3 L706.4,210.2 L707.1,209.9 L707.8,209.3 L708.5,208.8 L709.2,207.5 L709.9,205.2 L710.6,204.0 L711.3,203.3 L712.0,202.2 L712.7,201.8 L713.4,201.2 L714.1,198.1 L714.8,196.2 L715.5,194.4 L716.2,191.7 L716.9,189.2 L717.6,186.8 L718.3,184.8 L719.0,183.2 L719.7,181.5 L720.4,179.4 L721.1,177.5 L721.8,176.0 L722.5,175.2 L723.2,175.2 L723.9,174.9 L724.6,175.7 L725.3,177.7 L726.0,179.7 L726.7,179.9 L727.4,180.5 L728.1,183.7 L728.8,187.3 L729.5,189.9 L730.2,192.8 L730.9,195.6 L731.6,198.6 L732.3,201.2 L733.0,203.6 L733.7,207.1 L734.4,210.9 L735.1,212.7 L735.8,213.3 L736.5,213.5 L737.2,214.2 L737.9,214.2 L738.6,213.7 L739.3,214.3 L740.0,214.3 L740.7,214.0 L741.4,214.4 L742.1,214.1 L742.8,213.8 L743.5,214.8 L744.2,215.6 L744.9,215.9 L745.6,214.2 L746.3,212.4 L747.0,211.9 L747.7,212.0 L748.4,211.9 L749.1,211.6 L749.8,212.2 L750.5,212.6 L751.2,212.1 L751.9,212.3 L752.6,214.4 L753.3,216.1 L754.0,217.1 L754.7,218.0 L755.4,219.0 L756.1,220.1 L756.8,220.7 L757.5,223.1 L758.2,224.6 L758.9,224.3 L759.6,225.0 L760.3,226.4 L761.0,228.0 L761.7,228.7 L762.4,228.7 L763.1,230.0 L763.8,232.1 L764.5,233.5 L765.2,235.4 L765.9,236.7 L766.6,237.7 L767.3,238.4 L768.0,239.7 L768.7,241.9 L769.4,241.4 L770.1,240.1 L770.8,239.3 L771.5,239.6 L772.2,238.6 L772.9,238.3 L773.6,241.2 L774.3,243.8 L775.0,245.6 L775.7,247.6 L776.4,249.9 L777.1,251.0 L777.8,251.1 L778.5,250.7 L779.2,250.9 L779.9,251.9 L780.6,251.6 L781.3,250.5 L782.0,250.3 L782.7,249.0 L783.4,247.9 L784.1,246.9 L784.8,246.4 L785.5,246.7 L786.2,245.8 L786.9,243.4 L787.6,241.6 L788.3,240.5 L789.0,238.9 L789.7,239.1 L790.4,238.2 L791.1,237.7 L791.8,238.0 L792.5,237.9 L793.2,237.7 L793.9,236.5 L794.6,236.2 L795.3,236.6 L796.0,236.1 L796.7,234.5 L797.4,232.7 L798.1,230.0 L798.8,229.1 L799.5,228.9 L800.2,227.1 L800.9,225.4 L801.6,224.4 L802.3,222.7 L803.0,220.6 L803.7,219.3 L804.4,218.7 L805.1,217.4 L805.8,217.7 L806.5,218.3 L807.2,217.5 L807.9,218.7 L808.6,219.7 L809.3,219.4 L810.0,220.2 L810.7,222.0 L811.4,222.0 L812.1,219.3 L812.8,216.8 L813.5,216.3 L814.2,215.6 L814.9,215.1 L815.6,215.1 L816.3,214.5 L817.0,214.0 L817.7,214.0 L818.4,213.9 L819.1,213.4 L819.8,212.9 L820.5,214.0 L821.2,214.9 L821.9,215.3 L822.6,216.3 L823.3,216.7 L824.0,217.3 L824.7,216.6 L825.4,216.0 L826.1,216.2 L826.8,216.7 L827.5,217.6 L828.2,217.7 L828.9,218.2 L829.6,221.2 L830.3,223.7 L831.0,225.5 L831.7,226.8 L832.4,228.5 L833.1,230.4 L833.8,231.1 L834.5,232.2 L835.2,232.1 L835.9,232.9 L836.6,234.4 L837.3,235.3 L838.0,236.0 L838.7,235.5 L839.4,236.1 L840.1,236.5 L840.8,236.2 L841.5,236.3 L842.2,237.1 L842.9,238.4 L843.6,239.4 L844.3,239.7 L845.0,240.3 L845.7,240.9 L846.4,241.7 L847.1,243.6 L847.8,245.9 L848.5,247.3 L849.2,246.9 L849.9,246.4 L850.6,246.0 L851.3,245.1 L852.0,245.0 L852.7,245.2 L853.4,245.0 L854.1,245.0 L854.8,245.0 L855.5,245.7 L856.2,245.5 L856.9,247.9 L857.6,250.2 L858.3,252.0" fill="none" stroke="#4651a3" stroke-width="2.8" stroke-linejoin="round" stroke-linecap="butt"/>
<path d="M155.5,255.8 L155.5,234.8 L156.2,234.8 L156.9,234.2 L157.6,233.3 L158.3,232.4 L159.0,230.9 L159.7,230.2 L160.4,229.7 L161.1,229.6 L161.8,229.8 L162.5,229.0 L163.2,228.9 L163.9,229.0 L164.6,228.1 L165.3,226.9 L166.0,226.7 L166.7,226.5 L167.4,226.9 L168.1,228.7 L168.8,229.0 L169.5,229.0 L170.2,229.2 L170.9,229.8 L171.6,231.2 L172.3,232.2 L173.0,233.6 L173.7,233.8 L174.4,232.0 L175.1,229.6 L175.8,227.4 L176.5,225.9 L177.2,224.5 L177.9,222.9 L178.6,222.0 L179.3,223.0 L180.0,222.8 L180.7,222.6 L181.4,224.3 L182.1,225.3 L182.8,225.8 L183.5,226.9 L184.2,227.8 L184.9,229.1 L185.6,229.6 L186.3,228.7 L187.0,226.0 L187.7,223.8 L188.4,222.8 L189.1,222.3 L189.8,220.9 L190.5,221.8 L191.2,224.0 L191.9,226.2 L192.6,227.2 L193.3,227.9 L194.0,228.6 L194.7,229.9 L195.4,230.8 L196.1,232.6 L196.8,234.4 L197.5,235.5 L198.2,237.9 L198.9,239.6 L199.6,239.8 L200.3,241.1 L201.0,243.4 L201.7,244.2 L202.4,244.9 L203.1,246.7 L203.8,247.9 L204.5,250.1 L205.2,250.8 L205.9,250.3 L206.6,251.7 L207.3,252.6 L208.0,252.5 L208.7,251.8 L209.4,250.8 L210.1,250.3 L210.8,249.5 L211.5,249.6 L212.2,250.7 L212.9,251.3 L213.6,252.7 L214.3,253.4 L215.0,254.2 L215.7,256.1 L216.4,257.7 L217.1,258.2 L217.8,259.5 L218.5,261.1 L219.2,260.1 L219.9,259.7 L220.6,261.8 L221.3,262.4 L222.0,261.9 L222.7,262.0 L223.4,262.0 L224.1,262.3 L224.8,262.7 L225.5,263.4 L226.2,263.8 L226.9,263.7 L227.6,263.7 L228.3,264.3 L229.0,265.0 L229.7,265.5 L230.4,266.9 L231.1,267.7 L231.8,268.1 L232.5,268.4 L233.2,268.1 L233.9,267.7 L234.6,267.4 L235.3,267.0 L236.0,265.2 L236.7,263.9 L237.4,262.9 L238.1,260.5 L238.8,258.7 L239.5,257.1 L240.2,255.4 L240.9,253.5 L241.6,252.0 L242.3,250.1 L243.0,246.8 L243.7,244.9 L244.4,244.4 L245.1,244.6 L245.8,245.9 L246.5,246.2 L247.2,245.2 L247.9,244.6 L248.6,247.8 L249.3,250.7 L250.0,252.4 L250.7,255.2 L251.4,256.9 L252.1,257.5 L252.8,257.0 L253.5,257.1 L254.2,257.8 L254.9,257.8 L255.6,256.7 L256.3,256.6 L257.0,256.2 L257.7,255.7 L258.4,255.7 L259.1,255.5 L259.8,254.0 L260.5,251.9 L261.2,251.0 L261.9,250.1 L262.6,249.5 L263.3,247.9 L264.0,246.7 L264.7,248.0 L265.4,249.7 L266.1,252.4 L266.8,254.7 L267.5,256.4 L268.2,258.5 L268.9,261.2 L269.6,263.9 L270.3,265.9 L271.0,267.9 L271.7,268.7 L272.4,268.5 L273.1,270.0 L273.8,269.7 L274.5,269.1 L275.2,269.5 L275.9,268.3 L276.6,266.8 L277.3,265.8 L278.0,265.0 L278.7,264.5 L279.4,263.4 L280.1,263.1 L280.8,263.2 L281.5,262.8 L282.2,263.3 L282.9,263.9 L283.6,264.3 L284.3,264.0 L285.0,264.2 L285.7,264.4 L286.4,263.9 L287.1,263.4 L287.8,262.3 L288.5,261.1 L289.2,262.4 L289.9,262.9 L290.6,263.6 L291.3,264.8 L292.0,265.5 L292.7,266.1 L293.4,267.8 L294.1,270.5 L294.8,273.2 L295.5,275.6 L296.2,277.1 L296.9,278.5 L297.6,280.1 L298.3,282.3 L299.0,284.4 L299.7,286.4 L300.4,289.1 L301.1,290.0 L301.8,288.4 L302.5,287.9 L303.2,286.6 L303.9,283.6 L304.6,282.0 L305.3,279.8 L306.0,275.8 L306.7,273.2 L307.4,271.5 L308.1,268.6 L308.8,265.4 L309.5,263.1 L310.2,261.2 L310.9,259.2 L311.6,257.3 L312.3,255.0 L313.0,252.5 L313.7,250.0 L314.4,247.2 L315.1,243.4 L315.8,240.5 L316.5,239.3 L317.2,237.4 L317.9,235.9 L318.6,234.1 L319.3,231.5 L320.0,230.5 L320.7,229.3 L321.4,228.1 L322.1,227.5 L322.8,227.1 L323.5,226.2 L324.2,224.0 L324.9,223.6 L325.6,224.4 L326.3,224.3 L327.0,224.6 L327.7,225.5 L328.4,225.1 L329.1,223.7 L329.8,224.2 L330.5,224.0 L331.2,222.1 L331.9,221.9 L332.6,222.1 L333.3,221.5 L334.0,221.9 L334.7,222.3 L335.4,221.9 L336.1,222.5 L336.8,223.5 L337.5,223.4 L338.2,223.5 L338.9,224.0 L339.6,225.2 L340.3,225.2 L341.0,224.9 L341.7,225.4 L342.4,225.3 L343.1,226.4 L343.8,227.6 L344.5,228.6 L345.2,229.2 L345.9,229.2 L346.6,229.6 L347.3,230.9 L348.0,231.2 L348.7,231.1 L349.4,230.6 L350.1,228.4 L350.8,226.5 L351.5,223.7 L352.2,220.1 L352.9,217.1 L353.6,214.7 L354.3,213.5 L355.0,211.4 L355.7,209.0 L356.4,207.3 L357.1,205.2 L357.8,203.1 L358.5,200.1 L359.2,197.3 L359.9,195.1 L360.6,193.0 L361.3,190.4 L362.0,188.0 L362.7,186.6 L363.4,183.6 L364.1,180.7 L364.8,178.8 L365.5,176.4 L366.2,174.8 L366.9,173.2 L367.6,173.6 L368.3,173.3 L369.0,173.8 L369.7,174.5 L370.4,174.7 L371.1,175.4 L371.8,174.7 L372.5,174.9 L373.2,176.6 L373.9,178.2 L374.6,178.8 L375.3,178.1 L376.0,176.7 L376.7,176.5 L377.4,177.1 L378.1,175.9 L378.8,174.3 L379.5,172.9 L380.2,172.7 L380.9,173.8 L381.6,174.5 L382.3,175.2 L383.0,176.4 L383.7,176.7 L384.4,178.3 L385.1,179.5 L385.8,179.1 L386.5,179.9 L387.2,180.4 L387.9,180.6 L388.6,180.5 L389.3,180.1 L390.0,179.5 L390.7,182.2 L391.4,184.7 L392.1,186.5 L392.8,188.6 L393.5,191.3 L394.2,193.4 L394.9,195.6 L395.6,198.3 L396.3,201.5 L397.0,204.9 L397.7,208.2 L398.4,209.4 L399.1,208.5 L399.8,209.7 L400.5,210.1 L401.2,209.8 L401.9,210.8 L402.6,211.0 L403.3,209.8 L404.0,209.3 L404.7,209.8 L405.4,210.3 L406.1,209.5 L406.8,209.6 L407.5,211.9 L408.2,214.0 L408.9,215.0 L409.6,216.5 L410.3,218.5 L411.0,219.0 L411.7,220.1 L412.4,221.7 L413.1,221.8 L413.8,220.9 L414.5,221.2 L415.2,222.6 L415.9,223.6 L416.6,222.6 L417.3,224.3 L418.0,226.3 L418.7,227.1 L419.4,229.7 L420.1,231.2 L420.8,232.3 L421.5,233.0 L422.2,234.8 L422.9,236.5 L423.6,232.8 L424.3,231.7 L425.0,230.5 L425.7,227.6 L426.4,224.5 L427.1,223.3 L427.8,223.3 L428.5,222.3 L429.2,220.8 L429.9,220.1 L430.6,220.5 L431.3,220.5 L432.0,220.3 L432.7,221.8 L433.4,223.1 L434.1,224.1 L434.8,225.5 L435.5,226.7 L436.2,226.2 L436.9,224.3 L437.6,223.3 L438.3,222.1 L439.0,220.9 L439.7,221.0 L440.4,220.1 L441.1,219.1 L441.8,220.0 L442.5,222.4 L443.2,225.9 L443.9,227.8 L444.6,228.8 L445.3,229.9 L446.0,230.4 L446.7,231.4 L447.4,233.6 L448.1,236.3 L448.8,237.2 L449.5,237.2 L450.2,238.5 L450.9,239.9 L451.6,239.4 L452.3,238.6 L453.0,237.4 L453.7,236.5 L454.4,235.2 L455.1,233.8 L455.8,232.3 L456.5,233.6 L457.2,235.1 L457.9,236.6 L458.6,238.2 L459.3,238.6 L460.0,239.6 L460.7,239.3 L461.4,239.1 L462.1,239.7 L462.8,240.7 L463.5,242.1 L464.2,242.5 L464.9,242.0 L465.6,242.8 L466.3,243.3 L467.0,244.4 L467.7,245.8 L468.4,245.4 L469.1,248.6 L469.8,252.3 L470.5,252.6 L471.2,253.9 L471.9,256.1 L472.6,258.4 L473.3,260.6 L474.0,263.1 L474.7,266.7 L475.4,269.9 L476.1,273.8 L476.8,277.9 L477.5,282.6 L478.2,286.4 L478.9,289.8 L479.6,294.2 L480.3,298.8 L481.0,305.4 L481.7,310.8 L482.4,315.5 L483.1,320.8 L483.8,325.2 L484.5,330.1 L485.2,334.6 L485.9,338.8 L486.6,343.5 L487.3,348.2 L488.0,351.8 L488.7,354.0 L489.4,357.0 L490.1,360.0 L490.8,363.0 L491.5,366.8 L492.2,369.2 L492.9,366.0 L493.6,363.5 L494.3,361.2 L495.0,360.4 L495.7,359.8 L496.4,359.5 L497.1,359.2 L497.8,359.2 L498.5,358.7 L499.2,357.7 L499.9,356.9 L500.6,357.2 L501.3,357.4 L502.0,357.0 L502.7,356.7 L503.4,356.1 L504.1,355.2 L504.8,354.6 L505.5,355.4 L506.2,354.3 L506.9,353.3 L507.6,354.2 L508.3,353.5 L509.0,352.8 L509.7,351.2 L510.4,347.5 L511.1,344.0 L511.8,340.7 L512.5,336.9 L513.2,333.4 L513.9,330.1 L514.6,326.8 L515.3,323.5 L516.0,319.3 L516.7,316.5 L517.4,314.0 L518.1,310.0 L518.8,305.9 L519.5,302.0 L520.2,298.9 L520.9,296.4 L521.6,292.9 L522.3,290.5 L523.0,289.9 L523.7,286.2 L524.4,282.8 L525.1,283.2 L525.8,282.1 L526.5,282.0 L527.2,280.9 L527.9,279.9 L528.6,280.3 L529.3,279.0 L530.0,277.1 L530.7,276.1 L531.4,274.9 L532.1,274.4 L532.8,273.1 L533.5,271.7 L534.2,270.4 L534.9,269.1 L535.6,268.4 L536.3,265.9 L537.0,264.8 L537.7,264.2 L538.4,262.9 L539.1,262.8 L539.8,261.4 L540.5,260.1 L541.2,262.0 L541.9,263.4 L542.6,264.3 L543.3,264.4 L544.0,262.7 L544.7,261.8 L545.4,262.0 L546.1,263.4 L546.8,264.9 L547.5,266.4 L548.2,268.4 L548.9,270.0 L549.6,273.1 L550.3,275.7 L551.0,276.8 L551.7,278.9 L552.4,282.0 L553.1,284.8 L553.8,286.4 L554.5,287.7 L555.2,289.6 L555.9,291.1 L556.6,292.4 L557.3,295.3 L558.0,297.7 L558.7,299.7 L559.4,302.5 L560.1,304.4 L560.8,301.8 L561.5,300.4 L562.2,298.5 L562.9,295.4 L563.6,293.1 L564.3,291.2 L565.0,288.3 L565.7,285.9 L566.4,284.7 L567.1,284.3 L567.8,284.8 L568.5,286.0 L569.2,286.4 L569.9,286.3 L570.6,286.8 L571.3,287.4 L572.0,286.5 L572.7,284.9 L573.4,284.1 L574.1,282.9 L574.8,281.5 L575.5,281.4 L576.2,280.7 L576.9,279.8 L577.6,280.4 L578.3,280.4 L579.0,279.7 L579.7,279.9 L580.4,280.3 L581.1,279.0 L581.8,277.9 L582.5,278.1 L583.2,277.6 L583.9,277.3 L584.6,277.1 L585.3,276.6 L586.0,275.4 L586.7,274.1 L587.4,273.5 L588.1,272.0 L588.8,270.7 L589.5,269.2 L590.2,266.8 L590.9,263.2 L591.6,260.5 L592.3,257.8 L593.0,255.3 L593.7,252.4 L594.4,248.2 L595.1,244.0 L595.8,241.1 L596.5,237.2 L597.2,233.3 L597.9,230.8 L598.6,228.1 L599.3,226.1 L600.0,225.0 L600.7,222.8 L601.4,219.4 L602.1,217.1 L602.8,215.5 L603.5,215.5 L604.2,215.1 L604.9,215.2 L605.6,214.7 L606.3,213.9 L607.0,213.4 L607.7,212.5 L608.4,210.7 L609.1,208.6 L609.8,207.4 L610.5,205.6 L611.2,204.0 L611.9,204.4 L612.6,205.0 L613.3,204.4 L614.0,204.3 L614.7,204.3 L615.4,204.5 L616.1,204.0 L616.8,203.0 L617.5,203.1 L618.2,203.0 L618.9,202.2 L619.6,201.3 L620.3,202.3 L621.0,204.1 L621.7,206.4 L622.4,207.6 L623.1,209.2 L623.8,211.1 L624.5,211.3 L625.2,212.4 L625.9,213.0 L626.6,211.0 L627.3,210.1 L628.0,209.7 L628.7,209.2 L629.4,208.2 L630.1,207.5 L630.8,206.5 L631.5,206.3 L632.2,206.3 L632.9,205.5 L633.6,205.5 L634.3,205.4 L635.0,206.3 L635.7,207.6 L636.4,209.5 L637.1,211.4 L637.8,212.9 L638.5,213.8 L639.2,215.1 L639.9,217.0 L640.6,219.4 L641.3,220.8 L642.0,223.0 L642.7,225.5 L643.4,226.4 L644.1,228.6 L644.8,231.1 L645.5,232.9 L646.2,234.7 L646.9,236.4 L647.6,236.8 L648.3,236.7 L649.0,235.6 L649.7,235.1 L650.4,234.6 L651.1,234.6 L651.8,235.1 L652.5,235.9 L653.2,237.5 L653.9,238.0 L654.6,238.9 L655.3,240.5 L656.0,241.3 L656.7,241.2 L657.4,242.0 L658.1,244.1 L658.8,244.8 L659.5,244.4 L660.2,243.6 L660.9,243.7 L661.6,244.3 L662.3,244.3 L663.0,243.6 L663.7,242.7 L664.4,242.6 L665.1,241.8 L665.8,240.7 L666.5,239.3 L667.2,239.6 L667.9,238.2 L668.6,235.5 L669.3,234.4 L670.0,232.8 L670.7,232.0 L671.4,231.9 L672.1,230.0 L672.8,227.4 L673.5,227.0 L674.2,227.1 L674.9,225.8 L675.6,224.7 L676.3,222.8 L677.0,221.1 L677.7,219.8 L678.4,218.1 L679.1,218.0 L679.8,217.1 L680.5,216.5 L681.2,215.7 L681.9,213.4 L682.6,214.3 L683.3,216.7 L684.0,218.0 L684.7,218.1 L685.4,219.5 L686.1,221.9 L686.8,223.8 L687.5,225.2 L688.2,228.2 L688.9,230.9 L689.6,232.3 L690.3,234.4 L691.0,232.6 L691.7,230.7 L692.4,228.8 L693.1,226.9 L693.8,225.0 L694.5,225.0 L695.2,225.9 L695.9,228.0 L696.6,229.1 L697.3,230.8 L698.0,232.1 L698.7,233.0 L699.4,235.3 L700.1,236.5 L700.8,235.2 L701.5,236.1 L702.2,236.7 L702.9,235.7 L703.6,234.0 L704.3,232.2 L705.0,230.9 L705.7,229.9 L706.4,229.1 L707.1,226.9 L707.8,225.7 L708.5,224.9 L709.2,223.1 L709.9,222.8 L710.6,222.2 L711.3,220.2 L712.0,220.0 L712.7,219.7 L713.4,218.9 L714.1,219.2 L714.8,219.5 L715.5,217.9 L716.2,215.8 L716.9,213.9 L717.6,212.0 L718.3,210.2 L719.0,207.7 L719.7,208.0 L720.4,207.8 L721.1,206.6 L721.8,207.0 L722.5,206.6 L723.2,204.9 L723.9,206.0 L724.6,206.9 L725.3,208.1 L726.0,210.1 L726.7,210.5 L727.4,210.8 L728.1,213.5 L728.8,216.1 L729.5,218.0 L730.2,220.6 L730.9,222.5 L731.6,224.0 L732.3,226.5 L733.0,228.4 L733.7,230.6 L734.4,232.1 L735.1,233.6 L735.8,234.0 L736.5,233.5 L737.2,233.0 L737.9,232.8 L738.6,233.8 L739.3,234.7 L740.0,235.4 L740.7,237.0 L741.4,238.3 L742.1,239.3 L742.8,239.0 L743.5,237.5 L744.2,237.7 L744.9,238.0 L745.6,237.6 L746.3,237.2 L747.0,237.0 L747.7,237.2 L748.4,236.9 L749.1,236.7 L749.8,236.4 L750.5,236.2 L751.2,236.7 L751.9,237.8 L752.6,238.2 L753.3,239.3 L754.0,240.3 L754.7,240.8 L755.4,241.6 L756.1,241.8 L756.8,243.7 L757.5,244.8 L758.2,244.4 L758.9,245.3 L759.6,246.8 L760.3,249.0 L761.0,250.3 L761.7,250.8 L762.4,251.6 L763.1,252.5 L763.8,254.5 L764.5,256.3 L765.2,256.9 L765.9,257.7 L766.6,259.3 L767.3,259.8 L768.0,260.7 L768.7,262.1 L769.4,262.2 L770.1,263.6 L770.8,265.8 L771.5,266.5 L772.2,266.7 L772.9,268.4 L773.6,269.8 L774.3,270.3 L775.0,271.5 L775.7,271.6 L776.4,272.0 L777.1,272.8 L777.8,273.2 L778.5,273.8 L779.2,274.3 L779.9,275.2 L780.6,275.8 L781.3,275.7 L782.0,276.0 L782.7,275.6 L783.4,274.2 L784.1,272.6 L784.8,271.8 L785.5,270.6 L786.2,269.4 L786.9,268.3 L787.6,268.0 L788.3,267.6 L789.0,265.8 L789.7,264.1 L790.4,263.6 L791.1,262.4 L791.8,260.0 L792.5,258.6 L793.2,257.4 L793.9,256.5 L794.6,254.9 L795.3,253.6 L796.0,251.7 L796.7,249.5 L797.4,247.9 L798.1,246.8 L798.8,245.5 L799.5,243.2 L800.2,242.3 L800.9,242.3 L801.6,240.9 L802.3,239.7 L803.0,239.0 L803.7,238.0 L804.4,236.1 L805.1,233.5 L805.8,230.8 L806.5,229.8 L807.2,231.2 L807.9,233.0 L808.6,235.3 L809.3,235.7 L810.0,235.8 L810.7,236.6 L811.4,237.0 L812.1,237.0 L812.8,236.9 L813.5,237.0 L814.2,237.6 L814.9,238.2 L815.6,237.8 L816.3,237.7 L817.0,237.5 L817.7,236.5 L818.4,236.6 L819.1,237.2 L819.8,236.7 L820.5,237.7 L821.2,239.3 L821.9,239.4 L822.6,239.6 L823.3,241.7 L824.0,243.6 L824.7,243.6 L825.4,242.1 L826.1,241.6 L826.8,241.3 L827.5,240.4 L828.2,240.1 L828.9,241.4 L829.6,242.1 L830.3,244.2 L831.0,245.6 L831.7,246.4 L832.4,248.2 L833.1,249.7 L833.8,250.4 L834.5,251.1 L835.2,251.9 L835.9,253.7 L836.6,255.3 L837.3,255.2 L838.0,256.0 L838.7,257.7 L839.4,258.6 L840.1,259.7 L840.8,260.8 L841.5,260.5 L842.2,260.6 L842.9,260.6 L843.6,260.6 L844.3,261.1 L845.0,261.9 L845.7,261.8 L846.4,260.6 L847.1,261.9 L847.8,264.3 L848.5,265.6 L849.2,266.7 L849.9,268.2 L850.6,269.6 L851.3,270.5 L852.0,270.9 L852.7,272.2 L853.4,273.2 L854.1,273.5 L854.8,274.1 L855.5,275.5 L856.2,278.1 L856.9,279.5 L857.6,281.0 L858.3,283.5 L858.9,269.5" fill="none" stroke="#62bfa0" stroke-width="2.8" stroke-linejoin="round" stroke-linecap="butt"/>
<path d="M155.5,292.8 L155.5,280.1 L156.2,280.5 L156.9,280.6 L157.6,279.4 L158.3,277.4 L159.0,276.0 L159.7,276.4 L160.4,276.8 L161.1,275.7 L161.8,274.6 L162.5,273.3 L163.2,271.9 L163.9,271.2 L164.6,270.6 L165.3,269.1 L166.0,268.4 L166.7,269.2 L167.4,268.8 L168.1,268.2 L168.8,269.3 L169.5,270.0 L170.2,269.3 L170.9,270.9 L171.6,273.5 L172.3,274.5 L173.0,276.9 L173.7,278.7 L174.4,277.2 L175.1,275.5 L175.8,273.8 L176.5,271.8 L177.2,270.7 L177.9,269.2 L178.6,267.8 L179.3,269.2 L180.0,270.2 L180.7,270.3 L181.4,270.6 L182.1,271.8 L182.8,273.8 L183.5,275.1 L184.2,276.8 L184.9,277.9 L185.6,275.5 L186.3,273.4 L187.0,271.5 L187.7,270.4 L188.4,269.2 L189.1,266.8 L189.8,264.5 L190.5,265.6 L191.2,266.4 L191.9,267.1 L192.6,268.5 L193.3,269.3 L194.0,270.2 L194.7,270.9 L195.4,270.6 L196.1,270.2 L196.8,269.9 L197.5,271.3 L198.2,272.1 L198.9,272.8 L199.6,274.4 L200.3,274.4 L201.0,274.4 L201.7,275.8 L202.4,278.0 L203.1,278.4 L203.8,278.8 L204.5,280.8 L205.2,282.3 L205.9,283.9 L206.6,284.8 L207.3,285.4 L208.0,285.3 L208.7,285.5 L209.4,285.2 L210.1,282.8 L210.8,283.9 L211.5,286.4 L212.2,288.8 L212.9,290.3 L213.6,291.1 L214.3,293.0 L215.0,295.3 L215.7,296.6 L216.4,296.2 L217.1,295.9 L217.8,294.8 L218.5,294.1 L219.2,293.7 L219.9,292.8 L220.6,292.8 L221.3,292.1 L222.0,291.7 L222.7,292.3 L223.4,291.4 L224.1,290.4 L224.8,290.0 L225.5,290.1 L226.2,290.2 L226.9,289.8 L227.6,289.5 L228.3,289.0 L229.0,289.1 L229.7,289.1 L230.4,289.8 L231.1,291.0 L231.8,291.0 L232.5,291.9 L233.2,292.8 L233.9,291.6 L234.6,291.8 L235.3,292.8 L236.0,293.7 L236.7,295.3 L237.4,293.7 L238.1,291.7 L238.8,290.9 L239.5,290.1 L240.2,289.5 L240.9,288.4 L241.6,285.8 L242.3,283.9 L243.0,282.0 L243.7,279.5 L244.4,279.6 L245.1,279.7 L245.8,278.7 L246.5,278.0 L247.2,278.1 L247.9,278.2 L248.6,280.3 L249.3,281.6 L250.0,283.1 L250.7,285.7 L251.4,287.6 L252.1,288.8 L252.8,290.5 L253.5,291.8 L254.2,292.8 L254.9,294.1 L255.6,295.7 L256.3,295.9 L257.0,297.0 L257.7,298.9 L258.4,299.3 L259.1,298.1 L259.8,296.4 L260.5,295.7 L261.2,295.2 L261.9,294.9 L262.6,295.1 L263.3,296.0 L264.0,297.2 L264.7,297.5 L265.4,299.3 L266.1,301.4 L266.8,303.4 L267.5,305.8 L268.2,308.5 L268.9,311.1 L269.6,312.9 L270.3,315.3 L271.0,317.9 L271.7,320.5 L272.4,324.0 L273.1,324.8 L273.8,322.7 L274.5,320.5 L275.2,318.9 L275.9,317.6 L276.6,317.3 L277.3,316.5 L278.0,316.6 L278.7,317.9 L279.4,319.1 L280.1,321.2 L280.8,322.1 L281.5,322.6 L282.2,323.8 L282.9,325.5 L283.6,325.3 L284.3,323.9 L285.0,323.3 L285.7,322.7 L286.4,323.0 L287.1,324.1 L287.8,323.0 L288.5,321.9 L289.2,321.9 L289.9,320.6 L290.6,322.1 L291.3,324.2 L292.0,325.8 L292.7,328.5 L293.4,329.7 L294.1,330.8 L294.8,333.2 L295.5,334.2 L296.2,335.6 L296.9,337.6 L297.6,339.1 L298.3,340.3 L299.0,342.0 L299.7,342.4 L300.4,344.1 L301.1,347.3 L301.8,348.5 L302.5,349.4 L303.2,348.2 L303.9,345.4 L304.6,343.2 L305.3,340.6 L306.0,339.0 L306.7,336.5 L307.4,333.6 L308.1,330.1 L308.8,326.6 L309.5,325.5 L310.2,324.3 L310.9,323.0 L311.6,323.2 L312.3,322.1 L313.0,319.9 L313.7,318.0 L314.4,316.4 L315.1,315.1 L315.8,312.2 L316.5,308.5 L317.2,305.9 L317.9,304.3 L318.6,301.8 L319.3,299.6 L320.0,298.3 L320.7,296.3 L321.4,294.5 L322.1,293.4 L322.8,292.4 L323.5,290.2 L324.2,288.7 L324.9,287.6 L325.6,285.4 L326.3,284.7 L327.0,284.1 L327.7,282.7 L328.4,281.3 L329.1,280.4 L329.8,280.8 L330.5,281.2 L331.2,280.1 L331.9,279.5 L332.6,278.7 L333.3,277.9 L334.0,277.9 L334.7,277.2 L335.4,276.3 L336.1,276.8 L336.8,277.4 L337.5,277.2 L338.2,277.8 L338.9,278.4 L339.6,279.0 L340.3,279.4 L341.0,279.2 L341.7,279.6 L342.4,280.2 L343.1,280.5 L343.8,281.1 L344.5,282.4 L345.2,283.6 L345.9,284.5 L346.6,284.2 L347.3,284.2 L348.0,284.5 L348.7,284.2 L349.4,283.7 L350.1,282.9 L350.8,280.9 L351.5,278.2 L352.2,274.4 L352.9,271.9 L353.6,269.8 L354.3,266.1 L355.0,263.0 L355.7,260.0 L356.4,258.0 L357.1,256.1 L357.8,253.2 L358.5,251.0 L359.2,249.0 L359.9,247.1 L360.6,245.4 L361.3,243.4 L362.0,242.0 L362.7,239.4 L363.4,238.6 L364.1,238.3 L364.8,237.3 L365.5,237.6 L366.2,236.5 L366.9,234.9 L367.6,234.0 L368.3,233.5 L369.0,232.6 L369.7,231.7 L370.4,230.9 L371.1,230.9 L371.8,230.6 L372.5,229.9 L373.2,229.5 L373.9,228.7 L374.6,228.4 L375.3,228.2 L376.0,228.2 L376.7,227.7 L377.4,226.7 L378.1,225.9 L378.8,226.5 L379.5,226.3 L380.2,225.2 L380.9,225.5 L381.6,226.4 L382.3,226.6 L383.0,226.6 L383.7,228.0 L384.4,228.9 L385.1,228.7 L385.8,229.1 L386.5,228.1 L387.2,227.2 L387.9,227.6 L388.6,228.0 L389.3,227.4 L390.0,226.4 L390.7,228.7 L391.4,231.8 L392.1,234.6 L392.8,237.9 L393.5,241.8 L394.2,245.5 L394.9,248.9 L395.6,251.0 L396.3,253.7 L397.0,256.0 L397.7,259.7 L398.4,263.6 L399.1,264.1 L399.8,264.2 L400.5,263.9 L401.2,263.5 L401.9,263.3 L402.6,263.6 L403.3,262.6 L404.0,261.4 L404.7,260.9 L405.4,261.3 L406.1,262.0 L406.8,261.5 L407.5,260.6 L408.2,260.4 L408.9,261.0 L409.6,261.0 L410.3,261.2 L411.0,261.3 L411.7,260.9 L412.4,260.8 L413.1,260.9 L413.8,260.2 L414.5,259.8 L415.2,260.3 L415.9,261.7 L416.6,262.7 L417.3,263.4 L418.0,264.3 L418.7,264.5 L419.4,266.3 L420.1,267.9 L420.8,269.2 L421.5,271.2 L422.2,271.7 L422.9,272.5 L423.6,270.6 L424.3,268.3 L425.0,265.6 L425.7,263.9 L426.4,261.9 L427.1,259.3 L427.8,257.5 L428.5,260.2 L429.2,262.9 L429.9,265.1 L430.6,265.9 L431.3,266.2 L432.0,266.0 L432.7,265.8 L433.4,266.3 L434.1,267.2 L434.8,267.3 L435.5,266.9 L436.2,266.9 L436.9,267.9 L437.6,267.2 L438.3,265.9 L439.0,265.9 L439.7,264.3 L440.4,263.7 L441.1,264.1 L441.8,264.2 L442.5,264.0 L443.2,263.5 L443.9,264.7 L444.6,266.2 L445.3,267.1 L446.0,268.2 L446.7,269.5 L447.4,271.5 L448.1,274.3 L448.8,277.2 L449.5,279.2 L450.2,280.5 L450.9,280.9 L451.6,281.1 L452.3,281.1 L453.0,280.9 L453.7,279.3 L454.4,277.9 L455.1,276.9 L455.8,275.9 L456.5,277.1 L457.2,277.9 L457.9,278.2 L458.6,279.6 L459.3,280.9 L460.0,282.3 L460.7,282.9 L461.4,281.8 L462.1,281.7 L462.8,282.4 L463.5,281.8 L464.2,281.8 L464.9,282.2 L465.6,280.8 L466.3,280.8 L467.0,281.9 L467.7,282.0 L468.4,283.5 L469.1,286.3 L469.8,288.9 L470.5,292.1 L471.2,295.3 L471.9,298.9 L472.6,302.0 L473.3,305.3 L474.0,309.7 L474.7,313.8 L475.4,317.4 L476.1,320.6 L476.8,324.4 L477.5,329.3 L478.2,333.9 L478.9,338.1 L479.6,342.7 L480.3,347.1 L481.0,350.9 L481.7,355.3 L482.4,360.1 L483.1,364.4 L483.8,369.0 L484.5,373.9 L485.2,377.6 L485.9,381.3 L486.6,385.5 L487.3,389.8 L488.0,394.0 L488.7,397.7 L489.4,400.0 L490.1,402.1 L490.8,404.5 L491.5,406.7 L492.2,407.4 L492.9,407.6 L493.6,408.1 L494.3,406.6 L495.0,406.1 L495.7,405.7 L496.4,406.1 L497.1,406.1 L497.8,404.0 L498.5,403.4 L499.2,403.3 L499.9,403.8 L500.6,404.5 L501.3,403.7 L502.0,405.1 L502.7,406.9 L503.4,406.9 L504.1,405.1 L504.8,404.3 L505.5,404.8 L506.2,402.7 L506.9,401.6 L507.6,401.7 L508.3,401.6 L509.0,401.5 L509.7,398.1 L510.4,394.5 L511.1,391.0 L511.8,386.4 L512.5,383.3 L513.2,380.5 L513.9,376.7 L514.6,375.0 L515.3,372.8 L516.0,368.9 L516.7,366.3 L517.4,363.1 L518.1,359.6 L518.8,357.3 L519.5,354.8 L520.2,352.3 L520.9,349.2 L521.6,345.0 L522.3,340.8 L523.0,337.4 L523.7,332.8 L524.4,331.7 L525.1,330.9 L525.8,330.4 L526.5,330.1 L527.2,328.9 L527.9,327.3 L528.6,326.4 L529.3,325.2 L530.0,324.1 L530.7,323.0 L531.4,320.9 L532.1,320.0 L532.8,319.2 L533.5,317.2 L534.2,316.0 L534.9,314.7 L535.6,312.7 L536.3,311.4 L537.0,309.9 L537.7,308.5 L538.4,307.6 L539.1,307.3 L539.8,306.8 L540.5,304.9 L541.2,304.6 L541.9,305.1 L542.6,305.0 L543.3,305.8 L544.0,306.2 L544.7,307.3 L545.4,307.7 L546.1,306.6 L546.8,308.5 L547.5,310.8 L548.2,312.0 L548.9,312.8 L549.6,316.0 L550.3,320.4 L551.0,323.1 L551.7,325.9 L552.4,327.4 L553.1,327.7 L553.8,328.1 L554.5,328.5 L555.2,328.6 L555.9,330.1 L556.6,331.4 L557.3,331.5 L558.0,332.5 L558.7,334.0 L559.4,334.6 L560.1,335.7 L560.8,334.4 L561.5,332.0 L562.2,330.2 L562.9,330.1 L563.6,328.4 L564.3,326.7 L565.0,328.3 L565.7,329.1 L566.4,329.1 L567.1,329.4 L567.8,330.6 L568.5,331.7 L569.2,331.9 L569.9,331.5 L570.6,332.7 L571.3,334.1 L572.0,334.3 L572.7,333.0 L573.4,331.2 L574.1,329.6 L574.8,327.9 L575.5,325.5 L576.2,323.3 L576.9,323.3 L577.6,323.3 L578.3,324.0 L579.0,325.1 L579.7,325.4 L580.4,325.4 L581.1,324.6 L581.8,324.0 L582.5,324.4 L583.2,324.2 L583.9,324.0 L584.6,323.0 L585.3,320.7 L586.0,319.9 L586.7,319.3 L587.4,318.7 L588.1,317.4 L588.8,314.7 L589.5,313.6 L590.2,312.5 L590.9,310.4 L591.6,310.6 L592.3,310.2 L593.0,308.2 L593.7,305.3 L594.4,302.8 L595.1,299.7 L595.8,296.5 L596.5,293.0 L597.2,288.9 L597.9,287.0 L598.6,285.3 L599.3,282.3 L600.0,279.3 L600.7,276.6 L601.4,273.7 L602.1,271.7 L602.8,269.8 L603.5,266.8 L604.2,264.9 L604.9,264.8 L605.6,264.5 L606.3,264.0 L607.0,263.0 L607.7,262.5 L608.4,262.6 L609.1,259.9 L609.8,256.7 L610.5,255.0 L611.2,254.3 L611.9,254.0 L612.6,252.6 L613.3,252.3 L614.0,252.2 L614.7,251.4 L615.4,251.9 L616.1,251.8 L616.8,251.5 L617.5,252.3 L618.2,251.8 L618.9,250.2 L619.6,248.9 L620.3,249.0 L621.0,249.7 L621.7,250.6 L622.4,251.5 L623.1,252.2 L623.8,254.0 L624.5,255.2 L625.2,256.1 L625.9,257.4 L626.6,259.4 L627.3,258.4 L628.0,256.9 L628.7,255.6 L629.4,253.4 L630.1,251.8 L630.8,251.0 L631.5,251.4 L632.2,252.2 L632.9,250.9 L633.6,249.9 L634.3,250.7 L635.0,251.1 L635.7,251.2 L636.4,252.9 L637.1,253.9 L637.8,254.0 L638.5,255.0 L639.2,255.4 L639.9,256.6 L640.6,259.3 L641.3,261.4 L642.0,264.4 L642.7,266.9 L643.4,270.1 L644.1,272.7 L644.8,275.1 L645.5,277.3 L646.2,279.1 L646.9,281.4 L647.6,281.0 L648.3,280.9 L649.0,281.0 L649.7,279.7 L650.4,279.2 L651.1,280.2 L651.8,281.0 L652.5,282.7 L653.2,284.1 L653.9,284.4 L654.6,286.1 L655.3,288.3 L656.0,288.6 L656.7,289.0 L657.4,289.4 L658.1,290.3 L658.8,292.2 L659.5,293.6 L660.2,293.9 L660.9,294.8 L661.6,296.9 L662.3,297.9 L663.0,297.8 L663.7,297.3 L664.4,296.6 L665.1,294.9 L665.8,293.2 L666.5,291.4 L667.2,290.0 L667.9,289.1 L668.6,288.3 L669.3,287.3 L670.0,286.4 L670.7,285.0 L671.4,283.9 L672.1,282.8 L672.8,281.3 L673.5,280.9 L674.2,280.9 L674.9,280.3 L675.6,280.0 L676.3,279.2 L677.0,278.3 L677.7,277.6 L678.4,276.5 L679.1,274.5 L679.8,273.0 L680.5,271.5 L681.2,269.1 L681.9,267.5 L682.6,269.4 L683.3,270.9 L684.0,272.3 L684.7,275.0 L685.4,276.8 L686.1,277.7 L686.8,280.0 L687.5,282.6 L688.2,283.9 L688.9,285.9 L689.6,288.5 L690.3,290.8 L691.0,292.7 L691.7,291.3 L692.4,288.9 L693.1,285.8 L693.8,284.5 L694.5,285.9 L695.2,286.8 L695.9,286.7 L696.6,287.4 L697.3,288.8 L698.0,289.7 L698.7,289.4 L699.4,288.0 L700.1,287.6 L700.8,286.1 L701.5,285.1 L702.2,285.5 L702.9,284.8 L703.6,283.2 L704.3,282.8 L705.0,282.3 L705.7,281.2 L706.4,279.2 L707.1,277.5 L707.8,277.1 L708.5,275.6 L709.2,273.6 L709.9,273.4 L710.6,273.9 L711.3,272.6 L712.0,270.4 L712.7,269.8 L713.4,270.0 L714.1,269.0 L714.8,267.6 L715.5,265.5 L716.2,262.9 L716.9,260.9 L717.6,258.7 L718.3,257.7 L719.0,257.2 L719.7,257.8 L720.4,257.9 L721.1,255.8 L721.8,255.7 L722.5,256.6 L723.2,257.1 L723.9,257.8 L724.6,258.9 L725.3,260.4 L726.0,261.3 L726.7,261.4 L727.4,261.8 L728.1,263.8 L728.8,266.4 L729.5,268.9 L730.2,271.5 L730.9,273.4 L731.6,275.3 L732.3,276.9 L733.0,277.6 L733.7,277.8 L734.4,278.4 L735.1,280.8 L735.8,282.5 L736.5,281.6 L737.2,280.6 L737.9,280.3 L738.6,280.8 L739.3,281.7 L740.0,283.2 L740.7,284.7 L741.4,285.2 L742.1,285.9 L742.8,286.8 L743.5,287.3 L744.2,287.0 L744.9,287.8 L745.6,288.5 L746.3,288.0 L747.0,288.4 L747.7,288.3 L748.4,287.2 L749.1,286.6 L749.8,285.8 L750.5,284.8 L751.2,283.9 L751.9,284.2 L752.6,285.0 L753.3,285.7 L754.0,287.1 L754.7,287.3 L755.4,288.5 L756.1,290.0 L756.8,291.7 L757.5,293.7 L758.2,295.0 L758.9,296.0 L759.6,297.0 L760.3,298.4 L761.0,300.1 L761.7,301.0 L762.4,301.7 L763.1,302.8 L763.8,303.8 L764.5,304.8 L765.2,305.4 L765.9,305.8 L766.6,307.2 L767.3,307.7 L768.0,308.0 L768.7,310.2 L769.4,310.2 L770.1,310.2 L770.8,312.5 L771.5,312.9 L772.2,314.6 L772.9,315.2 L773.6,315.8 L774.3,318.7 L775.0,319.6 L775.7,319.9 L776.4,319.9 L777.1,318.8 L777.8,318.2 L778.5,317.3 L779.2,316.1 L779.9,316.1 L780.6,315.0 L781.3,313.5 L782.0,313.1 L782.7,311.8 L783.4,311.3 L784.1,311.1 L784.8,309.0 L785.5,307.3 L786.2,305.8 L786.9,303.8 L787.6,302.4 L788.3,302.8 L789.0,304.0 L789.7,304.8 L790.4,305.6 L791.1,306.7 L791.8,307.4 L792.5,308.0 L793.2,305.5 L793.9,303.2 L794.6,301.7 L795.3,300.6 L796.0,299.2 L796.7,297.4 L797.4,294.7 L798.1,293.1 L798.8,292.3 L799.5,291.4 L800.2,290.9 L800.9,290.4 L801.6,288.4 L802.3,286.3 L803.0,285.8 L803.7,284.8 L804.4,282.8 L805.1,281.7 L805.8,280.3 L806.5,279.3 L807.2,280.4 L807.9,280.9 L808.6,282.7 L809.3,284.2 L810.0,284.8 L810.7,286.2 L811.4,286.4 L812.1,285.1 L812.8,283.2 L813.5,280.8 L814.2,279.2 L814.9,277.6 L815.6,277.1 L816.3,277.7 L817.0,277.3 L817.7,277.8 L818.4,277.9 L819.1,277.1 L819.8,276.7 L820.5,277.7 L821.2,279.7 L821.9,281.9 L822.6,282.6 L823.3,284.3 L824.0,284.9 L824.7,284.5 L825.4,284.2 L826.1,282.9 L826.8,281.8 L827.5,282.8 L828.2,285.2 L828.9,285.6 L829.6,287.4 L830.3,289.5 L831.0,290.4 L831.7,291.2 L832.4,292.5 L833.1,294.7 L833.8,296.6 L834.5,297.5 L835.2,298.8 L835.9,300.4 L836.6,300.8 L837.3,301.8 L838.0,303.8 L838.7,304.8 L839.4,306.3 L840.1,307.9 L840.8,308.7 L841.5,308.8 L842.2,309.4 L842.9,311.6 L843.6,312.1 L844.3,311.9 L845.0,314.6 L845.7,317.6 L846.4,319.8 L847.1,321.2 L847.8,323.5 L848.5,323.7 L849.2,321.5 L849.9,320.4 L850.6,319.6 L851.3,320.0 L852.0,320.6 L852.7,320.5 L853.4,320.9 L854.1,321.2 L854.8,321.5 L855.5,321.1 L856.2,320.3 L856.9,321.7 L857.6,322.3 L858.3,322.3 L858.9,296.9" fill="none" stroke="#ff7f0e" stroke-width="2.8" stroke-linejoin="round" stroke-linecap="butt"/>
<path d="M155.5,321.3 L155.5,351.7 L156.2,352.2 L156.9,350.0 L157.6,348.5 L158.3,349.1 L159.0,345.8 L159.7,341.8 L160.4,339.2 L161.1,337.1 L161.8,333.8 L162.5,332.6 L163.2,332.7 L163.9,332.5 L164.6,332.2 L165.3,331.9 L166.0,331.2 L166.7,330.5 L167.4,330.0 L168.1,329.2 L168.8,328.9 L169.5,328.7 L170.2,327.8 L170.9,328.2 L171.6,328.5 L172.3,327.1 L173.0,327.5 L173.7,327.6 L174.4,325.9 L175.1,323.6 L175.8,320.9 L176.5,318.4 L177.2,315.5 L177.9,312.9 L178.6,313.9 L179.3,313.7 L180.0,313.8 L180.7,315.8 L181.4,317.4 L182.1,319.1 L182.8,322.9 L183.5,325.8 L184.2,326.6 L184.9,327.6 L185.6,327.2 L186.3,327.8 L187.0,328.6 L187.7,326.9 L188.4,324.7 L189.1,322.2 L189.8,320.1 L190.5,322.6 L191.2,324.8 L191.9,325.7 L192.6,326.8 L193.3,327.7 L194.0,328.0 L194.7,328.1 L195.4,328.3 L196.1,328.7 L196.8,330.0 L197.5,332.3 L198.2,333.9 L198.9,336.1 L199.6,337.8 L200.3,340.0 L201.0,342.2 L201.7,342.5 L202.4,343.4 L203.1,343.4 L203.8,345.1 L204.5,347.9 L205.2,350.2 L205.9,350.7 L206.6,351.8 L207.3,352.3 L208.0,350.7 L208.7,348.6 L209.4,347.3 L210.1,348.0 L210.8,348.4 L211.5,348.8 L212.2,348.2 L212.9,349.8 L213.6,352.3 L214.3,353.9 L215.0,355.7 L215.7,357.6 L216.4,358.9 L217.1,359.5 L217.8,357.5 L218.5,356.9 L219.2,355.9 L219.9,356.7 L220.6,357.7 L221.3,359.3 L222.0,361.1 L222.7,360.6 L223.4,360.0 L224.1,360.8 L224.8,360.9 L225.5,359.4 L226.2,358.4 L226.9,358.1 L227.6,358.8 L228.3,359.2 L229.0,358.7 L229.7,358.6 L230.4,360.1 L231.1,361.1 L231.8,363.3 L232.5,365.5 L233.2,367.1 L233.9,366.9 L234.6,366.0 L235.3,366.3 L236.0,364.7 L236.7,362.2 L237.4,360.4 L238.1,359.5 L238.8,358.5 L239.5,356.5 L240.2,354.4 L240.9,352.4 L241.6,349.7 L242.3,346.9 L243.0,344.3 L243.7,342.1 L244.4,341.5 L245.1,340.8 L245.8,340.1 L246.5,339.5 L247.2,338.2 L247.9,337.5 L248.6,338.7 L249.3,339.9 L250.0,340.8 L250.7,341.2 L251.4,341.5 L252.1,344.8 L252.8,347.8 L253.5,350.0 L254.2,352.6 L254.9,355.9 L255.6,358.6 L256.3,357.3 L257.0,356.8 L257.7,355.0 L258.4,354.0 L259.1,352.7 L259.8,349.9 L260.5,348.1 L261.2,346.1 L261.9,344.5 L262.6,343.6 L263.3,345.4 L264.0,346.9 L264.7,347.6 L265.4,348.9 L266.1,350.6 L266.8,353.2 L267.5,356.0 L268.2,359.0 L268.9,362.0 L269.6,364.8 L270.3,367.4 L271.0,369.4 L271.7,371.5 L272.4,373.6 L273.1,376.1 L273.8,378.5 L274.5,379.7 L275.2,381.4 L275.9,382.7 L276.6,380.8 L277.3,378.0 L278.0,376.1 L278.7,374.0 L279.4,373.2 L280.1,372.3 L280.8,373.0 L281.5,375.9 L282.2,379.0 L282.9,379.9 L283.6,380.2 L284.3,381.5 L285.0,382.0 L285.7,382.6 L286.4,383.1 L287.1,384.3 L287.8,384.1 L288.5,383.1 L289.2,382.8 L289.9,382.6 L290.6,383.8 L291.3,385.1 L292.0,387.3 L292.7,388.6 L293.4,386.7 L294.1,384.9 L294.8,384.0 L295.5,385.2 L296.2,386.6 L296.9,388.4 L297.6,388.9 L298.3,390.9 L299.0,394.2 L299.7,396.3 L300.4,397.7 L301.1,399.6 L301.8,399.7 L302.5,398.6 L303.2,398.4 L303.9,399.0 L304.6,398.8 L305.3,396.9 L306.0,394.2 L306.7,390.8 L307.4,388.0 L308.1,385.2 L308.8,381.9 L309.5,378.0 L310.2,374.6 L310.9,372.2 L311.6,368.6 L312.3,365.1 L313.0,361.5 L313.7,357.3 L314.4,354.2 L315.1,352.0 L315.8,349.4 L316.5,345.4 L317.2,344.7 L317.9,344.4 L318.6,344.3 L319.3,344.4 L320.0,343.2 L320.7,341.4 L321.4,339.2 L322.1,336.3 L322.8,333.9 L323.5,332.4 L324.2,334.8 L324.9,336.4 L325.6,338.0 L326.3,340.4 L327.0,342.1 L327.7,342.4 L328.4,340.7 L329.1,339.3 L329.8,336.5 L330.5,332.7 L331.2,329.9 L331.9,328.4 L332.6,326.1 L333.3,323.9 L334.0,320.7 L334.7,317.8 L335.4,317.1 L336.1,319.0 L336.8,320.9 L337.5,322.4 L338.2,323.8 L338.9,324.3 L339.6,325.2 L340.3,326.2 L341.0,326.8 L341.7,328.2 L342.4,329.8 L343.1,330.0 L343.8,330.9 L344.5,333.5 L345.2,336.4 L345.9,339.9 L346.6,343.2 L347.3,345.6 L348.0,348.0 L348.7,346.4 L349.4,344.5 L350.1,343.2 L350.8,342.0 L351.5,340.8 L352.2,338.6 L352.9,336.7 L353.6,336.0 L354.3,334.0 L355.0,331.1 L355.7,329.7 L356.4,328.1 L357.1,326.2 L357.8,325.0 L358.5,324.2 L359.2,321.2 L359.9,318.4 L360.6,317.3 L361.3,315.2 L362.0,313.2 L362.7,311.1 L363.4,309.6 L364.1,307.6 L364.8,305.1 L365.5,303.3 L366.2,301.4 L366.9,299.7 L367.6,299.0 L368.3,298.1 L369.0,296.7 L369.7,295.7 L370.4,294.2 L371.1,292.9 L371.8,291.8 L372.5,291.9 L373.2,292.3 L373.9,292.0 L374.6,292.7 L375.3,293.6 L376.0,293.0 L376.7,293.8 L377.4,294.8 L378.1,293.7 L378.8,293.4 L379.5,292.8 L380.2,291.4 L380.9,291.6 L381.6,290.7 L382.3,289.0 L383.0,289.2 L383.7,287.7 L384.4,286.2 L385.1,285.7 L385.8,285.6 L386.5,284.0 L387.2,281.8 L387.9,281.3 L388.6,280.3 L389.3,278.3 L390.0,277.4 L390.7,280.5 L391.4,283.1 L392.1,286.1 L392.8,288.9 L393.5,291.2 L394.2,293.5 L394.9,296.4 L395.6,299.7 L396.3,303.8 L397.0,307.1 L397.7,310.6 L398.4,312.7 L399.1,311.9 L399.8,311.8 L400.5,309.6 L401.2,308.2 L401.9,309.1 L402.6,310.4 L403.3,311.5 L404.0,310.9 L404.7,309.1 L405.4,307.6 L406.1,305.8 L406.8,304.5 L407.5,303.1 L408.2,302.8 L408.9,304.1 L409.6,305.3 L410.3,306.2 L411.0,307.1 L411.7,307.6 L412.4,307.4 L413.1,307.1 L413.8,306.4 L414.5,306.0 L415.2,305.7 L415.9,306.4 L416.6,308.5 L417.3,311.1 L418.0,314.5 L418.7,317.5 L419.4,319.8 L420.1,323.1 L420.8,327.5 L421.5,325.7 L422.2,322.7 L422.9,320.6 L423.6,317.4 L424.3,315.1 L425.0,313.8 L425.7,311.5 L426.4,309.2 L427.1,306.7 L427.8,303.9 L428.5,301.5 L429.2,299.3 L429.9,298.5 L430.6,296.6 L431.3,294.0 L432.0,291.7 L432.7,289.4 L433.4,289.3 L434.1,290.3 L434.8,290.5 L435.5,292.1 L436.2,293.5 L436.9,295.5 L437.6,295.4 L438.3,294.7 L439.0,296.0 L439.7,295.4 L440.4,294.8 L441.1,296.9 L441.8,300.7 L442.5,302.9 L443.2,304.3 L443.9,307.6 L444.6,311.1 L445.3,312.7 L446.0,313.3 L446.7,316.3 L447.4,319.4 L448.1,321.4 L448.8,321.0 L449.5,319.0 L450.2,317.4 L450.9,316.8 L451.6,316.2 L452.3,315.3 L453.0,315.2 L453.7,317.9 L454.4,319.1 L455.1,318.7 L455.8,319.6 L456.5,320.9 L457.2,321.5 L457.9,322.0 L458.6,322.7 L459.3,323.4 L460.0,324.3 L460.7,323.6 L461.4,322.9 L462.1,322.7 L462.8,322.9 L463.5,322.7 L464.2,322.1 L464.9,323.9 L465.6,325.9 L466.3,327.9 L467.0,329.5 L467.7,331.0 L468.4,332.5 L469.1,332.9 L469.8,333.4 L470.5,334.2 L471.2,333.9 L471.9,332.8 L472.6,333.8 L473.3,338.1 L474.0,344.0 L474.7,350.2 L475.4,355.2 L476.1,358.8 L476.8,363.3 L477.5,368.2 L478.2,372.3 L478.9,376.8 L479.6,380.2 L480.3,383.6 L481.0,386.9 L481.7,391.8 L482.4,397.6 L483.1,403.7 L483.8,410.2 L484.5,416.0 L485.2,421.5 L485.9,426.1 L486.6,431.4 L487.3,436.9 L488.0,442.3 L488.7,448.2 L489.4,453.1 L490.1,458.5 L490.8,464.6 L491.5,470.0 L492.2,475.5 L492.9,481.4 L493.6,485.9 L494.3,490.0 L495.0,494.1 L495.7,497.9 L496.4,502.4 L497.1,504.1 L497.8,501.6 L498.5,500.0 L499.2,496.7 L499.9,493.9 L500.6,492.4 L501.3,491.5 L502.0,490.4 L502.7,490.1 L503.4,491.9 L504.1,491.5 L504.8,489.0 L505.5,487.1 L506.2,484.6 L506.9,482.8 L507.6,481.9 L508.3,480.0 L509.0,478.6 L509.7,478.2 L510.4,477.1 L511.1,473.1 L511.8,468.5 L512.5,464.7 L513.2,459.8 L513.9,453.7 L514.6,446.6 L515.3,442.7 L516.0,440.2 L516.7,439.0 L517.4,437.8 L518.1,435.8 L518.8,431.8 L519.5,428.0 L520.2,423.5 L520.9,418.3 L521.6,412.8 L522.3,409.2 L523.0,406.3 L523.7,402.3 L524.4,398.2 L525.1,394.2 L525.8,395.2 L526.5,396.0 L527.2,396.4 L527.9,396.5 L528.6,396.3 L529.3,393.8 L530.0,390.6 L530.7,386.9 L531.4,384.2 L532.1,382.2 L532.8,379.6 L533.5,377.6 L534.2,375.4 L534.9,372.5 L535.6,369.9 L536.3,367.7 L537.0,366.5 L537.7,364.1 L538.4,361.0 L539.1,358.4 L539.8,355.3 L540.5,352.1 L541.2,350.1 L541.9,349.2 L542.6,348.0 L543.3,346.6 L544.0,345.2 L544.7,343.3 L545.4,341.9 L546.1,342.6 L546.8,345.3 L547.5,346.9 L548.2,348.4 L548.9,352.5 L549.6,355.1 L550.3,356.3 L551.0,359.3 L551.7,363.1 L552.4,364.3 L553.1,364.8 L553.8,365.8 L554.5,366.2 L555.2,368.3 L555.9,370.2 L556.6,370.4 L557.3,371.9 L558.0,374.0 L558.7,376.2 L559.4,377.9 L560.1,375.7 L560.8,372.6 L561.5,370.7 L562.2,369.1 L562.9,367.1 L563.6,367.8 L564.3,368.9 L565.0,370.5 L565.7,371.8 L566.4,372.1 L567.1,372.8 L567.8,374.1 L568.5,374.2 L569.2,374.4 L569.9,375.2 L570.6,376.4 L571.3,376.4 L572.0,376.8 L572.7,378.0 L573.4,378.9 L574.1,380.8 L574.8,381.6 L575.5,382.2 L576.2,383.0 L576.9,384.0 L577.6,384.6 L578.3,384.1 L579.0,382.9 L579.7,381.8 L580.4,382.7 L581.1,382.9 L581.8,382.1 L582.5,383.3 L583.2,384.3 L583.9,385.9 L584.6,387.8 L585.3,389.1 L586.0,386.1 L586.7,382.5 L587.4,378.8 L588.1,375.4 L588.8,372.5 L589.5,372.1 L590.2,371.7 L590.9,371.4 L591.6,369.9 L592.3,369.8 L593.0,371.0 L593.7,370.8 L594.4,370.8 L595.1,370.3 L595.8,370.3 L596.5,371.3 L597.2,371.8 L597.9,368.4 L598.6,364.6 L599.3,362.7 L600.0,359.9 L600.7,357.4 L601.4,354.8 L602.1,350.3 L602.8,347.4 L603.5,345.3 L604.2,341.0 L604.9,337.6 L605.6,336.6 L606.3,337.4 L607.0,338.2 L607.7,337.7 L608.4,338.9 L609.1,339.1 L609.8,337.3 L610.5,335.1 L611.2,332.0 L611.9,328.6 L612.6,326.8 L613.3,326.3 L614.0,325.7 L614.7,325.3 L615.4,324.0 L616.1,323.8 L616.8,323.9 L617.5,323.8 L618.2,322.9 L618.9,320.4 L619.6,319.2 L620.3,317.7 L621.0,317.1 L621.7,317.0 L622.4,318.0 L623.1,319.2 L623.8,318.1 L624.5,318.0 L625.2,318.1 L625.9,317.6 L626.6,316.6 L627.3,315.2 L628.0,313.9 L628.7,313.6 L629.4,313.5 L630.1,312.2 L630.8,309.9 L631.5,309.4 L632.2,308.0 L632.9,306.6 L633.6,306.5 L634.3,308.4 L635.0,311.0 L635.7,312.9 L636.4,314.4 L637.1,315.1 L637.8,314.9 L638.5,315.9 L639.2,317.2 L639.9,317.9 L640.6,318.6 L641.3,319.2 L642.0,320.3 L642.7,322.6 L643.4,324.5 L644.1,326.0 L644.8,327.5 L645.5,331.1 L646.2,334.9 L646.9,338.5 L647.6,342.2 L648.3,344.2 L649.0,345.1 L649.7,345.7 L650.4,346.1 L651.1,346.3 L651.8,348.2 L652.5,349.9 L653.2,351.6 L653.9,354.0 L654.6,355.1 L655.3,357.7 L656.0,361.1 L656.7,362.7 L657.4,362.5 L658.1,362.3 L658.8,361.3 L659.5,361.3 L660.2,361.1 L660.9,361.9 L661.6,363.6 L662.3,365.0 L663.0,368.2 L663.7,369.1 L664.4,369.5 L665.1,369.3 L665.8,368.6 L666.5,367.3 L667.2,366.7 L667.9,364.9 L668.6,361.9 L669.3,358.7 L670.0,357.2 L670.7,355.9 L671.4,354.2 L672.1,353.7 L672.8,352.0 L673.5,351.6 L674.2,351.7 L674.9,350.3 L675.6,348.3 L676.3,347.2 L677.0,347.2 L677.7,347.0 L678.4,344.8 L679.1,342.1 L679.8,339.5 L680.5,336.3 L681.2,334.7 L681.9,334.7 L682.6,334.7 L683.3,332.6 L684.0,333.1 L684.7,335.5 L685.4,337.4 L686.1,338.6 L686.8,339.3 L687.5,341.7 L688.2,344.9 L688.9,347.8 L689.6,350.1 L690.3,352.7 L691.0,351.6 L691.7,349.8 L692.4,346.9 L693.1,345.5 L693.8,347.3 L694.5,348.6 L695.2,350.5 L695.9,352.2 L696.6,353.5 L697.3,353.7 L698.0,354.1 L698.7,354.8 L699.4,356.3 L700.1,356.4 L700.8,355.7 L701.5,354.8 L702.2,352.7 L702.9,352.9 L703.6,353.2 L704.3,352.2 L705.0,352.2 L705.7,352.4 L706.4,352.6 L707.1,351.7 L707.8,351.9 L708.5,351.5 L709.2,349.1 L709.9,348.3 L710.6,347.2 L711.3,344.5 L712.0,341.6 L712.7,341.2 L713.4,342.4 L714.1,342.5 L714.8,341.9 L715.5,340.2 L716.2,338.1 L716.9,336.4 L717.6,335.3 L718.3,333.5 L719.0,330.7 L719.7,328.4 L720.4,327.1 L721.1,324.8 L721.8,322.6 L722.5,323.0 L723.2,322.7 L723.9,321.6 L724.6,320.8 L725.3,321.7 L726.0,322.6 L726.7,324.0 L727.4,326.6 L728.1,328.9 L728.8,330.4 L729.5,332.0 L730.2,333.8 L730.9,335.5 L731.6,337.6 L732.3,340.3 L733.0,342.0 L733.7,344.2 L734.4,346.1 L735.1,346.9 L735.8,348.8 L736.5,350.5 L737.2,351.2 L737.9,353.3 L738.6,354.6 L739.3,355.1 L740.0,355.7 L740.7,355.2 L741.4,353.5 L742.1,352.6 L742.8,352.0 L743.5,351.1 L744.2,351.4 L744.9,351.0 L745.6,350.8 L746.3,351.6 L747.0,352.6 L747.7,353.0 L748.4,353.1 L749.1,354.2 L749.8,355.3 L750.5,355.7 L751.2,355.7 L751.9,355.2 L752.6,354.5 L753.3,354.9 L754.0,356.9 L754.7,359.0 L755.4,362.3 L756.1,364.8 L756.8,366.3 L757.5,369.2 L758.2,373.1 L758.9,375.5 L759.6,375.2 L760.3,374.9 L761.0,374.0 L761.7,373.8 L762.4,373.8 L763.1,374.9 L763.8,375.6 L764.5,376.7 L765.2,378.0 L765.9,378.3 L766.6,380.3 L767.3,381.3 L768.0,380.1 L768.7,378.1 L769.4,377.2 L770.1,376.5 L770.8,377.1 L771.5,378.5 L772.2,378.5 L772.9,379.2 L773.6,379.9 L774.3,380.9 L775.0,382.4 L775.7,383.4 L776.4,383.8 L777.1,384.2 L777.8,384.3 L778.5,386.4 L779.2,388.1 L779.9,388.6 L780.6,391.0 L781.3,393.2 L782.0,394.7 L782.7,394.8 L783.4,392.5 L784.1,390.4 L784.8,388.4 L785.5,386.5 L786.2,385.3 L786.9,382.4 L787.6,379.6 L788.3,378.9 L789.0,378.8 L789.7,379.5 L790.4,376.8 L791.1,374.5 L791.8,372.3 L792.5,369.3 L793.2,366.9 L793.9,366.0 L794.6,364.7 L795.3,363.1 L796.0,361.9 L796.7,361.5 L797.4,360.0 L798.1,358.7 L798.8,359.6 L799.5,357.6 L800.2,354.8 L800.9,353.4 L801.6,351.1 L802.3,349.0 L803.0,347.8 L803.7,345.8 L804.4,343.4 L805.1,341.1 L805.8,339.0 L806.5,337.9 L807.2,338.6 L807.9,339.1 L808.6,338.5 L809.3,338.4 L810.0,341.4 L810.7,345.4 L811.4,345.6 L812.1,344.0 L812.8,343.4 L813.5,344.2 L814.2,343.8 L814.9,342.7 L815.6,342.8 L816.3,343.1 L817.0,342.5 L817.7,342.3 L818.4,342.9 L819.1,344.5 L819.8,346.0 L820.5,346.0 L821.2,345.7 L821.9,346.2 L822.6,347.8 L823.3,348.6 L824.0,349.4 L824.7,350.6 L825.4,351.0 L826.1,351.8 L826.8,352.6 L827.5,352.7 L828.2,355.0 L828.9,359.0 L829.6,361.2 L830.3,362.3 L831.0,363.2 L831.7,363.1 L832.4,362.1 L833.1,361.4 L833.8,361.8 L834.5,362.7 L835.2,362.9 L835.9,362.7 L836.6,363.7 L837.3,364.4 L838.0,365.1 L838.7,366.5 L839.4,367.6 L840.1,369.4 L840.8,370.8 L841.5,371.1 L842.2,372.2 L842.9,373.5 L843.6,373.6 L844.3,375.4 L845.0,377.6 L845.7,380.0 L846.4,383.1 L847.1,385.3 L847.8,387.7 L848.5,387.0 L849.2,384.4 L849.9,381.6 L850.6,379.2 L851.3,377.1 L852.0,375.5 L852.7,374.9 L853.4,374.3 L854.1,374.0 L854.8,374.0 L855.5,375.3 L856.2,376.9 L856.9,377.9 L857.6,378.8 L858.3,379.8 L858.9,315.1" fill="none" stroke="#ff0000" stroke-width="2.8" stroke-linejoin="round" stroke-linecap="butt"/>
</g>
<rect x="153.2" y="443.2" width="284.8" height="214.4" rx="4.5" fill="#ffffff" fill-opacity="0.8" stroke="#cccccc" stroke-opacity="0.8" stroke-width="1.9"/>
<text x="295.70" y="477.90" font-size="30.2" text-anchor="middle" fill="#262626" >Fetal fraction (%)</text>
<line x1="164.80" y1="509.00" x2="220.00" y2="509.00" stroke="#4651a3" stroke-width="2.8" stroke-linecap="round" />
<text x="426.60" y="518.70" font-size="27.8" text-anchor="end" fill="#262626" >0 ≤ FF &lt; 10</text>
<line x1="164.80" y1="549.80" x2="220.00" y2="549.80" stroke="#62bfa0" stroke-width="2.8" stroke-linecap="round" />
<text x="426.60" y="559.30" font-size="27.8" text-anchor="end" fill="#262626" >10 ≤ FF &lt; 20</text>
<line x1="164.80" y1="590.40" x2="220.00" y2="590.40" stroke="#ff7f0e" stroke-width="2.8" stroke-linecap="round" />
<text x="426.60" y="600.00" font-size="27.8" text-anchor="end" fill="#262626" >20 ≤ FF &lt; 30</text>
<line x1="164.80" y1="631.00" x2="220.00" y2="631.00" stroke="#ff0000" stroke-width="2.8" stroke-linecap="round" />
<text x="242.00" y="640.20" font-size="27.8" text-anchor="start" fill="#262626" >30 ≤ FF</text>
<rect x="120.6" y="110.6" width="774.30" height="580.30" fill="none" stroke="#262626" stroke-width="2.5"/>
<line x1="155.50" y1="690.90" x2="155.50" y2="701.45" stroke="#262626" stroke-width="2.3" stroke-linecap="butt" />
<text x="155.50" y="728.90" font-size="28.0" text-anchor="middle" fill="#262626" >-1000</text>
<line x1="243.43" y1="690.90" x2="243.43" y2="701.45" stroke="#262626" stroke-width="2.3" stroke-linecap="butt" />
<text x="243.43" y="728.90" font-size="28.0" text-anchor="middle" fill="#262626" >-750</text>
<line x1="331.35" y1="690.90" x2="331.35" y2="701.45" stroke="#262626" stroke-width="2.3" stroke-linecap="butt" />
<text x="331.35" y="728.90" font-size="28.0" text-anchor="middle" fill="#262626" >-500</text>
<line x1="419.27" y1="690.90" x2="419.27" y2="701.45" stroke="#262626" stroke-width="2.3" stroke-linecap="butt" />
<text x="419.27" y="728.90" font-size="28.0" text-anchor="middle" fill="#262626" >-250</text>
<line x1="507.20" y1="690.90" x2="507.20" y2="701.45" stroke="#262626" stroke-width="2.3" stroke-linecap="butt" />
<text x="507.20" y="728.90" font-size="28.0" text-anchor="middle" fill="#262626" >0</text>
<line x1="595.12" y1="690.90" x2="595.12" y2="701.45" stroke="#262626" stroke-width="2.3" stroke-linecap="butt" />
<text x="595.12" y="728.90" font-size="28.0" text-anchor="middle" fill="#262626" >250</text>
<line x1="683.05" y1="690.90" x2="683.05" y2="701.45" stroke="#262626" stroke-width="2.3" stroke-linecap="butt" />
<text x="683.05" y="728.90" font-size="28.0" text-anchor="middle" fill="#262626" >500</text>
<line x1="770.98" y1="690.90" x2="770.98" y2="701.45" stroke="#262626" stroke-width="2.3" stroke-linecap="butt" />
<text x="770.98" y="728.90" font-size="28.0" text-anchor="middle" fill="#262626" >750</text>
<line x1="858.90" y1="690.90" x2="858.90" y2="701.45" stroke="#262626" stroke-width="2.3" stroke-linecap="butt" />
<text x="858.90" y="728.90" font-size="28.0" text-anchor="middle" fill="#262626" >1000</text>
<line x1="110.05" y1="117.80" x2="120.60" y2="117.80" stroke="#262626" stroke-width="2.3" stroke-linecap="butt" />
<text x="104.50" y="129.00" font-size="28.0" text-anchor="end" fill="#262626" >31</text>
<line x1="110.05" y1="189.46" x2="120.60" y2="189.46" stroke="#262626" stroke-width="2.3" stroke-linecap="butt" />
<text x="104.50" y="200.66" font-size="28.0" text-anchor="end" fill="#262626" >30</text>
<line x1="110.05" y1="261.12" x2="120.60" y2="261.12" stroke="#262626" stroke-width="2.3" stroke-linecap="butt" />
<text x="104.50" y="272.32" font-size="28.0" text-anchor="end" fill="#262626" >29</text>
<line x1="110.05" y1="332.78" x2="120.60" y2="332.78" stroke="#262626" stroke-width="2.3" stroke-linecap="butt" />
<text x="104.50" y="343.98" font-size="28.0" text-anchor="end" fill="#262626" >28</text>
<line x1="110.05" y1="404.44" x2="120.60" y2="404.44" stroke="#262626" stroke-width="2.3" stroke-linecap="butt" />
<text x="104.50" y="415.64" font-size="28.0" text-anchor="end" fill="#262626" >27</text>
<line x1="110.05" y1="476.10" x2="120.60" y2="476.10" stroke="#262626" stroke-width="2.3" stroke-linecap="butt" />
<text x="104.50" y="487.30" font-size="28.0" text-anchor="end" fill="#262626" >26</text>
<line x1="110.05" y1="547.76" x2="120.60" y2="547.76" stroke="#262626" stroke-width="2.3" stroke-linecap="butt" />
<text x="104.50" y="558.96" font-size="28.0" text-anchor="end" fill="#262626" >25</text>
<line x1="110.05" y1="619.42" x2="120.60" y2="619.42" stroke="#262626" stroke-width="2.3" stroke-linecap="butt" />
<text x="104.50" y="630.62" font-size="28.0" text-anchor="end" fill="#262626" >24</text>
<text x="507.00" y="100.00" font-size="42.05" text-anchor="middle" fill="#262626" >Pregnant women</text>
<text x="507.45" y="765.70" font-size="33.6" text-anchor="middle" fill="#262626" >Relative distance from the TSS (bp)</text>
<text x="55.60" y="400.40" font-size="33.6" text-anchor="middle" fill="#262626" transform="rotate(-90 55.60 400.40)" >BCPM</text>
<g>
<circle cx="1115.8" cy="517.6" r="5.6" fill="#000" fill-opacity="0.8" stroke="#000" stroke-opacity="0.8" stroke-width="0.8"/>
<circle cx="1181.8" cy="501.6" r="5.6" fill="#000" fill-opacity="0.8" stroke="#000" stroke-opacity="0.8" stroke-width="0.8"/>
<circle cx="1217.6" cy="502.6" r="5.6" fill="#000" fill-opacity="0.8" stroke="#000" stroke-opacity="0.8" stroke-width="0.8"/>
<circle cx="1292.2" cy="503.6" r="5.6" fill="#000" fill-opacity="0.8" stroke="#000" stroke-opacity="0.8" stroke-width="0.8"/>
<circle cx="1245.0" cy="515.2" r="5.6" fill="#000" fill-opacity="0.8" stroke="#000" stroke-opacity="0.8" stroke-width="0.8"/>
<circle cx="1257.4" cy="520.0" r="5.6" fill="#000" fill-opacity="0.8" stroke="#000" stroke-opacity="0.8" stroke-width="0.8"/>
<circle cx="1250.2" cy="523.0" r="5.6" fill="#000" fill-opacity="0.8" stroke="#000" stroke-opacity="0.8" stroke-width="0.8"/>
<circle cx="1271.8" cy="522.4" r="5.6" fill="#000" fill-opacity="0.8" stroke="#000" stroke-opacity="0.8" stroke-width="0.8"/>
<circle cx="1173.2" cy="528.8" r="5.6" fill="#000" fill-opacity="0.8" stroke="#000" stroke-opacity="0.8" stroke-width="0.8"/>
<circle cx="1189.0" cy="528.8" r="5.6" fill="#000" fill-opacity="0.8" stroke="#000" stroke-opacity="0.8" stroke-width="0.8"/>
<circle cx="1190.2" cy="535.0" r="5.6" fill="#000" fill-opacity="0.8" stroke="#000" stroke-opacity="0.8" stroke-width="0.8"/>
<circle cx="1198.6" cy="535.6" r="5.6" fill="#000" fill-opacity="0.8" stroke="#000" stroke-opacity="0.8" stroke-width="0.8"/>
<circle cx="1207.6" cy="532.4" r="5.6" fill="#000" fill-opacity="0.8" stroke="#000" stroke-opacity="0.8" stroke-width="0.8"/>
<circle cx="1229.8" cy="530.0" r="5.6" fill="#000" fill-opacity="0.8" stroke="#000" stroke-opacity="0.8" stroke-width="0.8"/>
<circle cx="1245.4" cy="535.4" r="5.6" fill="#000" fill-opacity="0.8" stroke="#000" stroke-opacity="0.8" stroke-width="0.8"/>
<circle cx="1257.2" cy="535.4" r="5.6" fill="#000" fill-opacity="0.8" stroke="#000" stroke-opacity="0.8" stroke-width="0.8"/>
<circle cx="1174.4" cy="539.0" r="5.6" fill="#000" fill-opacity="0.8" stroke="#000" stroke-opacity="0.8" stroke-width="0.8"/>
<circle cx="1192.0" cy="539.2" r="5.6" fill="#000" fill-opacity="0.8" stroke="#000" stroke-opacity="0.8" stroke-width="0.8"/>
<circle cx="1194.2" cy="542.8" r="5.6" fill="#000" fill-opacity="0.8" stroke="#000" stroke-opacity="0.8" stroke-width="0.8"/>
<circle cx="1167.2" cy="548.8" r="5.6" fill="#000" fill-opacity="0.8" stroke="#000" stroke-opacity="0.8" stroke-width="0.8"/>
<circle cx="1260.8" cy="550.6" r="5.6" fill="#000" fill-opacity="0.8" stroke="#000" stroke-opacity="0.8" stroke-width="0.8"/>
<circle cx="1266.8" cy="551.2" r="5.6" fill="#000" fill-opacity="0.8" stroke="#000" stroke-opacity="0.8" stroke-width="0.8"/>
<circle cx="1149.8" cy="561.8" r="5.6" fill="#000" fill-opacity="0.8" stroke="#000" stroke-opacity="0.8" stroke-width="0.8"/>
<circle cx="1219.0" cy="559.6" r="5.6" fill="#000" fill-opacity="0.8" stroke="#000" stroke-opacity="0.8" stroke-width="0.8"/>
<circle cx="1223.2" cy="560.2" r="5.6" fill="#000" fill-opacity="0.8" stroke="#000" stroke-opacity="0.8" stroke-width="0.8"/>
<circle cx="1247.8" cy="557.8" r="5.6" fill="#000" fill-opacity="0.8" stroke="#000" stroke-opacity="0.8" stroke-width="0.8"/>
<circle cx="1251.4" cy="559.6" r="5.6" fill="#000" fill-opacity="0.8" stroke="#000" stroke-opacity="0.8" stroke-width="0.8"/>
<circle cx="1255.0" cy="563.2" r="5.6" fill="#000" fill-opacity="0.8" stroke="#000" stroke-opacity="0.8" stroke-width="0.8"/>
<circle cx="1208.8" cy="565.6" r="5.6" fill="#000" fill-opacity="0.8" stroke="#000" stroke-opacity="0.8" stroke-width="0.8"/>
<circle cx="1123.4" cy="567.8" r="5.6" fill="#000" fill-opacity="0.8" stroke="#000" stroke-opacity="0.8" stroke-width="0.8"/>
<circle cx="1150.0" cy="575.2" r="5.6" fill="#000" fill-opacity="0.8" stroke="#000" stroke-opacity="0.8" stroke-width="0.8"/>
<circle cx="1156.6" cy="574.0" r="5.6" fill="#000" fill-opacity="0.8" stroke="#000" stroke-opacity="0.8" stroke-width="0.8"/>
<circle cx="1193.0" cy="573.6" r="5.6" fill="#000" fill-opacity="0.8" stroke="#000" stroke-opacity="0.8" stroke-width="0.8"/>
<circle cx="1207.4" cy="579.4" r="5.6" fill="#000" fill-opacity="0.8" stroke="#000" stroke-opacity="0.8" stroke-width="0.8"/>
<circle cx="1207.0" cy="583.0" r="5.6" fill="#000" fill-opacity="0.8" stroke="#000" stroke-opacity="0.8" stroke-width="0.8"/>
<circle cx="1244.4" cy="577.2" r="5.6" fill="#000" fill-opacity="0.8" stroke="#000" stroke-opacity="0.8" stroke-width="0.8"/>
<circle cx="1130.2" cy="583.0" r="5.6" fill="#000" fill-opacity="0.8" stroke="#000" stroke-opacity="0.8" stroke-width="0.8"/>
<circle cx="1196.2" cy="589.4" r="5.6" fill="#000" fill-opacity="0.8" stroke="#000" stroke-opacity="0.8" stroke-width="0.8"/>
<circle cx="1175.8" cy="593.8" r="5.6" fill="#000" fill-opacity="0.8" stroke="#000" stroke-opacity="0.8" stroke-width="0.8"/>
<circle cx="1170.2" cy="596.8" r="5.6" fill="#000" fill-opacity="0.8" stroke="#000" stroke-opacity="0.8" stroke-width="0.8"/>
<circle cx="1171.6" cy="601.0" r="5.6" fill="#000" fill-opacity="0.8" stroke="#000" stroke-opacity="0.8" stroke-width="0.8"/>
<circle cx="1241.6" cy="598.6" r="5.6" fill="#000" fill-opacity="0.8" stroke="#000" stroke-opacity="0.8" stroke-width="0.8"/>
<circle cx="1197.4" cy="603.4" r="5.6" fill="#000" fill-opacity="0.8" stroke="#000" stroke-opacity="0.8" stroke-width="0.8"/>
<circle cx="1199.8" cy="603.8" r="5.6" fill="#000" fill-opacity="0.8" stroke="#000" stroke-opacity="0.8" stroke-width="0.8"/>
<circle cx="1165.4" cy="611.8" r="5.6" fill="#000" fill-opacity="0.8" stroke="#000" stroke-opacity="0.8" stroke-width="0.8"/>
<circle cx="1191.4" cy="618.8" r="5.6" fill="#000" fill-opacity="0.8" stroke="#000" stroke-opacity="0.8" stroke-width="0.8"/>
<circle cx="1204.4" cy="619.4" r="5.6" fill="#000" fill-opacity="0.8" stroke="#000" stroke-opacity="0.8" stroke-width="0.8"/>
<circle cx="1178.0" cy="628.4" r="5.6" fill="#000" fill-opacity="0.8" stroke="#000" stroke-opacity="0.8" stroke-width="0.8"/>
<circle cx="1165.0" cy="636.4" r="5.6" fill="#000" fill-opacity="0.8" stroke="#000" stroke-opacity="0.8" stroke-width="0.8"/>
<circle cx="1208.2" cy="637.0" r="5.6" fill="#000" fill-opacity="0.8" stroke="#000" stroke-opacity="0.8" stroke-width="0.8"/>
<circle cx="1228.4" cy="635.0" r="5.6" fill="#000" fill-opacity="0.8" stroke="#000" stroke-opacity="0.8" stroke-width="0.8"/>
<circle cx="1159.0" cy="656.8" r="5.6" fill="#000" fill-opacity="0.8" stroke="#000" stroke-opacity="0.8" stroke-width="0.8"/>
<circle cx="1273.6" cy="493.6" r="5.6" fill="#000" fill-opacity="0.8" stroke="#000" stroke-opacity="0.8" stroke-width="0.8"/>
<circle cx="1271.2" cy="496.6" r="5.6" fill="#000" fill-opacity="0.8" stroke="#000" stroke-opacity="0.8" stroke-width="0.8"/>
<circle cx="1274.8" cy="497.2" r="5.6" fill="#000" fill-opacity="0.8" stroke="#000" stroke-opacity="0.8" stroke-width="0.8"/>
<circle cx="1276.0" cy="433.0" r="5.6" fill="#000" fill-opacity="0.8" stroke="#000" stroke-opacity="0.8" stroke-width="0.8"/>
<circle cx="1280.4" cy="459.2" r="5.6" fill="#000" fill-opacity="0.8" stroke="#000" stroke-opacity="0.8" stroke-width="0.8"/>
<circle cx="1282.6" cy="466.0" r="5.6" fill="#000" fill-opacity="0.8" stroke="#000" stroke-opacity="0.8" stroke-width="0.8"/>
<circle cx="1240.2" cy="470.6" r="5.6" fill="#000" fill-opacity="0.8" stroke="#000" stroke-opacity="0.8" stroke-width="0.8"/>
<circle cx="1255.2" cy="475.2" r="5.6" fill="#000" fill-opacity="0.8" stroke="#000" stroke-opacity="0.8" stroke-width="0.8"/>
<circle cx="1264.0" cy="475.2" r="5.6" fill="#000" fill-opacity="0.8" stroke="#000" stroke-opacity="0.8" stroke-width="0.8"/>
<circle cx="1221.0" cy="478.0" r="5.6" fill="#000" fill-opacity="0.8" stroke="#000" stroke-opacity="0.8" stroke-width="0.8"/>
<circle cx="1297.0" cy="477.4" r="5.6" fill="#000" fill-opacity="0.8" stroke="#000" stroke-opacity="0.8" stroke-width="0.8"/>
<circle cx="1370.2" cy="347.4" r="5.6" fill="#000" fill-opacity="0.8" stroke="#000" stroke-opacity="0.8" stroke-width="0.8"/>
<circle cx="1415.4" cy="362.4" r="5.6" fill="#000" fill-opacity="0.8" stroke="#000" stroke-opacity="0.8" stroke-width="0.8"/>
<circle cx="1415.4" cy="363.8" r="5.6" fill="#000" fill-opacity="0.8" stroke="#000" stroke-opacity="0.8" stroke-width="0.8"/>
<circle cx="1453.0" cy="339.8" r="5.6" fill="#000" fill-opacity="0.8" stroke="#000" stroke-opacity="0.8" stroke-width="0.8"/>
<circle cx="1467.4" cy="339.4" r="5.6" fill="#000" fill-opacity="0.8" stroke="#000" stroke-opacity="0.8" stroke-width="0.8"/>
<circle cx="1483.4" cy="371.2" r="5.6" fill="#000" fill-opacity="0.8" stroke="#000" stroke-opacity="0.8" stroke-width="0.8"/>
<circle cx="1335.4" cy="384.2" r="5.6" fill="#000" fill-opacity="0.8" stroke="#000" stroke-opacity="0.8" stroke-width="0.8"/>
<circle cx="1378.2" cy="386.4" r="5.6" fill="#000" fill-opacity="0.8" stroke="#000" stroke-opacity="0.8" stroke-width="0.8"/>
<circle cx="1407.6" cy="381.0" r="5.6" fill="#000" fill-opacity="0.8" stroke="#000" stroke-opacity="0.8" stroke-width="0.8"/>
<circle cx="1401.0" cy="403.4" r="5.6" fill="#000" fill-opacity="0.8" stroke="#000" stroke-opacity="0.8" stroke-width="0.8"/>
<circle cx="1480.2" cy="404.4" r="5.6" fill="#000" fill-opacity="0.8" stroke="#000" stroke-opacity="0.8" stroke-width="0.8"/>
<circle cx="1351.8" cy="412.8" r="5.6" fill="#000" fill-opacity="0.8" stroke="#000" stroke-opacity="0.8" stroke-width="0.8"/>
<circle cx="1361.8" cy="414.0" r="5.6" fill="#000" fill-opacity="0.8" stroke="#000" stroke-opacity="0.8" stroke-width="0.8"/>
<circle cx="1405.8" cy="414.6" r="5.6" fill="#000" fill-opacity="0.8" stroke="#000" stroke-opacity="0.8" stroke-width="0.8"/>
<circle cx="1433.8" cy="417.0" r="5.6" fill="#000" fill-opacity="0.8" stroke="#000" stroke-opacity="0.8" stroke-width="0.8"/>
<circle cx="1391.2" cy="432.6" r="5.6" fill="#000" fill-opacity="0.8" stroke="#000" stroke-opacity="0.8" stroke-width="0.8"/>
<circle cx="1376.6" cy="437.2" r="5.6" fill="#000" fill-opacity="0.8" stroke="#000" stroke-opacity="0.8" stroke-width="0.8"/>
<circle cx="1308.6" cy="465.0" r="5.6" fill="#000" fill-opacity="0.8" stroke="#000" stroke-opacity="0.8" stroke-width="0.8"/>
<circle cx="1321.8" cy="460.8" r="5.6" fill="#000" fill-opacity="0.8" stroke="#000" stroke-opacity="0.8" stroke-width="0.8"/>
<circle cx="1370.2" cy="467.2" r="5.6" fill="#000" fill-opacity="0.8" stroke="#000" stroke-opacity="0.8" stroke-width="0.8"/>
<circle cx="1394.8" cy="462.6" r="5.6" fill="#000" fill-opacity="0.8" stroke="#000" stroke-opacity="0.8" stroke-width="0.8"/>
<circle cx="1390.6" cy="469.8" r="5.6" fill="#000" fill-opacity="0.8" stroke="#000" stroke-opacity="0.8" stroke-width="0.8"/>
<circle cx="1306.4" cy="497.4" r="5.6" fill="#000" fill-opacity="0.8" stroke="#000" stroke-opacity="0.8" stroke-width="0.8"/>
<circle cx="1306.0" cy="506.4" r="5.6" fill="#000" fill-opacity="0.8" stroke="#000" stroke-opacity="0.8" stroke-width="0.8"/>
<circle cx="1309.8" cy="517.2" r="5.6" fill="#000" fill-opacity="0.8" stroke="#000" stroke-opacity="0.8" stroke-width="0.8"/>
<circle cx="1370.8" cy="531.2" r="5.6" fill="#000" fill-opacity="0.8" stroke="#000" stroke-opacity="0.8" stroke-width="0.8"/>
<circle cx="1598.8" cy="253.0" r="5.6" fill="#000" fill-opacity="0.8" stroke="#000" stroke-opacity="0.8" stroke-width="0.8"/>
<circle cx="1596.4" cy="262.2" r="5.6" fill="#000" fill-opacity="0.8" stroke="#000" stroke-opacity="0.8" stroke-width="0.8"/>
<circle cx="1585.6" cy="269.2" r="5.6" fill="#000" fill-opacity="0.8" stroke="#000" stroke-opacity="0.8" stroke-width="0.8"/>
<circle cx="1505.6" cy="296.0" r="5.6" fill="#000" fill-opacity="0.8" stroke="#000" stroke-opacity="0.8" stroke-width="0.8"/>
<circle cx="1528.0" cy="297.0" r="5.6" fill="#000" fill-opacity="0.8" stroke="#000" stroke-opacity="0.8" stroke-width="0.8"/>
<circle cx="1448.4" cy="325.8" r="5.6" fill="#000" fill-opacity="0.8" stroke="#000" stroke-opacity="0.8" stroke-width="0.8"/>
<circle cx="1475.2" cy="329.8" r="5.6" fill="#000" fill-opacity="0.8" stroke="#000" stroke-opacity="0.8" stroke-width="0.8"/>
<circle cx="1508.6" cy="334.4" r="5.6" fill="#000" fill-opacity="0.8" stroke="#000" stroke-opacity="0.8" stroke-width="0.8"/>
<circle cx="1529.4" cy="334.8" r="5.6" fill="#000" fill-opacity="0.8" stroke="#000" stroke-opacity="0.8" stroke-width="0.8"/>
<circle cx="1692.6" cy="137.8" r="5.6" fill="#000" fill-opacity="0.8" stroke="#000" stroke-opacity="0.8" stroke-width="0.8"/>
<circle cx="1677.8" cy="158.6" r="5.6" fill="#000" fill-opacity="0.8" stroke="#000" stroke-opacity="0.8" stroke-width="0.8"/>
</g>
<path d="M1117.4,612.2 L1127.1,605.2 L1136.8,598.1 L1146.6,591.1 L1156.3,584.1 L1166.0,577.0 L1175.7,570.0 L1185.5,562.9 L1195.2,555.8 L1204.9,548.6 L1214.6,541.5 L1224.3,534.2 L1234.1,526.9 L1243.8,519.6 L1253.5,512.3 L1263.2,505.0 L1273.0,497.7 L1282.7,490.3 L1292.4,483.0 L1302.1,475.6 L1311.8,468.1 L1321.6,460.7 L1331.3,453.2 L1341.0,445.8 L1350.7,438.3 L1360.5,430.6 L1370.2,423.0 L1379.9,415.3 L1389.6,407.6 L1399.3,399.7 L1409.1,391.8 L1418.8,383.9 L1428.5,376.0 L1438.2,368.1 L1447.9,360.3 L1457.7,352.4 L1467.4,344.5 L1477.1,336.6 L1486.8,328.7 L1496.6,320.8 L1506.3,312.9 L1516.0,305.0 L1525.7,297.1 L1535.4,289.2 L1545.2,281.4 L1554.9,273.6 L1564.6,265.8 L1574.3,258.0 L1584.1,250.2 L1593.8,242.5 L1603.5,234.6 L1613.2,226.8 L1622.9,219.0 L1632.7,211.1 L1642.4,203.3 L1652.1,195.5 L1661.8,187.6 L1671.6,179.8 L1681.3,172.0 L1691.0,164.1 L1691.0,206.7 L1681.3,213.5 L1671.6,220.3 L1661.8,227.0 L1652.1,233.8 L1642.4,240.6 L1632.7,247.3 L1622.9,254.1 L1613.2,260.9 L1603.5,267.6 L1593.8,274.5 L1584.1,281.4 L1574.3,288.3 L1564.6,295.2 L1554.9,302.2 L1545.2,309.1 L1535.4,316.0 L1525.7,323.0 L1516.0,330.0 L1506.3,337.1 L1496.6,344.1 L1486.8,351.2 L1477.1,358.2 L1467.4,365.3 L1457.7,372.3 L1447.9,379.3 L1438.2,386.3 L1428.5,393.4 L1418.8,400.4 L1409.1,407.5 L1399.3,414.5 L1389.6,421.6 L1379.9,429.0 L1370.2,436.4 L1360.5,443.8 L1350.7,451.1 L1341.0,458.7 L1331.3,466.3 L1321.6,473.9 L1311.8,481.5 L1302.1,489.1 L1292.4,496.8 L1282.7,504.5 L1273.0,512.2 L1263.2,519.9 L1253.5,527.6 L1243.8,535.4 L1234.1,543.2 L1224.3,550.9 L1214.6,558.7 L1204.9,566.6 L1195.2,574.6 L1185.5,582.5 L1175.7,590.4 L1166.0,598.4 L1156.3,606.4 L1146.6,614.5 L1136.8,622.5 L1127.1,630.5 L1117.4,638.5Z" fill="#808080" stroke="none" stroke-width="0" fill-opacity="0.3"/>
<line x1="1115.80" y1="626.60" x2="1692.70" y2="180.00" stroke="#000" stroke-width="4.0" stroke-linecap="round" />
<rect x="1087.4" y="111.9" width="634.30" height="570.80" fill="none" stroke="#262626" stroke-width="2.5"/>
<line x1="1208.80" y1="682.70" x2="1208.80" y2="693.25" stroke="#262626" stroke-width="2.5" stroke-linecap="butt" />
<text x="1208.80" y="720.80" font-size="28.6" text-anchor="middle" fill="#262626" >10</text>
<line x1="1367.35" y1="682.70" x2="1367.35" y2="693.25" stroke="#262626" stroke-width="2.5" stroke-linecap="butt" />
<text x="1367.35" y="720.80" font-size="28.6" text-anchor="middle" fill="#262626" >20</text>
<line x1="1525.90" y1="682.70" x2="1525.90" y2="693.25" stroke="#262626" stroke-width="2.5" stroke-linecap="butt" />
<text x="1525.90" y="720.80" font-size="28.6" text-anchor="middle" fill="#262626" >30</text>
<line x1="1684.45" y1="682.70" x2="1684.45" y2="693.25" stroke="#262626" stroke-width="2.5" stroke-linecap="butt" />
<text x="1684.45" y="720.80" font-size="28.6" text-anchor="middle" fill="#262626" >40</text>
<line x1="1076.85" y1="116.90" x2="1087.40" y2="116.90" stroke="#262626" stroke-width="2.5" stroke-linecap="butt" />
<text x="1071.40" y="128.10" font-size="28.6" text-anchor="end" fill="#262626" >23.0</text>
<line x1="1076.85" y1="205.70" x2="1087.40" y2="205.70" stroke="#262626" stroke-width="2.5" stroke-linecap="butt" />
<text x="1071.40" y="216.90" font-size="28.6" text-anchor="end" fill="#262626" >22.5</text>
<line x1="1076.85" y1="294.50" x2="1087.40" y2="294.50" stroke="#262626" stroke-width="2.5" stroke-linecap="butt" />
<text x="1071.40" y="305.70" font-size="28.6" text-anchor="end" fill="#262626" >22.0</text>
<line x1="1076.85" y1="383.30" x2="1087.40" y2="383.30" stroke="#262626" stroke-width="2.5" stroke-linecap="butt" />
<text x="1071.40" y="394.50" font-size="28.6" text-anchor="end" fill="#262626" >21.5</text>
<line x1="1076.85" y1="472.10" x2="1087.40" y2="472.10" stroke="#262626" stroke-width="2.5" stroke-linecap="butt" />
<text x="1071.40" y="483.30" font-size="28.6" text-anchor="end" fill="#262626" >21.0</text>
<line x1="1076.85" y1="560.90" x2="1087.40" y2="560.90" stroke="#262626" stroke-width="2.5" stroke-linecap="butt" />
<text x="1071.40" y="572.10" font-size="28.6" text-anchor="end" fill="#262626" >20.5</text>
<line x1="1076.85" y1="649.70" x2="1087.40" y2="649.70" stroke="#262626" stroke-width="2.5" stroke-linecap="butt" />
<text x="1071.40" y="660.90" font-size="28.6" text-anchor="end" fill="#262626" >20.0</text>
<text x="1404.10" y="101.00" font-size="43.0" text-anchor="middle" fill="#262626" >Pregnant women</text>
<text x="1404.60" y="759.00" font-size="34.4" text-anchor="middle" fill="#262626" >Fetal DNA fraction based on chrY (%)</text>
<text x="993.60" y="397.00" font-size="34.4" text-anchor="middle" fill="#262626" transform="rotate(-90 993.60 397.00)" >Placenta TCI</text>
<text x="1129.20" y="163.00" font-size="43.0" text-anchor="start" fill="#262626" >Peaeson r = 0.93</text>
<text x="1129.20" y="211.00" font-size="43.0" text-anchor="start" fill="#262626" >95% CI [0.88, 0.95]</text>
<text x="1129.20" y="259.00" font-size="43.0" text-anchor="start" fill="#262626" ><tspan font-style="italic">p</tspan> &lt; 0.0001</text>
<line x1="120.70" y1="1425.22" x2="1726.70" y2="1425.22" stroke="#e4e4e4" stroke-width="1.7" stroke-linecap="butt" />
<line x1="120.70" y1="1365.04" x2="1726.70" y2="1365.04" stroke="#e4e4e4" stroke-width="1.7" stroke-linecap="butt" />
<line x1="120.70" y1="1304.86" x2="1726.70" y2="1304.86" stroke="#e4e4e4" stroke-width="1.7" stroke-linecap="butt" />
<line x1="120.70" y1="1244.68" x2="1726.70" y2="1244.68" stroke="#e4e4e4" stroke-width="1.7" stroke-linecap="butt" />
<line x1="120.70" y1="1184.50" x2="1726.70" y2="1184.50" stroke="#e4e4e4" stroke-width="1.7" stroke-linecap="butt" />
<line x1="120.70" y1="1124.32" x2="1726.70" y2="1124.32" stroke="#e4e4e4" stroke-width="1.7" stroke-linecap="butt" />
<line x1="120.70" y1="1064.14" x2="1726.70" y2="1064.14" stroke="#e4e4e4" stroke-width="1.7" stroke-linecap="butt" />
<line x1="120.70" y1="1003.96" x2="1726.70" y2="1003.96" stroke="#e4e4e4" stroke-width="1.7" stroke-linecap="butt" />
<line x1="120.70" y1="943.78" x2="1726.70" y2="943.78" stroke="#e4e4e4" stroke-width="1.7" stroke-linecap="butt" />
<g>
<line x1="193.60" y1="1169.00" x2="193.60" y2="1374.60" stroke="#1f77b4" stroke-width="5.5" stroke-linecap="butt" />
<line x1="179.35" y1="1169.00" x2="207.85" y2="1169.00" stroke="#1f77b4" stroke-width="4.0" stroke-linecap="butt" />
<line x1="179.35" y1="1374.60" x2="207.85" y2="1374.60" stroke="#1f77b4" stroke-width="4.0" stroke-linecap="butt" />
<line x1="469.00" y1="1106.00" x2="469.00" y2="1260.70" stroke="#1f77b4" stroke-width="5.5" stroke-linecap="butt" />
<line x1="454.75" y1="1106.00" x2="483.25" y2="1106.00" stroke="#1f77b4" stroke-width="4.0" stroke-linecap="butt" />
<line x1="454.75" y1="1260.70" x2="483.25" y2="1260.70" stroke="#1f77b4" stroke-width="4.0" stroke-linecap="butt" />
<line x1="744.50" y1="1069.40" x2="744.50" y2="1207.70" stroke="#1f77b4" stroke-width="5.5" stroke-linecap="butt" />
<line x1="730.25" y1="1069.40" x2="758.75" y2="1069.40" stroke="#1f77b4" stroke-width="4.0" stroke-linecap="butt" />
<line x1="730.25" y1="1207.70" x2="758.75" y2="1207.70" stroke="#1f77b4" stroke-width="4.0" stroke-linecap="butt" />
<line x1="1020.20" y1="1046.70" x2="1020.20" y2="1175.80" stroke="#1f77b4" stroke-width="5.5" stroke-linecap="butt" />
<line x1="1005.95" y1="1046.70" x2="1034.45" y2="1046.70" stroke="#1f77b4" stroke-width="4.0" stroke-linecap="butt" />
<line x1="1005.95" y1="1175.80" x2="1034.45" y2="1175.80" stroke="#1f77b4" stroke-width="4.0" stroke-linecap="butt" />
<line x1="1295.60" y1="1022.30" x2="1295.60" y2="1142.60" stroke="#1f77b4" stroke-width="5.5" stroke-linecap="butt" />
<line x1="1281.35" y1="1022.30" x2="1309.85" y2="1022.30" stroke="#1f77b4" stroke-width="4.0" stroke-linecap="butt" />
<line x1="1281.35" y1="1142.60" x2="1309.85" y2="1142.60" stroke="#1f77b4" stroke-width="4.0" stroke-linecap="butt" />
<line x1="1571.00" y1="1014.60" x2="1571.00" y2="1134.80" stroke="#1f77b4" stroke-width="5.5" stroke-linecap="butt" />
<line x1="1556.75" y1="1014.60" x2="1585.25" y2="1014.60" stroke="#1f77b4" stroke-width="4.0" stroke-linecap="butt" />
<line x1="1556.75" y1="1134.80" x2="1585.25" y2="1134.80" stroke="#1f77b4" stroke-width="4.0" stroke-linecap="butt" />
<path d="M193.6,1263.6 L469.0,1177.1 L744.5,1135.3 L1020.2,1106.5 L1295.6,1077.0 L1571.0,1071.4" fill="none" stroke="#1f77b4" stroke-width="6.0" stroke-opacity="0.7" stroke-dasharray="22.6 9.76" stroke-linecap="butt"/>
<circle cx="193.60" cy="1263.60" r="8.75" fill="#1f77b4" stroke="#ffffff" stroke-width="3.7"/>
<circle cx="469.00" cy="1177.10" r="8.75" fill="#1f77b4" stroke="#ffffff" stroke-width="3.7"/>
<circle cx="744.50" cy="1135.30" r="8.75" fill="#1f77b4" stroke="#ffffff" stroke-width="3.7"/>
<circle cx="1020.20" cy="1106.50" r="8.75" fill="#1f77b4" stroke="#ffffff" stroke-width="3.7"/>
<circle cx="1295.60" cy="1077.00" r="8.75" fill="#1f77b4" stroke="#ffffff" stroke-width="3.7"/>
<circle cx="1571.00" cy="1071.40" r="8.75" fill="#1f77b4" stroke="#ffffff" stroke-width="3.7"/>
</g>
<g>
<line x1="235.00" y1="1093.40" x2="235.00" y2="1273.20" stroke="#d62728" stroke-width="5.5" stroke-linecap="butt" />
<line x1="220.75" y1="1093.40" x2="249.25" y2="1093.40" stroke="#d62728" stroke-width="4.0" stroke-linecap="butt" />
<line x1="220.75" y1="1273.20" x2="249.25" y2="1273.20" stroke="#d62728" stroke-width="4.0" stroke-linecap="butt" />
<line x1="510.50" y1="1078.00" x2="510.50" y2="1226.00" stroke="#d62728" stroke-width="5.5" stroke-linecap="butt" />
<line x1="496.25" y1="1078.00" x2="524.75" y2="1078.00" stroke="#d62728" stroke-width="4.0" stroke-linecap="butt" />
<line x1="496.25" y1="1226.00" x2="524.75" y2="1226.00" stroke="#d62728" stroke-width="4.0" stroke-linecap="butt" />
<line x1="785.70" y1="986.10" x2="785.70" y2="1113.50" stroke="#d62728" stroke-width="5.5" stroke-linecap="butt" />
<line x1="771.45" y1="986.10" x2="799.95" y2="986.10" stroke="#d62728" stroke-width="4.0" stroke-linecap="butt" />
<line x1="771.45" y1="1113.50" x2="799.95" y2="1113.50" stroke="#d62728" stroke-width="4.0" stroke-linecap="butt" />
<line x1="1061.40" y1="950.20" x2="1061.40" y2="1027.50" stroke="#d62728" stroke-width="5.5" stroke-linecap="butt" />
<line x1="1047.15" y1="950.20" x2="1075.65" y2="950.20" stroke="#d62728" stroke-width="4.0" stroke-linecap="butt" />
<line x1="1047.15" y1="1027.50" x2="1075.65" y2="1027.50" stroke="#d62728" stroke-width="4.0" stroke-linecap="butt" />
<line x1="1336.90" y1="923.80" x2="1336.90" y2="968.80" stroke="#d62728" stroke-width="5.5" stroke-linecap="butt" />
<line x1="1322.65" y1="923.80" x2="1351.15" y2="923.80" stroke="#d62728" stroke-width="4.0" stroke-linecap="butt" />
<line x1="1322.65" y1="968.80" x2="1351.15" y2="968.80" stroke="#d62728" stroke-width="4.0" stroke-linecap="butt" />
<line x1="1612.40" y1="912.40" x2="1612.40" y2="952.40" stroke="#d62728" stroke-width="5.5" stroke-linecap="butt" />
<line x1="1598.15" y1="912.40" x2="1626.65" y2="912.40" stroke="#d62728" stroke-width="4.0" stroke-linecap="butt" />
<line x1="1598.15" y1="952.40" x2="1626.65" y2="952.40" stroke="#d62728" stroke-width="4.0" stroke-linecap="butt" />
<path d="M235.0,1177.4 L510.5,1146.7 L785.7,1037.3 L1061.4,981.7 L1336.9,942.1 L1612.4,927.6" fill="none" stroke="#d62728" stroke-width="6.0" stroke-opacity="0.7" stroke-dasharray="22.6 9.76" stroke-linecap="butt"/>
<circle cx="235.00" cy="1177.40" r="8.75" fill="#d62728" stroke="#ffffff" stroke-width="3.7"/>
<circle cx="510.50" cy="1146.70" r="8.75" fill="#d62728" stroke="#ffffff" stroke-width="3.7"/>
<circle cx="785.70" cy="1037.30" r="8.75" fill="#d62728" stroke="#ffffff" stroke-width="3.7"/>
<circle cx="1061.40" cy="981.70" r="8.75" fill="#d62728" stroke="#ffffff" stroke-width="3.7"/>
<circle cx="1336.90" cy="942.10" r="8.75" fill="#d62728" stroke="#ffffff" stroke-width="3.7"/>
<circle cx="1612.40" cy="927.60" r="8.75" fill="#d62728" stroke="#ffffff" stroke-width="3.7"/>
</g>
<g>
<line x1="276.20" y1="1082.60" x2="276.20" y2="1271.80" stroke="#ff7f0e" stroke-width="5.5" stroke-linecap="butt" />
<line x1="261.95" y1="1082.60" x2="290.45" y2="1082.60" stroke="#ff7f0e" stroke-width="4.0" stroke-linecap="butt" />
<line x1="261.95" y1="1271.80" x2="290.45" y2="1271.80" stroke="#ff7f0e" stroke-width="4.0" stroke-linecap="butt" />
<line x1="551.80" y1="1063.70" x2="551.80" y2="1200.00" stroke="#ff7f0e" stroke-width="5.5" stroke-linecap="butt" />
<line x1="537.55" y1="1063.70" x2="566.05" y2="1063.70" stroke="#ff7f0e" stroke-width="4.0" stroke-linecap="butt" />
<line x1="537.55" y1="1200.00" x2="566.05" y2="1200.00" stroke="#ff7f0e" stroke-width="4.0" stroke-linecap="butt" />
<line x1="827.30" y1="1003.80" x2="827.30" y2="1132.70" stroke="#ff7f0e" stroke-width="5.5" stroke-linecap="butt" />
<line x1="813.05" y1="1003.80" x2="841.55" y2="1003.80" stroke="#ff7f0e" stroke-width="4.0" stroke-linecap="butt" />
<line x1="813.05" y1="1132.70" x2="841.55" y2="1132.70" stroke="#ff7f0e" stroke-width="4.0" stroke-linecap="butt" />
<line x1="1102.60" y1="952.20" x2="1102.60" y2="1033.80" stroke="#ff7f0e" stroke-width="5.5" stroke-linecap="butt" />
<line x1="1088.35" y1="952.20" x2="1116.85" y2="952.20" stroke="#ff7f0e" stroke-width="4.0" stroke-linecap="butt" />
<line x1="1088.35" y1="1033.80" x2="1116.85" y2="1033.80" stroke="#ff7f0e" stroke-width="4.0" stroke-linecap="butt" />
<line x1="1378.40" y1="929.80" x2="1378.40" y2="980.80" stroke="#ff7f0e" stroke-width="5.5" stroke-linecap="butt" />
<line x1="1364.15" y1="929.80" x2="1392.65" y2="929.80" stroke="#ff7f0e" stroke-width="4.0" stroke-linecap="butt" />
<line x1="1364.15" y1="980.80" x2="1392.65" y2="980.80" stroke="#ff7f0e" stroke-width="4.0" stroke-linecap="butt" />
<line x1="1653.80" y1="920.00" x2="1653.80" y2="965.40" stroke="#ff7f0e" stroke-width="5.5" stroke-linecap="butt" />
<line x1="1639.55" y1="920.00" x2="1668.05" y2="920.00" stroke="#ff7f0e" stroke-width="4.0" stroke-linecap="butt" />
<line x1="1639.55" y1="965.40" x2="1668.05" y2="965.40" stroke="#ff7f0e" stroke-width="4.0" stroke-linecap="butt" />
<path d="M276.2,1168.0 L551.8,1127.2 L827.3,1057.4 L1102.6,983.4 L1378.4,950.7 L1653.8,938.2" fill="none" stroke="#ff7f0e" stroke-width="6.0" stroke-opacity="0.7" stroke-dasharray="22.6 9.76" stroke-linecap="butt"/>
<circle cx="276.20" cy="1168.00" r="8.75" fill="#ff7f0e" stroke="#ffffff" stroke-width="3.7"/>
<circle cx="551.80" cy="1127.20" r="8.75" fill="#ff7f0e" stroke="#ffffff" stroke-width="3.7"/>
<circle cx="827.30" cy="1057.40" r="8.75" fill="#ff7f0e" stroke="#ffffff" stroke-width="3.7"/>
<circle cx="1102.60" cy="983.40" r="8.75" fill="#ff7f0e" stroke="#ffffff" stroke-width="3.7"/>
<circle cx="1378.40" cy="950.70" r="8.75" fill="#ff7f0e" stroke="#ffffff" stroke-width="3.7"/>
<circle cx="1653.80" cy="938.20" r="8.75" fill="#ff7f0e" stroke="#ffffff" stroke-width="3.7"/>
</g>
<rect x="1513.6" y="1289.7" width="198.9" height="181.3" rx="4.5" fill="#ffffff" fill-opacity="0.8" stroke="#cccccc" stroke-opacity="0.8" stroke-width="1.9"/>
<text x="1613.20" y="1325.10" font-size="31.2" text-anchor="middle" fill="#262626" >Method</text>
<line x1="1554.10" y1="1343.20" x2="1554.10" y2="1371.80" stroke="#1f77b4" stroke-width="5.5" stroke-linecap="butt" />
<line x1="1539.85" y1="1343.20" x2="1568.35" y2="1343.20" stroke="#1f77b4" stroke-width="4.0" stroke-linecap="butt" />
<line x1="1539.85" y1="1371.80" x2="1568.35" y2="1371.80" stroke="#1f77b4" stroke-width="4.0" stroke-linecap="butt" />
<circle cx="1554.10" cy="1357.50" r="8.75" fill="#1f77b4" stroke="#ffffff" stroke-width="3.7"/>
<text x="1605.60" y="1368.40" font-size="28.9" text-anchor="start" fill="#262626" >OCF</text>
<line x1="1554.10" y1="1385.70" x2="1554.10" y2="1414.30" stroke="#d62728" stroke-width="5.5" stroke-linecap="butt" />
<line x1="1539.85" y1="1385.70" x2="1568.35" y2="1385.70" stroke="#d62728" stroke-width="4.0" stroke-linecap="butt" />
<line x1="1539.85" y1="1414.30" x2="1568.35" y2="1414.30" stroke="#d62728" stroke-width="4.0" stroke-linecap="butt" />
<circle cx="1554.10" cy="1400.00" r="8.75" fill="#d62728" stroke="#ffffff" stroke-width="3.7"/>
<text x="1605.60" y="1410.30" font-size="28.9" text-anchor="start" fill="#262626" >TCI_PE</text>
<line x1="1554.10" y1="1428.50" x2="1554.10" y2="1457.10" stroke="#ff7f0e" stroke-width="5.5" stroke-linecap="butt" />
<line x1="1539.85" y1="1428.50" x2="1568.35" y2="1428.50" stroke="#ff7f0e" stroke-width="4.0" stroke-linecap="butt" />
<line x1="1539.85" y1="1457.10" x2="1568.35" y2="1457.10" stroke="#ff7f0e" stroke-width="4.0" stroke-linecap="butt" />
<circle cx="1554.10" cy="1442.80" r="8.75" fill="#ff7f0e" stroke="#ffffff" stroke-width="3.7"/>
<text x="1605.60" y="1452.90" font-size="28.9" text-anchor="start" fill="#262626" >TCI_SE</text>
<rect x="120.7" y="883.6" width="1606.00" height="601.80" fill="none" stroke="#262626" stroke-width="2.5"/>
<line x1="235.30" y1="1485.40" x2="235.30" y2="1495.95" stroke="#262626" stroke-width="2.3" stroke-linecap="butt" />
<text x="235.30" y="1526.30" font-size="31.5" text-anchor="middle" fill="#262626" >10M</text>
<line x1="510.75" y1="1485.40" x2="510.75" y2="1495.95" stroke="#262626" stroke-width="2.3" stroke-linecap="butt" />
<text x="510.75" y="1526.30" font-size="31.5" text-anchor="middle" fill="#262626" >20M</text>
<line x1="786.20" y1="1485.40" x2="786.20" y2="1495.95" stroke="#262626" stroke-width="2.3" stroke-linecap="butt" />
<text x="786.20" y="1526.30" font-size="31.5" text-anchor="middle" fill="#262626" >50M</text>
<line x1="1061.65" y1="1485.40" x2="1061.65" y2="1495.95" stroke="#262626" stroke-width="2.3" stroke-linecap="butt" />
<text x="1061.65" y="1526.30" font-size="31.5" text-anchor="middle" fill="#262626" >100M</text>
<line x1="1337.10" y1="1485.40" x2="1337.10" y2="1495.95" stroke="#262626" stroke-width="2.3" stroke-linecap="butt" />
<text x="1337.10" y="1526.30" font-size="31.5" text-anchor="middle" fill="#262626" >200M</text>
<line x1="1612.55" y1="1485.40" x2="1612.55" y2="1495.95" stroke="#262626" stroke-width="2.3" stroke-linecap="butt" />
<text x="1612.55" y="1526.30" font-size="31.5" text-anchor="middle" fill="#262626" >Raw files</text>
<text x="1612.55" y="1560.90" font-size="31.5" text-anchor="middle" fill="#262626" >(average 400M)</text>
<line x1="110.15" y1="1485.40" x2="120.70" y2="1485.40" stroke="#262626" stroke-width="2.3" stroke-linecap="butt" />
<text x="104.50" y="1496.10" font-size="29.1" text-anchor="end" fill="#262626" >0.0</text>
<line x1="110.15" y1="1425.22" x2="120.70" y2="1425.22" stroke="#262626" stroke-width="2.3" stroke-linecap="butt" />
<text x="104.50" y="1435.92" font-size="29.1" text-anchor="end" fill="#262626" >0.1</text>
<line x1="110.15" y1="1365.04" x2="120.70" y2="1365.04" stroke="#262626" stroke-width="2.3" stroke-linecap="butt" />
<text x="104.50" y="1375.74" font-size="29.1" text-anchor="end" fill="#262626" >0.2</text>
<line x1="110.15" y1="1304.86" x2="120.70" y2="1304.86" stroke="#262626" stroke-width="2.3" stroke-linecap="butt" />
<text x="104.50" y="1315.56" font-size="29.1" text-anchor="end" fill="#262626" >0.3</text>
<line x1="110.15" y1="1244.68" x2="120.70" y2="1244.68" stroke="#262626" stroke-width="2.3" stroke-linecap="butt" />
<text x="104.50" y="1255.38" font-size="29.1" text-anchor="end" fill="#262626" >0.4</text>
<line x1="110.15" y1="1184.50" x2="120.70" y2="1184.50" stroke="#262626" stroke-width="2.3" stroke-linecap="butt" />
<text x="104.50" y="1195.20" font-size="29.1" text-anchor="end" fill="#262626" >0.5</text>
<line x1="110.15" y1="1124.32" x2="120.70" y2="1124.32" stroke="#262626" stroke-width="2.3" stroke-linecap="butt" />
<text x="104.50" y="1135.02" font-size="29.1" text-anchor="end" fill="#262626" >0.6</text>
<line x1="110.15" y1="1064.14" x2="120.70" y2="1064.14" stroke="#262626" stroke-width="2.3" stroke-linecap="butt" />
<text x="104.50" y="1074.84" font-size="29.1" text-anchor="end" fill="#262626" >0.7</text>
<line x1="110.15" y1="1003.96" x2="120.70" y2="1003.96" stroke="#262626" stroke-width="2.3" stroke-linecap="butt" />
<text x="104.50" y="1014.66" font-size="29.1" text-anchor="end" fill="#262626" >0.8</text>
<line x1="110.15" y1="943.78" x2="120.70" y2="943.78" stroke="#262626" stroke-width="2.3" stroke-linecap="butt" />
<text x="104.50" y="954.48" font-size="29.1" text-anchor="end" fill="#262626" >0.9</text>
<line x1="110.15" y1="883.60" x2="120.70" y2="883.60" stroke="#262626" stroke-width="2.3" stroke-linecap="butt" />
<text x="104.50" y="894.30" font-size="29.1" text-anchor="end" fill="#262626" >1.0</text>
<text x="923.70" y="1605.80" font-size="40.1" text-anchor="middle" fill="#262626" >Number of cfDNA molecules</text>
<text x="43.20" y="1184.00" font-size="40.1" text-anchor="middle" fill="#262626" transform="rotate(-90 43.20 1184.00)" >Pearson correlation coefficient</text>
</svg>
</body>
</html>
